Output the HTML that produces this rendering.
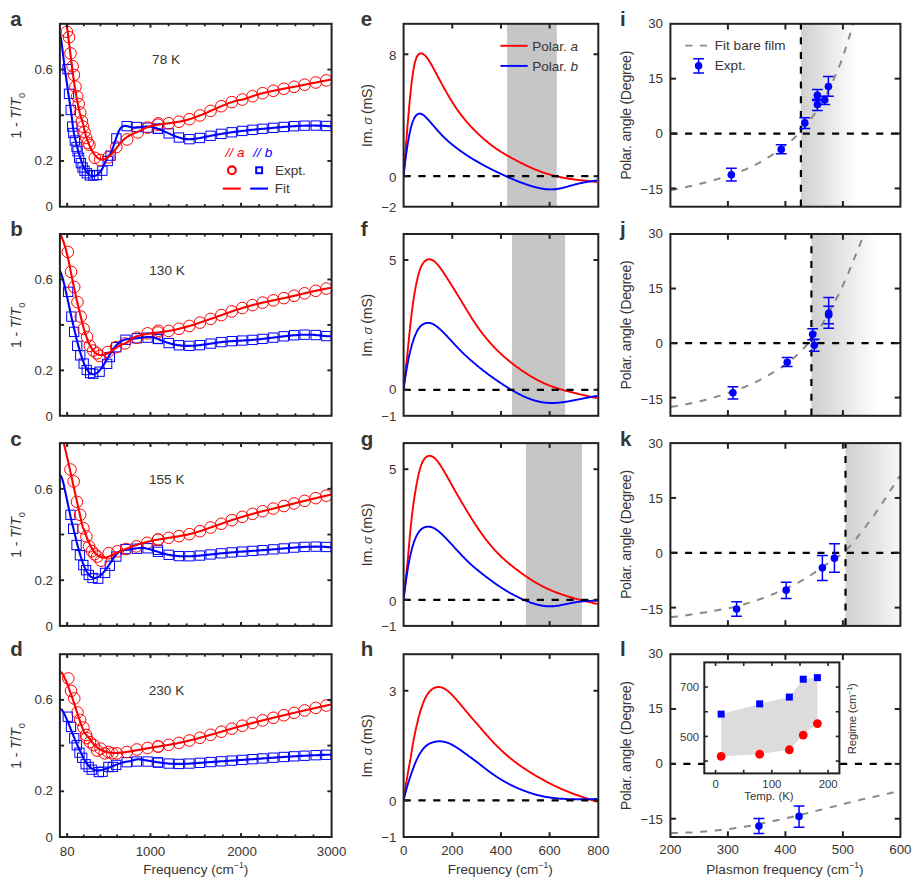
<!DOCTYPE html>
<html lang="en">
<head>
<meta charset="utf-8">
<title>Figure</title>
<style>html,body{margin:0;padding:0;background:#fff}svg{display:block}</style>
</head>
<body>
<svg width="915" height="882" viewBox="0 0 915 882" font-family="'Liberation Sans', Arial, Helvetica, sans-serif">
<rect width="915" height="882" fill="#ffffff"/>
<defs>
<clipPath id="c10"><rect x="59.9" y="23.8" width="271.7" height="182.9"/></clipPath>
<clipPath id="c20"><rect x="403.6" y="23.8" width="194.7" height="182.9"/></clipPath>
<clipPath id="c30"><rect x="670.4" y="23.8" width="230" height="182.9"/></clipPath>
<clipPath id="c11"><rect x="59.9" y="234" width="271.7" height="181.8"/></clipPath>
<clipPath id="c21"><rect x="403.6" y="234" width="194.7" height="181.8"/></clipPath>
<clipPath id="c31"><rect x="670.4" y="234" width="230" height="181.8"/></clipPath>
<clipPath id="c12"><rect x="59.9" y="443.1" width="271.7" height="182.8"/></clipPath>
<clipPath id="c22"><rect x="403.6" y="443.1" width="194.7" height="182.8"/></clipPath>
<clipPath id="c32"><rect x="670.4" y="443.1" width="230" height="182.8"/></clipPath>
<clipPath id="c13"><rect x="59.9" y="654.2" width="271.7" height="182.8"/></clipPath>
<clipPath id="c23"><rect x="403.6" y="654.2" width="194.7" height="182.8"/></clipPath>
<clipPath id="c33"><rect x="670.4" y="654.2" width="230" height="182.8"/></clipPath>
<linearGradient id="gg" x1="0" x2="1" y1="0" y2="0"><stop offset="0" stop-color="#d0d0d0"/><stop offset="0.5" stop-color="#e6e6e6"/><stop offset="1" stop-color="#ffffff"/></linearGradient>
</defs>
<g clip-path="url(#c10)">
<g fill="none" stroke="#0000ff" stroke-width="1">
<rect x="62.84" y="64.44" width="9.3" height="9.3"/>
<rect x="64.34" y="89.19" width="9.3" height="9.3"/>
<rect x="66.07" y="105.34" width="9.3" height="9.3"/>
<rect x="67.57" y="121.92" width="9.3" height="9.3"/>
<rect x="68.65" y="128.37" width="9.3" height="9.3"/>
<rect x="70.16" y="135.91" width="9.3" height="9.3"/>
<rect x="71.88" y="142.37" width="9.3" height="9.3"/>
<rect x="72.95" y="146.67" width="9.3" height="9.3"/>
<rect x="74.46" y="153.13" width="9.3" height="9.3"/>
<rect x="76.18" y="158.51" width="9.3" height="9.3"/>
<rect x="77.91" y="162.82" width="9.3" height="9.3"/>
<rect x="79.84" y="166.05" width="9.3" height="9.3"/>
<rect x="82.21" y="168.63" width="9.3" height="9.3"/>
<rect x="85.23" y="170.79" width="9.3" height="9.3"/>
<rect x="88.67" y="170.79" width="9.3" height="9.3"/>
<rect x="92.33" y="170.36" width="9.3" height="9.3"/>
<rect x="97.71" y="166.05" width="9.3" height="9.3"/>
<rect x="103.09" y="156.36" width="9.3" height="9.3"/>
<rect x="105.89" y="150.98" width="9.3" height="9.3"/>
<rect x="111.71" y="133.76" width="9.3" height="9.3"/>
<rect x="122.04" y="121.49" width="9.3" height="9.3"/>
<rect x="132.16" y="122.35" width="9.3" height="9.3"/>
<rect x="142.92" y="122.99" width="9.3" height="9.3"/>
<rect x="153.26" y="124.07" width="9.3" height="9.3"/>
<rect x="153.35" y="124.1" width="9.3" height="9.3"/>
<rect x="164.05" y="128.74" width="9.3" height="9.3"/>
<rect x="174.25" y="132.86" width="9.3" height="9.3"/>
<rect x="184.75" y="134.52" width="9.3" height="9.3"/>
<rect x="195.25" y="133.34" width="9.3" height="9.3"/>
<rect x="205.95" y="131.14" width="9.3" height="9.3"/>
<rect x="216.65" y="129.21" width="9.3" height="9.3"/>
<rect x="227.15" y="127.63" width="9.3" height="9.3"/>
<rect x="237.65" y="126.28" width="9.3" height="9.3"/>
<rect x="247.85" y="125.16" width="9.3" height="9.3"/>
<rect x="257.95" y="124.17" width="9.3" height="9.3"/>
<rect x="268.65" y="123.19" width="9.3" height="9.3"/>
<rect x="279.15" y="122.29" width="9.3" height="9.3"/>
<rect x="289.45" y="121.54" width="9.3" height="9.3"/>
<rect x="299.95" y="121.03" width="9.3" height="9.3"/>
<rect x="311.05" y="120.91" width="9.3" height="9.3"/>
<rect x="321.65" y="121.33" width="9.3" height="9.3"/>
</g>
<g fill="none" stroke="#ff0000" stroke-width="1">
<circle cx="66.84" cy="31.84" r="5.8"/>
<circle cx="68.99" cy="37.22" r="5.8"/>
<circle cx="70.5" cy="53.37" r="5.8"/>
<circle cx="72.65" cy="66.29" r="5.8"/>
<circle cx="73.95" cy="74.9" r="5.8"/>
<circle cx="75.45" cy="86.74" r="5.8"/>
<circle cx="77.17" cy="96.43" r="5.8"/>
<circle cx="78.68" cy="103.96" r="5.8"/>
<circle cx="80.19" cy="112.57" r="5.8"/>
<circle cx="81.91" cy="121.18" r="5.8"/>
<circle cx="82.99" cy="126.57" r="5.8"/>
<circle cx="84.49" cy="131.95" r="5.8"/>
<circle cx="86.22" cy="137.98" r="5.8"/>
<circle cx="87.72" cy="142.71" r="5.8"/>
<circle cx="89.45" cy="144.87" r="5.8"/>
<circle cx="94.83" cy="157.78" r="5.8"/>
<circle cx="100.21" cy="159.94" r="5.8"/>
<circle cx="116.36" cy="147.02" r="5.8"/>
<circle cx="127.12" cy="139.48" r="5.8"/>
<circle cx="137.88" cy="132.38" r="5.8"/>
<circle cx="147.57" cy="127.64" r="5.8"/>
<circle cx="158.34" cy="123.34" r="5.8"/>
<circle cx="108.3" cy="157.4" r="5.8"/>
<circle cx="158" cy="124.68" r="5.8"/>
<circle cx="168.7" cy="123.26" r="5.8"/>
<circle cx="178.9" cy="121.72" r="5.8"/>
<circle cx="189.4" cy="119.19" r="5.8"/>
<circle cx="199.9" cy="115.44" r="5.8"/>
<circle cx="210.6" cy="110.9" r="5.8"/>
<circle cx="221.3" cy="106.21" r="5.8"/>
<circle cx="231.8" cy="102.12" r="5.8"/>
<circle cx="242.3" cy="99.57" r="5.8"/>
<circle cx="252.5" cy="96.25" r="5.8"/>
<circle cx="262.6" cy="93.21" r="5.8"/>
<circle cx="273.3" cy="90.78" r="5.8"/>
<circle cx="283.8" cy="88.76" r="5.8"/>
<circle cx="294.1" cy="86.79" r="5.8"/>
<circle cx="304.6" cy="84.73" r="5.8"/>
<circle cx="315.7" cy="82.53" r="5.8"/>
<circle cx="326.3" cy="80.45" r="5.8"/>
</g>
<path d="M59.7 36.1 L60.3 35.7 L60.8 37.6 L61.4 41.0 L61.9 45.4 L62.5 49.9 L63.0 54.3 L63.6 58.6 L64.1 63.0 L64.6 67.2 L65.2 71.3 L65.7 75.1 L66.3 78.9 L66.8 82.7 L67.4 86.5 L67.9 90.5 L68.5 94.5 L69.0 98.2 L69.6 101.6 L70.1 104.8 L70.6 108.2 L71.2 112.1 L71.7 116.5 L72.3 121.3 L72.8 125.9 L73.4 129.9 L73.9 133.2 L74.5 136.0 L75.0 138.4 L75.6 140.6 L76.1 142.8 L76.6 144.9 L77.2 147.0 L77.7 149.1 L78.3 151.1 L78.8 153.0 L79.4 154.9 L79.9 156.7 L80.5 158.4 L81.0 160.1 L81.6 161.7 L82.1 163.2 L82.6 164.6 L83.2 165.9 L83.7 167.1 L84.3 168.2 L84.8 169.3 L85.4 170.2 L85.9 171.1 L86.5 171.9 L87.0 172.6 L87.6 173.3 L88.1 173.8 L88.6 174.3 L89.2 174.8 L89.7 175.1 L90.3 175.4 L90.8 175.7 L91.4 175.9 L91.9 176.0 L92.5 176.1 L93.0 176.1 L93.6 176.1 L94.1 176.1 L94.6 176.0 L95.2 175.8 L95.7 175.6 L96.3 175.4 L96.8 175.1 L97.4 174.8 L97.9 174.4 L98.5 173.9 L99.0 173.3 L99.6 172.7 L100.1 172.1 L100.6 171.3 L101.2 170.5 L101.7 169.6 L102.3 168.6 L102.8 167.5 L103.4 166.4 L103.9 165.2 L104.5 163.9 L105.0 162.7 L105.6 161.4 L106.1 160.2 L106.6 159.1 L107.2 158.1 L107.7 157.1 L108.3 156.3 L108.8 155.7 L109.4 155.1 L109.9 154.4 L110.5 153.6 L111.0 152.6 L111.6 151.4 L112.1 150.0 L112.6 148.5 L113.2 146.9 L113.7 145.3 L114.3 143.7 L114.8 142.0 L115.4 140.4 L115.9 138.8 L116.5 137.2 L117.0 135.7 L117.6 134.3 L118.1 132.9 L118.6 131.6 L119.2 130.5 L119.7 129.5 L120.3 128.6 L120.8 127.9 L121.4 127.3 L121.9 126.9 L122.5 126.5 L123.0 126.3 L123.6 126.1 L124.1 126.0 L124.6 125.9 L125.2 125.9 L125.7 126.0 L126.3 126.0 L126.8 126.1 L127.4 126.2 L127.9 126.3 L128.5 126.5 L129.0 126.6 L129.6 126.7 L130.1 126.9 L130.6 127.0 L131.2 127.1 L131.7 127.3 L132.3 127.4 L132.8 127.4 L133.4 127.5 L133.9 127.6 L134.5 127.6 L135.0 127.6 L135.6 127.6 L136.1 127.6 L136.6 127.6 L137.2 127.6 L137.7 127.5 L138.3 127.5 L138.8 127.4 L139.4 127.4 L139.9 127.3 L140.5 127.2 L141.0 127.1 L141.6 127.1 L142.1 127.0 L142.6 126.9 L143.2 126.8 L143.7 126.8 L144.3 126.7 L144.8 126.7 L145.4 126.6 L145.9 126.6 L146.5 126.5 L147.0 126.5 L147.6 126.5 L148.1 126.5 L148.6 126.5 L149.2 126.6 L149.7 126.6 L150.3 126.7 L150.8 126.7 L151.4 126.8 L151.9 126.9 L152.5 127.1 L153.0 127.2 L153.6 127.3 L154.1 127.5 L154.6 127.6 L155.2 127.8 L155.7 128.0 L156.3 128.1 L156.8 128.3 L157.4 128.5 L157.9 128.7 L158.5 128.9 L159.0 129.1 L159.6 129.3 L160.1 129.6 L160.6 129.8 L161.2 130.0 L161.7 130.3 L162.3 130.5 L162.8 130.7 L163.4 131.0 L163.9 131.2 L164.5 131.5 L165.0 131.7 L165.6 131.9 L166.1 132.2 L166.6 132.4 L167.2 132.7 L167.7 132.9 L168.3 133.2 L168.8 133.4 L169.4 133.7 L169.9 133.9 L170.5 134.2 L171.0 134.4 L171.6 134.7 L172.1 134.9 L172.6 135.1 L173.2 135.4 L173.7 135.6 L174.3 135.8 L174.8 136.0 L175.4 136.3 L175.9 136.5 L176.5 136.7 L177.0 136.9 L177.6 137.1 L178.1 137.3 L178.6 137.4 L179.2 137.6 L179.7 137.8 L180.3 137.9 L180.8 138.1 L181.4 138.2 L181.9 138.3 L182.5 138.5 L183.0 138.6 L183.6 138.7 L184.1 138.8 L184.6 138.9 L185.2 138.9 L185.7 139.0 L186.3 139.0 L186.8 139.1 L187.4 139.1 L187.9 139.1 L188.5 139.2 L189.0 139.2 L189.6 139.2 L190.1 139.2 L190.6 139.1 L191.2 139.1 L191.7 139.1 L192.3 139.1 L192.8 139.0 L193.4 139.0 L193.9 138.9 L194.5 138.8 L195.0 138.8 L195.6 138.7 L196.1 138.6 L196.6 138.5 L197.2 138.5 L197.7 138.4 L198.3 138.3 L198.8 138.2 L199.4 138.1 L199.9 138.0 L200.5 137.9 L201.0 137.8 L201.6 137.7 L202.1 137.6 L202.6 137.4 L203.2 137.3 L203.7 137.2 L204.3 137.1 L204.8 137.0 L205.4 136.9 L205.9 136.8 L206.5 136.6 L207.0 136.5 L207.6 136.4 L208.1 136.3 L208.6 136.2 L209.2 136.1 L209.7 136.0 L210.3 135.9 L210.8 135.7 L211.4 135.6 L211.9 135.5 L212.5 135.4 L213.0 135.3 L213.6 135.2 L214.1 135.1 L214.6 135.0 L215.2 134.9 L215.7 134.8 L216.3 134.7 L216.8 134.6 L217.4 134.5 L217.9 134.4 L218.5 134.3 L219.0 134.2 L219.6 134.2 L220.1 134.1 L220.6 134.0 L221.2 133.9 L221.7 133.8 L222.3 133.7 L222.8 133.6 L223.4 133.5 L223.9 133.4 L224.5 133.4 L225.0 133.3 L225.5 133.2 L226.1 133.1 L226.6 133.0 L227.2 132.9 L227.7 132.9 L228.3 132.8 L228.8 132.7 L229.4 132.6 L229.9 132.5 L230.5 132.5 L231.0 132.4 L231.5 132.3 L232.1 132.2 L232.6 132.2 L233.2 132.1 L233.7 132.0 L234.3 131.9 L234.8 131.9 L235.4 131.8 L235.9 131.7 L236.5 131.7 L237.0 131.6 L237.5 131.5 L238.1 131.4 L238.6 131.4 L239.2 131.3 L239.7 131.2 L240.3 131.2 L240.8 131.1 L241.4 131.0 L241.9 131.0 L242.5 130.9 L243.0 130.8 L243.5 130.8 L244.1 130.7 L244.6 130.7 L245.2 130.6 L245.7 130.5 L246.3 130.5 L246.8 130.4 L247.4 130.4 L247.9 130.3 L248.5 130.2 L249.0 130.2 L249.5 130.1 L250.1 130.1 L250.6 130.0 L251.2 129.9 L251.7 129.9 L252.3 129.8 L252.8 129.8 L253.4 129.7 L253.9 129.7 L254.5 129.6 L255.0 129.6 L255.5 129.5 L256.1 129.4 L256.6 129.4 L257.2 129.3 L257.7 129.3 L258.3 129.2 L258.8 129.2 L259.4 129.1 L259.9 129.1 L260.5 129.0 L261.0 129.0 L261.5 128.9 L262.1 128.9 L262.6 128.8 L263.2 128.8 L263.7 128.7 L264.3 128.7 L264.8 128.6 L265.4 128.6 L265.9 128.5 L266.5 128.5 L267.0 128.4 L267.5 128.4 L268.1 128.3 L268.6 128.3 L269.2 128.2 L269.7 128.2 L270.3 128.1 L270.8 128.1 L271.4 128.0 L271.9 128.0 L272.5 127.9 L273.0 127.9 L273.5 127.8 L274.1 127.8 L274.6 127.7 L275.2 127.7 L275.7 127.6 L276.3 127.6 L276.8 127.5 L277.4 127.5 L277.9 127.4 L278.5 127.4 L279.0 127.3 L279.5 127.3 L280.1 127.2 L280.6 127.2 L281.2 127.2 L281.7 127.1 L282.3 127.1 L282.8 127.0 L283.4 127.0 L283.9 126.9 L284.5 126.9 L285.0 126.8 L285.5 126.8 L286.1 126.8 L286.6 126.7 L287.2 126.7 L287.7 126.6 L288.3 126.6 L288.8 126.5 L289.4 126.5 L289.9 126.5 L290.5 126.4 L291.0 126.4 L291.5 126.4 L292.1 126.3 L292.6 126.3 L293.2 126.2 L293.7 126.2 L294.3 126.2 L294.8 126.1 L295.4 126.1 L295.9 126.1 L296.5 126.0 L297.0 126.0 L297.5 126.0 L298.1 126.0 L298.6 125.9 L299.2 125.9 L299.7 125.9 L300.3 125.8 L300.8 125.8 L301.4 125.8 L301.9 125.8 L302.5 125.8 L303.0 125.7 L303.5 125.7 L304.1 125.7 L304.6 125.7 L305.2 125.7 L305.7 125.6 L306.3 125.6 L306.8 125.6 L307.4 125.6 L307.9 125.6 L308.5 125.6 L309.0 125.6 L309.5 125.6 L310.1 125.6 L310.6 125.6 L311.2 125.5 L311.7 125.5 L312.3 125.5 L312.8 125.5 L313.4 125.5 L313.9 125.5 L314.5 125.5 L315.0 125.6 L315.5 125.6 L316.1 125.6 L316.6 125.6 L317.2 125.6 L317.7 125.6 L318.3 125.6 L318.8 125.6 L319.4 125.6 L319.9 125.7 L320.5 125.7 L321.0 125.7 L321.5 125.7 L322.1 125.7 L322.6 125.8 L323.2 125.8 L323.7 125.8 L324.3 125.9 L324.8 125.9 L325.4 125.9 L325.9 126.0 L326.5 126.0 L327.0 126.0 L327.5 126.1 L328.1 126.1 L328.6 126.2 L329.2 126.2 L329.7 126.2 L330.3 126.3 L330.8 126.3 L331.4 126.4 L331.9 126.5" fill="none" stroke="#0000ff" stroke-width="2.1" stroke-linejoin="round"/>
<path d="M65.8 19.9 L66.3 22.9 L66.8 26.3 L67.4 30.0 L67.9 33.9 L68.4 38.1 L69.0 42.3 L69.5 46.7 L70.0 51.1 L70.6 55.5 L71.1 59.8 L71.6 64.0 L72.2 68.2 L72.7 72.2 L73.2 76.2 L73.8 79.9 L74.3 83.6 L74.8 87.1 L75.4 90.4 L75.9 93.5 L76.4 96.5 L77.0 99.4 L77.5 102.1 L78.0 104.8 L78.6 107.4 L79.1 109.9 L79.6 112.3 L80.2 114.4 L80.7 116.2 L81.2 117.8 L81.8 119.4 L82.3 121.1 L82.8 123.1 L83.4 125.4 L83.9 127.7 L84.4 130.1 L85.0 132.3 L85.5 134.3 L86.0 136.1 L86.6 137.8 L87.1 139.3 L87.6 140.8 L88.2 142.2 L88.7 143.6 L89.2 144.9 L89.8 146.1 L90.3 147.3 L90.8 148.4 L91.4 149.4 L91.9 150.4 L92.4 151.4 L93.0 152.3 L93.5 153.1 L94.0 153.9 L94.6 154.6 L95.1 155.3 L95.6 155.9 L96.2 156.5 L96.7 157.0 L97.2 157.5 L97.8 157.9 L98.3 158.3 L98.8 158.6 L99.4 158.9 L99.9 159.1 L100.4 159.3 L101.0 159.4 L101.5 159.5 L102.0 159.6 L102.6 159.6 L103.1 159.5 L103.6 159.4 L104.2 159.3 L104.7 159.2 L105.2 159.0 L105.8 158.7 L106.3 158.4 L106.8 158.1 L107.4 157.8 L107.9 157.4 L108.4 157.0 L109.0 156.6 L109.5 156.1 L110.0 155.6 L110.6 155.1 L111.1 154.5 L111.6 154.0 L112.2 153.4 L112.7 152.8 L113.2 152.2 L113.8 151.5 L114.3 150.9 L114.8 150.2 L115.4 149.5 L115.9 148.8 L116.4 148.1 L117.0 147.4 L117.5 146.7 L118.0 146.1 L118.6 145.4 L119.1 144.7 L119.6 144.0 L120.2 143.4 L120.7 142.8 L121.2 142.2 L121.8 141.6 L122.3 141.0 L122.8 140.5 L123.4 139.9 L123.9 139.4 L124.4 139.0 L125.0 138.5 L125.5 138.1 L126.0 137.7 L126.6 137.3 L127.1 136.9 L127.6 136.6 L128.2 136.3 L128.7 136.0 L129.2 135.7 L129.8 135.4 L130.3 135.1 L130.8 134.8 L131.4 134.6 L131.9 134.3 L132.4 134.1 L133.0 133.8 L133.5 133.6 L134.0 133.4 L134.6 133.1 L135.1 132.9 L135.6 132.7 L136.2 132.4 L136.7 132.2 L137.2 131.9 L137.8 131.7 L138.3 131.4 L138.8 131.2 L139.4 130.9 L139.9 130.7 L140.4 130.4 L141.0 130.1 L141.5 129.9 L142.0 129.6 L142.6 129.4 L143.1 129.1 L143.6 128.8 L144.2 128.6 L144.7 128.4 L145.2 128.1 L145.8 127.9 L146.3 127.7 L146.8 127.4 L147.4 127.2 L147.9 127.0 L148.4 126.8 L149.0 126.7 L149.5 126.5 L150.0 126.3 L150.6 126.2 L151.1 126.0 L151.6 125.9 L152.2 125.7 L152.7 125.6 L153.2 125.5 L153.8 125.4 L154.3 125.3 L154.8 125.2 L155.4 125.1 L155.9 125.0 L156.4 124.9 L157.0 124.8 L157.5 124.8 L158.0 124.7 L158.6 124.6 L159.1 124.5 L159.6 124.4 L160.2 124.4 L160.7 124.3 L161.2 124.2 L161.8 124.2 L162.3 124.1 L162.8 124.0 L163.4 123.9 L163.9 123.9 L164.4 123.8 L165.0 123.7 L165.5 123.7 L166.0 123.6 L166.6 123.5 L167.1 123.5 L167.6 123.4 L168.2 123.3 L168.7 123.3 L169.2 123.2 L169.8 123.1 L170.3 123.1 L170.8 123.0 L171.4 122.9 L171.9 122.8 L172.4 122.8 L173.0 122.7 L173.5 122.6 L174.0 122.5 L174.6 122.4 L175.1 122.4 L175.6 122.3 L176.2 122.2 L176.7 122.1 L177.2 122.0 L177.8 121.9 L178.3 121.8 L178.8 121.7 L179.4 121.6 L179.9 121.5 L180.4 121.4 L181.0 121.3 L181.5 121.2 L182.0 121.1 L182.6 121.0 L183.1 120.9 L183.6 120.7 L184.2 120.6 L184.7 120.5 L185.2 120.4 L185.8 120.2 L186.3 120.1 L186.8 119.9 L187.4 119.8 L187.9 119.6 L188.4 119.5 L189.0 119.3 L189.5 119.2 L190.0 119.0 L190.6 118.8 L191.1 118.7 L191.6 118.5 L192.2 118.3 L192.7 118.1 L193.2 117.9 L193.8 117.8 L194.3 117.6 L194.8 117.4 L195.4 117.2 L195.9 117.0 L196.4 116.8 L197.0 116.6 L197.5 116.4 L198.0 116.2 L198.6 116.0 L199.1 115.8 L199.6 115.5 L200.2 115.3 L200.7 115.1 L201.2 114.9 L201.8 114.7 L202.3 114.5 L202.8 114.2 L203.4 114.0 L203.9 113.8 L204.4 113.6 L205.0 113.3 L205.5 113.1 L206.0 112.9 L206.6 112.7 L207.1 112.4 L207.6 112.2 L208.2 112.0 L208.7 111.7 L209.2 111.5 L209.8 111.3 L210.3 111.0 L210.8 110.8 L211.4 110.6 L211.9 110.3 L212.4 110.1 L213.0 109.9 L213.5 109.6 L214.0 109.4 L214.6 109.1 L215.1 108.9 L215.6 108.7 L216.2 108.4 L216.7 108.2 L217.2 108.0 L217.8 107.7 L218.3 107.5 L218.8 107.3 L219.4 107.0 L219.9 106.8 L220.4 106.6 L221.0 106.3 L221.5 106.1 L222.0 105.9 L222.6 105.7 L223.1 105.4 L223.6 105.2 L224.2 105.0 L224.7 104.8 L225.2 104.6 L225.8 104.3 L226.3 104.1 L226.8 103.9 L227.4 103.7 L227.9 103.5 L228.4 103.3 L229.0 103.1 L229.5 102.9 L230.0 102.7 L230.6 102.5 L231.1 102.4 L231.6 102.2 L232.2 102.0 L232.7 101.8 L233.2 101.7 L233.8 101.5 L234.3 101.3 L234.8 101.2 L235.4 101.0 L235.9 100.9 L236.4 100.8 L237.0 100.6 L237.5 100.5 L238.0 100.4 L238.6 100.3 L239.1 100.2 L239.6 100.0 L240.2 100.0 L240.7 99.9 L241.2 99.8 L241.8 99.7 L242.3 99.6 L242.8 99.5 L243.4 99.3 L243.9 99.2 L244.4 99.0 L245.0 98.9 L245.5 98.7 L246.0 98.5 L246.6 98.4 L247.1 98.2 L247.6 98.0 L248.2 97.8 L248.7 97.6 L249.2 97.4 L249.8 97.2 L250.3 97.0 L250.8 96.8 L251.4 96.7 L251.9 96.5 L252.4 96.3 L253.0 96.1 L253.5 95.9 L254.0 95.7 L254.6 95.6 L255.1 95.4 L255.6 95.2 L256.2 95.0 L256.7 94.9 L257.2 94.7 L257.8 94.6 L258.3 94.4 L258.8 94.2 L259.4 94.1 L259.9 93.9 L260.4 93.8 L261.0 93.6 L261.5 93.5 L262.0 93.4 L262.6 93.2 L263.1 93.1 L263.6 92.9 L264.2 92.8 L264.7 92.7 L265.2 92.6 L265.8 92.4 L266.3 92.3 L266.8 92.2 L267.4 92.1 L267.9 91.9 L268.4 91.8 L269.0 91.7 L269.5 91.6 L270.0 91.5 L270.6 91.3 L271.1 91.2 L271.6 91.1 L272.2 91.0 L272.7 90.9 L273.2 90.8 L273.8 90.7 L274.3 90.6 L274.8 90.5 L275.4 90.4 L275.9 90.3 L276.4 90.2 L277.0 90.1 L277.5 90.0 L278.0 89.8 L278.6 89.7 L279.1 89.6 L279.6 89.5 L280.2 89.4 L280.7 89.3 L281.2 89.2 L281.8 89.1 L282.3 89.0 L282.8 88.9 L283.4 88.8 L283.9 88.7 L284.4 88.6 L285.0 88.5 L285.5 88.4 L286.0 88.3 L286.6 88.2 L287.1 88.1 L287.6 88.0 L288.2 87.9 L288.7 87.8 L289.2 87.7 L289.8 87.6 L290.3 87.5 L290.8 87.4 L291.4 87.3 L291.9 87.2 L292.4 87.1 L293.0 87.0 L293.5 86.9 L294.0 86.8 L294.6 86.7 L295.1 86.6 L295.6 86.5 L296.2 86.4 L296.7 86.3 L297.2 86.2 L297.8 86.1 L298.3 86.0 L298.8 85.9 L299.4 85.8 L299.9 85.7 L300.4 85.6 L301.0 85.4 L301.5 85.3 L302.0 85.2 L302.6 85.1 L303.1 85.0 L303.6 84.9 L304.2 84.8 L304.7 84.7 L305.2 84.6 L305.8 84.5 L306.3 84.4 L306.8 84.3 L307.4 84.2 L307.9 84.1 L308.4 84.0 L309.0 83.9 L309.5 83.8 L310.0 83.7 L310.6 83.5 L311.1 83.4 L311.6 83.3 L312.2 83.2 L312.7 83.1 L313.2 83.0 L313.8 82.9 L314.3 82.8 L314.8 82.7 L315.4 82.6 L315.9 82.5 L316.4 82.4 L317.0 82.3 L317.5 82.2 L318.0 82.1 L318.6 82.0 L319.1 81.9 L319.6 81.8 L320.2 81.6 L320.7 81.5 L321.2 81.4 L321.8 81.3 L322.3 81.2 L322.8 81.1 L323.4 81.0 L323.9 80.9 L324.4 80.8 L325.0 80.7 L325.5 80.6 L326.0 80.5 L326.6 80.4 L327.1 80.3 L327.6 80.2 L328.2 80.1 L328.7 80.0 L329.2 79.9 L329.8 79.8 L330.3 79.7 L330.8 79.6 L331.4 79.5 L331.9 79.4" fill="none" stroke="#ff0000" stroke-width="2.1" stroke-linejoin="round"/>
</g>
<line x1="83.81" y1="206.7" x2="83.81" y2="204.2" stroke="#222222" stroke-width="1.8"/>
<line x1="83.81" y1="23.8" x2="83.81" y2="26.3" stroke="#222222" stroke-width="1.8"/>
<line x1="100.47" y1="206.7" x2="100.47" y2="204.2" stroke="#222222" stroke-width="1.8"/>
<line x1="100.47" y1="23.8" x2="100.47" y2="26.3" stroke="#222222" stroke-width="1.8"/>
<line x1="117.14" y1="206.7" x2="117.14" y2="204.2" stroke="#222222" stroke-width="1.8"/>
<line x1="117.14" y1="23.8" x2="117.14" y2="26.3" stroke="#222222" stroke-width="1.8"/>
<line x1="133.8" y1="206.7" x2="133.8" y2="204.2" stroke="#222222" stroke-width="1.8"/>
<line x1="133.8" y1="23.8" x2="133.8" y2="26.3" stroke="#222222" stroke-width="1.8"/>
<line x1="168.58" y1="206.7" x2="168.58" y2="204.2" stroke="#222222" stroke-width="1.8"/>
<line x1="168.58" y1="23.8" x2="168.58" y2="26.3" stroke="#222222" stroke-width="1.8"/>
<line x1="186.69" y1="206.7" x2="186.69" y2="204.2" stroke="#222222" stroke-width="1.8"/>
<line x1="186.69" y1="23.8" x2="186.69" y2="26.3" stroke="#222222" stroke-width="1.8"/>
<line x1="204.81" y1="206.7" x2="204.81" y2="204.2" stroke="#222222" stroke-width="1.8"/>
<line x1="204.81" y1="23.8" x2="204.81" y2="26.3" stroke="#222222" stroke-width="1.8"/>
<line x1="222.92" y1="206.7" x2="222.92" y2="204.2" stroke="#222222" stroke-width="1.8"/>
<line x1="222.92" y1="23.8" x2="222.92" y2="26.3" stroke="#222222" stroke-width="1.8"/>
<line x1="259.15" y1="206.7" x2="259.15" y2="204.2" stroke="#222222" stroke-width="1.8"/>
<line x1="259.15" y1="23.8" x2="259.15" y2="26.3" stroke="#222222" stroke-width="1.8"/>
<line x1="277.26" y1="206.7" x2="277.26" y2="204.2" stroke="#222222" stroke-width="1.8"/>
<line x1="277.26" y1="23.8" x2="277.26" y2="26.3" stroke="#222222" stroke-width="1.8"/>
<line x1="295.37" y1="206.7" x2="295.37" y2="204.2" stroke="#222222" stroke-width="1.8"/>
<line x1="295.37" y1="23.8" x2="295.37" y2="26.3" stroke="#222222" stroke-width="1.8"/>
<line x1="313.49" y1="206.7" x2="313.49" y2="204.2" stroke="#222222" stroke-width="1.8"/>
<line x1="313.49" y1="23.8" x2="313.49" y2="26.3" stroke="#222222" stroke-width="1.8"/>
<line x1="67.15" y1="206.7" x2="67.15" y2="202.8" stroke="#222222" stroke-width="2"/>
<line x1="67.15" y1="23.8" x2="67.15" y2="27.7" stroke="#222222" stroke-width="2"/>
<line x1="150.47" y1="206.7" x2="150.47" y2="202.8" stroke="#222222" stroke-width="2"/>
<line x1="150.47" y1="23.8" x2="150.47" y2="27.7" stroke="#222222" stroke-width="2"/>
<line x1="241.03" y1="206.7" x2="241.03" y2="202.8" stroke="#222222" stroke-width="2"/>
<line x1="241.03" y1="23.8" x2="241.03" y2="27.7" stroke="#222222" stroke-width="2"/>
<line x1="59.9" y1="160.97" x2="64.1" y2="160.97" stroke="#222222" stroke-width="1.9"/>
<line x1="331.6" y1="160.97" x2="327.4" y2="160.97" stroke="#222222" stroke-width="1.9"/>
<line x1="59.9" y1="115.25" x2="64.1" y2="115.25" stroke="#222222" stroke-width="1.9"/>
<line x1="331.6" y1="115.25" x2="327.4" y2="115.25" stroke="#222222" stroke-width="1.9"/>
<line x1="59.9" y1="69.53" x2="64.1" y2="69.53" stroke="#222222" stroke-width="1.9"/>
<line x1="331.6" y1="69.53" x2="327.4" y2="69.53" stroke="#222222" stroke-width="1.9"/>
<rect x="59.9" y="23.8" width="271.7" height="182.9" fill="none" stroke="#222222" stroke-width="2"/>
<text x="53" y="210.9" font-size="13.3" text-anchor="end" fill="#3a3532">0</text>
<text x="53" y="165.3" font-size="13.3" text-anchor="end" fill="#3a3532">0.2</text>
<text x="53" y="73.9" font-size="13.3" text-anchor="end" fill="#3a3532">0.6</text>
<text transform="translate(21.4 115.75) rotate(-90)" font-size="14.2" letter-spacing="-0.2" text-anchor="middle" fill="#3a3532">1 - <tspan font-style="italic">T</tspan>/<tspan font-style="italic">T</tspan><tspan dy="3.2" font-size="9.2">0</tspan></text>
<text x="10.3" y="26.1" font-size="20.5" text-anchor="start" fill="#3a3532" font-weight="bold" fill="#111">a</text>
<text x="152.1" y="64.1" font-size="13.6" text-anchor="start" fill="#3a3532">78 K</text>
<g clip-path="url(#c11)">
<g fill="none" stroke="#0000ff" stroke-width="1">
<rect x="132.16" y="333.64" width="9.3" height="9.3"/>
<rect x="142.92" y="332.99" width="9.3" height="9.3"/>
<rect x="153.26" y="334.07" width="9.3" height="9.3"/>
<rect x="63.45" y="287.16" width="9.3" height="9.3"/>
<rect x="66.68" y="311.94" width="9.3" height="9.3"/>
<rect x="69.49" y="327.25" width="9.3" height="9.3"/>
<rect x="72.55" y="341.2" width="9.3" height="9.3"/>
<rect x="75.62" y="350.72" width="9.3" height="9.3"/>
<rect x="79.02" y="358.89" width="9.3" height="9.3"/>
<rect x="82.08" y="365.35" width="9.3" height="9.3"/>
<rect x="85.48" y="368.41" width="9.3" height="9.3"/>
<rect x="88.54" y="369.09" width="9.3" height="9.3"/>
<rect x="95" y="367.05" width="9.3" height="9.3"/>
<rect x="102.49" y="359.23" width="9.3" height="9.3"/>
<rect x="105.21" y="352.42" width="9.3" height="9.3"/>
<rect x="111.67" y="342.56" width="9.3" height="9.3"/>
<rect x="120.85" y="335.08" width="9.3" height="9.3"/>
<rect x="153.35" y="334.37" width="9.3" height="9.3"/>
<rect x="164.05" y="338.41" width="9.3" height="9.3"/>
<rect x="174.25" y="340.61" width="9.3" height="9.3"/>
<rect x="184.75" y="341.22" width="9.3" height="9.3"/>
<rect x="195.25" y="340.47" width="9.3" height="9.3"/>
<rect x="205.95" y="338.97" width="9.3" height="9.3"/>
<rect x="216.65" y="337.45" width="9.3" height="9.3"/>
<rect x="227.15" y="336.5" width="9.3" height="9.3"/>
<rect x="237.65" y="335.9" width="9.3" height="9.3"/>
<rect x="247.85" y="335.25" width="9.3" height="9.3"/>
<rect x="257.95" y="334.25" width="9.3" height="9.3"/>
<rect x="268.65" y="332.95" width="9.3" height="9.3"/>
<rect x="279.15" y="331.66" width="9.3" height="9.3"/>
<rect x="289.45" y="330.6" width="9.3" height="9.3"/>
<rect x="299.95" y="330.05" width="9.3" height="9.3"/>
<rect x="311.05" y="330.39" width="9.3" height="9.3"/>
<rect x="321.65" y="331.47" width="9.3" height="9.3"/>
</g>
<g fill="none" stroke="#ff0000" stroke-width="1">
<circle cx="136.81" cy="337.64" r="5.8"/>
<circle cx="147.57" cy="333.34" r="5.8"/>
<circle cx="158.34" cy="330.75" r="5.8"/>
<circle cx="67.78" cy="251.94" r="5.8"/>
<circle cx="71.01" cy="271.87" r="5.8"/>
<circle cx="74.24" cy="286.96" r="5.8"/>
<circle cx="77.47" cy="302.04" r="5.8"/>
<circle cx="80.71" cy="316.59" r="5.8"/>
<circle cx="83.67" cy="328.84" r="5.8"/>
<circle cx="87.07" cy="337.01" r="5.8"/>
<circle cx="89.79" cy="345.85" r="5.8"/>
<circle cx="93.19" cy="350.61" r="5.8"/>
<circle cx="96.93" cy="353.33" r="5.8"/>
<circle cx="99.65" cy="356.05" r="5.8"/>
<circle cx="107.82" cy="351.97" r="5.8"/>
<circle cx="115.98" cy="347.21" r="5.8"/>
<circle cx="124.82" cy="343.47" r="5.8"/>
<circle cx="158" cy="332.45" r="5.8"/>
<circle cx="168.7" cy="330.91" r="5.8"/>
<circle cx="178.9" cy="328.79" r="5.8"/>
<circle cx="189.4" cy="325.94" r="5.8"/>
<circle cx="199.9" cy="322.62" r="5.8"/>
<circle cx="210.6" cy="318.92" r="5.8"/>
<circle cx="221.3" cy="315.12" r="5.8"/>
<circle cx="231.8" cy="311.46" r="5.8"/>
<circle cx="242.3" cy="308.05" r="5.8"/>
<circle cx="252.5" cy="305.11" r="5.8"/>
<circle cx="262.6" cy="302.65" r="5.8"/>
<circle cx="273.3" cy="300.34" r="5.8"/>
<circle cx="283.8" cy="298.11" r="5.8"/>
<circle cx="294.1" cy="295.77" r="5.8"/>
<circle cx="304.6" cy="293.31" r="5.8"/>
<circle cx="315.7" cy="290.79" r="5.8"/>
<circle cx="326.3" cy="288.63" r="5.8"/>
</g>
<path d="M59.7 270.5 L60.3 271.4 L60.8 272.7 L61.4 274.1 L61.9 275.8 L62.5 277.6 L63.0 279.6 L63.6 281.7 L64.1 283.8 L64.6 286.1 L65.2 288.4 L65.7 290.8 L66.3 293.2 L66.8 295.7 L67.4 298.2 L67.9 300.7 L68.5 303.2 L69.0 305.7 L69.6 308.2 L70.1 310.8 L70.6 313.3 L71.2 315.8 L71.7 318.3 L72.3 320.7 L72.8 323.1 L73.4 325.5 L73.9 327.9 L74.5 330.2 L75.0 332.5 L75.6 334.7 L76.1 337.0 L76.6 339.1 L77.2 341.3 L77.7 343.4 L78.3 345.4 L78.8 347.4 L79.4 349.4 L79.9 351.3 L80.5 353.1 L81.0 354.9 L81.6 356.6 L82.1 358.3 L82.6 359.8 L83.2 361.3 L83.7 362.7 L84.3 364.1 L84.8 365.3 L85.4 366.5 L85.9 367.6 L86.5 368.6 L87.0 369.5 L87.6 370.3 L88.1 371.0 L88.6 371.7 L89.2 372.3 L89.7 372.7 L90.3 373.2 L90.8 373.5 L91.4 373.8 L91.9 374.0 L92.5 374.1 L93.0 374.2 L93.6 374.2 L94.1 374.1 L94.6 374.0 L95.2 373.8 L95.7 373.6 L96.3 373.3 L96.8 372.9 L97.4 372.5 L97.9 372.1 L98.5 371.6 L99.0 371.0 L99.6 370.4 L100.1 369.8 L100.6 369.1 L101.2 368.4 L101.7 367.7 L102.3 366.9 L102.8 366.1 L103.4 365.3 L103.9 364.4 L104.5 363.5 L105.0 362.6 L105.6 361.7 L106.1 360.8 L106.6 359.8 L107.2 358.9 L107.7 358.0 L108.3 357.0 L108.8 356.1 L109.4 355.2 L109.9 354.3 L110.5 353.4 L111.0 352.5 L111.6 351.6 L112.1 350.8 L112.6 350.0 L113.2 349.3 L113.7 348.5 L114.3 347.8 L114.8 347.1 L115.4 346.5 L115.9 345.8 L116.5 345.2 L117.0 344.7 L117.6 344.1 L118.1 343.6 L118.6 343.1 L119.2 342.7 L119.7 342.3 L120.3 341.9 L120.8 341.5 L121.4 341.2 L121.9 340.8 L122.5 340.6 L123.0 340.3 L123.6 340.1 L124.1 339.9 L124.6 339.7 L125.2 339.6 L125.7 339.4 L126.3 339.3 L126.8 339.2 L127.4 339.1 L127.9 339.1 L128.5 339.0 L129.0 339.0 L129.6 338.9 L130.1 338.9 L130.6 338.8 L131.2 338.8 L131.7 338.7 L132.3 338.7 L132.8 338.7 L133.4 338.6 L133.9 338.6 L134.5 338.5 L135.0 338.5 L135.6 338.4 L136.1 338.4 L136.6 338.3 L137.2 338.2 L137.7 338.2 L138.3 338.1 L138.8 338.0 L139.4 338.0 L139.9 337.9 L140.5 337.8 L141.0 337.8 L141.6 337.7 L142.1 337.6 L142.6 337.5 L143.2 337.5 L143.7 337.4 L144.3 337.3 L144.8 337.2 L145.4 337.2 L145.9 337.1 L146.5 337.1 L147.0 337.0 L147.6 337.0 L148.1 337.0 L148.6 337.0 L149.2 337.0 L149.7 337.0 L150.3 337.0 L150.8 337.1 L151.4 337.1 L151.9 337.2 L152.5 337.3 L153.0 337.4 L153.6 337.5 L154.1 337.6 L154.6 337.8 L155.2 338.0 L155.7 338.1 L156.3 338.3 L156.8 338.5 L157.4 338.8 L157.9 339.0 L158.5 339.2 L159.0 339.4 L159.6 339.7 L160.1 339.9 L160.6 340.2 L161.2 340.4 L161.7 340.6 L162.3 340.8 L162.8 341.0 L163.4 341.3 L163.9 341.5 L164.5 341.7 L165.0 341.9 L165.6 342.1 L166.1 342.2 L166.6 342.4 L167.2 342.6 L167.7 342.8 L168.3 342.9 L168.8 343.1 L169.4 343.3 L169.9 343.4 L170.5 343.6 L171.0 343.7 L171.6 343.8 L172.1 344.0 L172.6 344.1 L173.2 344.2 L173.7 344.4 L174.3 344.5 L174.8 344.6 L175.4 344.7 L175.9 344.8 L176.5 344.9 L177.0 345.0 L177.6 345.1 L178.1 345.1 L178.6 345.2 L179.2 345.3 L179.7 345.4 L180.3 345.4 L180.8 345.5 L181.4 345.6 L181.9 345.6 L182.5 345.7 L183.0 345.7 L183.6 345.7 L184.1 345.8 L184.6 345.8 L185.2 345.8 L185.7 345.8 L186.3 345.9 L186.8 345.9 L187.4 345.9 L187.9 345.9 L188.5 345.9 L189.0 345.9 L189.6 345.9 L190.1 345.9 L190.6 345.8 L191.2 345.8 L191.7 345.8 L192.3 345.8 L192.8 345.7 L193.4 345.7 L193.9 345.7 L194.5 345.6 L195.0 345.6 L195.6 345.6 L196.1 345.5 L196.6 345.5 L197.2 345.4 L197.7 345.4 L198.3 345.3 L198.8 345.2 L199.4 345.2 L199.9 345.1 L200.5 345.1 L201.0 345.0 L201.6 344.9 L202.1 344.8 L202.6 344.8 L203.2 344.7 L203.7 344.6 L204.3 344.6 L204.8 344.5 L205.4 344.4 L205.9 344.3 L206.5 344.2 L207.0 344.2 L207.6 344.1 L208.1 344.0 L208.6 343.9 L209.2 343.8 L209.7 343.8 L210.3 343.7 L210.8 343.6 L211.4 343.5 L211.9 343.4 L212.5 343.3 L213.0 343.3 L213.6 343.2 L214.1 343.1 L214.6 343.0 L215.2 342.9 L215.7 342.9 L216.3 342.8 L216.8 342.7 L217.4 342.6 L217.9 342.5 L218.5 342.5 L219.0 342.4 L219.6 342.3 L220.1 342.3 L220.6 342.2 L221.2 342.1 L221.7 342.1 L222.3 342.0 L222.8 341.9 L223.4 341.9 L223.9 341.8 L224.5 341.8 L225.0 341.7 L225.5 341.6 L226.1 341.6 L226.6 341.5 L227.2 341.5 L227.7 341.5 L228.3 341.4 L228.8 341.4 L229.4 341.3 L229.9 341.3 L230.5 341.2 L231.0 341.2 L231.5 341.2 L232.1 341.1 L232.6 341.1 L233.2 341.1 L233.7 341.0 L234.3 341.0 L234.8 341.0 L235.4 340.9 L235.9 340.9 L236.5 340.9 L237.0 340.8 L237.5 340.8 L238.1 340.8 L238.6 340.7 L239.2 340.7 L239.7 340.7 L240.3 340.7 L240.8 340.6 L241.4 340.6 L241.9 340.6 L242.5 340.5 L243.0 340.5 L243.5 340.5 L244.1 340.5 L244.6 340.4 L245.2 340.4 L245.7 340.4 L246.3 340.3 L246.8 340.3 L247.4 340.3 L247.9 340.2 L248.5 340.2 L249.0 340.2 L249.5 340.1 L250.1 340.1 L250.6 340.0 L251.2 340.0 L251.7 340.0 L252.3 339.9 L252.8 339.9 L253.4 339.8 L253.9 339.8 L254.5 339.7 L255.0 339.7 L255.5 339.6 L256.1 339.6 L256.6 339.5 L257.2 339.5 L257.7 339.4 L258.3 339.4 L258.8 339.3 L259.4 339.3 L259.9 339.2 L260.5 339.1 L261.0 339.1 L261.5 339.0 L262.1 339.0 L262.6 338.9 L263.2 338.8 L263.7 338.8 L264.3 338.7 L264.8 338.6 L265.4 338.6 L265.9 338.5 L266.5 338.5 L267.0 338.4 L267.5 338.3 L268.1 338.3 L268.6 338.2 L269.2 338.1 L269.7 338.1 L270.3 338.0 L270.8 337.9 L271.4 337.8 L271.9 337.8 L272.5 337.7 L273.0 337.6 L273.5 337.6 L274.1 337.5 L274.6 337.4 L275.2 337.4 L275.7 337.3 L276.3 337.2 L276.8 337.2 L277.4 337.1 L277.9 337.0 L278.5 337.0 L279.0 336.9 L279.5 336.8 L280.1 336.8 L280.6 336.7 L281.2 336.6 L281.7 336.6 L282.3 336.5 L282.8 336.4 L283.4 336.4 L283.9 336.3 L284.5 336.2 L285.0 336.2 L285.5 336.1 L286.1 336.0 L286.6 336.0 L287.2 335.9 L287.7 335.9 L288.3 335.8 L288.8 335.7 L289.4 335.7 L289.9 335.6 L290.5 335.6 L291.0 335.5 L291.5 335.5 L292.1 335.4 L292.6 335.4 L293.2 335.3 L293.7 335.3 L294.3 335.2 L294.8 335.2 L295.4 335.2 L295.9 335.1 L296.5 335.1 L297.0 335.0 L297.5 335.0 L298.1 335.0 L298.6 334.9 L299.2 334.9 L299.7 334.9 L300.3 334.8 L300.8 334.8 L301.4 334.8 L301.9 334.8 L302.5 334.8 L303.0 334.7 L303.5 334.7 L304.1 334.7 L304.6 334.7 L305.2 334.7 L305.7 334.7 L306.3 334.7 L306.8 334.7 L307.4 334.7 L307.9 334.7 L308.5 334.7 L309.0 334.7 L309.5 334.7 L310.1 334.7 L310.6 334.7 L311.2 334.8 L311.7 334.8 L312.3 334.8 L312.8 334.8 L313.4 334.9 L313.9 334.9 L314.5 334.9 L315.0 335.0 L315.5 335.0 L316.1 335.1 L316.6 335.1 L317.2 335.2 L317.7 335.2 L318.3 335.3 L318.8 335.3 L319.4 335.4 L319.9 335.5 L320.5 335.5 L321.0 335.6 L321.5 335.6 L322.1 335.7 L322.6 335.8 L323.2 335.8 L323.7 335.9 L324.3 335.9 L324.8 336.0 L325.4 336.0 L325.9 336.1 L326.5 336.1 L327.0 336.2 L327.5 336.2 L328.1 336.2 L328.6 336.3 L329.2 336.3 L329.7 336.3 L330.3 336.3 L330.8 336.3 L331.4 336.3 L331.9 336.3" fill="none" stroke="#0000ff" stroke-width="2.1" stroke-linejoin="round"/>
<path d="M59.7 232.7 L60.3 233.9 L60.8 235.2 L61.4 236.4 L61.9 237.8 L62.5 239.1 L63.0 240.5 L63.6 242.0 L64.1 243.6 L64.6 245.3 L65.2 247.0 L65.7 248.9 L66.3 251.0 L66.8 253.1 L67.4 255.4 L67.9 257.8 L68.5 260.3 L69.0 262.8 L69.6 265.4 L70.1 268.1 L70.6 270.8 L71.2 273.6 L71.7 276.3 L72.3 279.1 L72.8 281.8 L73.4 284.4 L73.9 287.0 L74.5 289.6 L75.0 292.1 L75.6 294.6 L76.1 297.0 L76.6 299.4 L77.2 301.7 L77.7 304.1 L78.3 306.4 L78.8 308.7 L79.4 311.0 L79.9 313.2 L80.5 315.5 L81.0 317.7 L81.6 319.9 L82.1 322.1 L82.6 324.1 L83.2 326.2 L83.7 328.2 L84.3 330.1 L84.8 331.9 L85.4 333.7 L85.9 335.4 L86.5 337.0 L87.0 338.5 L87.6 339.9 L88.1 341.3 L88.6 342.6 L89.2 343.8 L89.7 344.9 L90.3 346.0 L90.8 346.9 L91.4 347.9 L91.9 348.7 L92.5 349.5 L93.0 350.3 L93.6 350.9 L94.1 351.5 L94.6 352.1 L95.2 352.6 L95.7 353.0 L96.3 353.4 L96.8 353.8 L97.4 354.1 L97.9 354.3 L98.5 354.6 L99.0 354.7 L99.6 354.9 L100.1 355.0 L100.6 355.0 L101.2 355.0 L101.7 355.0 L102.3 355.0 L102.8 354.9 L103.4 354.8 L103.9 354.7 L104.5 354.5 L105.0 354.4 L105.6 354.2 L106.1 354.0 L106.6 353.7 L107.2 353.5 L107.7 353.2 L108.3 353.0 L108.8 352.7 L109.4 352.4 L109.9 352.0 L110.5 351.7 L111.0 351.4 L111.6 351.0 L112.1 350.7 L112.6 350.3 L113.2 349.9 L113.7 349.6 L114.3 349.2 L114.8 348.8 L115.4 348.4 L115.9 348.1 L116.5 347.7 L117.0 347.3 L117.6 347.0 L118.1 346.6 L118.6 346.3 L119.2 345.9 L119.7 345.6 L120.3 345.3 L120.8 345.0 L121.4 344.8 L121.9 344.5 L122.5 344.3 L123.0 344.1 L123.6 343.9 L124.1 343.7 L124.6 343.5 L125.2 343.3 L125.7 343.1 L126.3 342.8 L126.8 342.5 L127.4 342.2 L127.9 341.8 L128.5 341.3 L129.0 340.9 L129.6 340.4 L130.1 339.9 L130.6 339.5 L131.2 339.1 L131.7 338.7 L132.3 338.3 L132.8 338.0 L133.4 337.7 L133.9 337.4 L134.5 337.2 L135.0 336.9 L135.6 336.7 L136.1 336.5 L136.6 336.3 L137.2 336.2 L137.7 336.0 L138.3 335.8 L138.8 335.7 L139.4 335.6 L139.9 335.4 L140.5 335.3 L141.0 335.2 L141.6 335.1 L142.1 334.9 L142.6 334.8 L143.2 334.7 L143.7 334.6 L144.3 334.5 L144.8 334.4 L145.4 334.3 L145.9 334.2 L146.5 334.1 L147.0 334.0 L147.6 333.9 L148.1 333.8 L148.6 333.8 L149.2 333.7 L149.7 333.6 L150.3 333.5 L150.8 333.4 L151.4 333.3 L151.9 333.3 L152.5 333.2 L153.0 333.1 L153.6 333.0 L154.1 333.0 L154.6 332.9 L155.2 332.8 L155.7 332.7 L156.3 332.7 L156.8 332.6 L157.4 332.5 L157.9 332.5 L158.5 332.4 L159.0 332.3 L159.6 332.3 L160.1 332.2 L160.6 332.1 L161.2 332.0 L161.7 332.0 L162.3 331.9 L162.8 331.8 L163.4 331.7 L163.9 331.7 L164.5 331.6 L165.0 331.5 L165.6 331.4 L166.1 331.3 L166.6 331.2 L167.2 331.2 L167.7 331.1 L168.3 331.0 L168.8 330.9 L169.4 330.8 L169.9 330.7 L170.5 330.6 L171.0 330.5 L171.6 330.4 L172.1 330.3 L172.6 330.2 L173.2 330.1 L173.7 330.0 L174.3 329.8 L174.8 329.7 L175.4 329.6 L175.9 329.5 L176.5 329.4 L177.0 329.2 L177.6 329.1 L178.1 329.0 L178.6 328.8 L179.2 328.7 L179.7 328.6 L180.3 328.4 L180.8 328.3 L181.4 328.2 L181.9 328.0 L182.5 327.9 L183.0 327.7 L183.6 327.6 L184.1 327.5 L184.6 327.3 L185.2 327.2 L185.7 327.0 L186.3 326.8 L186.8 326.7 L187.4 326.5 L187.9 326.4 L188.5 326.2 L189.0 326.1 L189.6 325.9 L190.1 325.7 L190.6 325.6 L191.2 325.4 L191.7 325.2 L192.3 325.1 L192.8 324.9 L193.4 324.7 L193.9 324.6 L194.5 324.4 L195.0 324.2 L195.6 324.0 L196.1 323.9 L196.6 323.7 L197.2 323.5 L197.7 323.3 L198.3 323.2 L198.8 323.0 L199.4 322.8 L199.9 322.6 L200.5 322.4 L201.0 322.2 L201.6 322.1 L202.1 321.9 L202.6 321.7 L203.2 321.5 L203.7 321.3 L204.3 321.1 L204.8 320.9 L205.4 320.8 L205.9 320.6 L206.5 320.4 L207.0 320.2 L207.6 320.0 L208.1 319.8 L208.6 319.6 L209.2 319.4 L209.7 319.2 L210.3 319.0 L210.8 318.8 L211.4 318.7 L211.9 318.5 L212.5 318.3 L213.0 318.1 L213.6 317.9 L214.1 317.7 L214.6 317.5 L215.2 317.3 L215.7 317.1 L216.3 316.9 L216.8 316.7 L217.4 316.5 L217.9 316.3 L218.5 316.1 L219.0 315.9 L219.6 315.7 L220.1 315.5 L220.6 315.4 L221.2 315.2 L221.7 315.0 L222.3 314.8 L222.8 314.6 L223.4 314.4 L223.9 314.2 L224.5 314.0 L225.0 313.8 L225.5 313.6 L226.1 313.4 L226.6 313.2 L227.2 313.0 L227.7 312.9 L228.3 312.7 L228.8 312.5 L229.4 312.3 L229.9 312.1 L230.5 311.9 L231.0 311.7 L231.5 311.5 L232.1 311.4 L232.6 311.2 L233.2 311.0 L233.7 310.8 L234.3 310.6 L234.8 310.4 L235.4 310.3 L235.9 310.1 L236.5 309.9 L237.0 309.7 L237.5 309.6 L238.1 309.4 L238.6 309.2 L239.2 309.0 L239.7 308.9 L240.3 308.7 L240.8 308.5 L241.4 308.3 L241.9 308.2 L242.5 308.0 L243.0 307.8 L243.5 307.7 L244.1 307.5 L244.6 307.3 L245.2 307.2 L245.7 307.0 L246.3 306.9 L246.8 306.7 L247.4 306.5 L247.9 306.4 L248.5 306.2 L249.0 306.1 L249.5 305.9 L250.1 305.8 L250.6 305.6 L251.2 305.5 L251.7 305.3 L252.3 305.2 L252.8 305.0 L253.4 304.9 L253.9 304.7 L254.5 304.6 L255.0 304.5 L255.5 304.3 L256.1 304.2 L256.6 304.1 L257.2 303.9 L257.7 303.8 L258.3 303.7 L258.8 303.5 L259.4 303.4 L259.9 303.3 L260.5 303.1 L261.0 303.0 L261.5 302.9 L262.1 302.8 L262.6 302.6 L263.2 302.5 L263.7 302.4 L264.3 302.3 L264.8 302.2 L265.4 302.0 L265.9 301.9 L266.5 301.8 L267.0 301.7 L267.5 301.6 L268.1 301.4 L268.6 301.3 L269.2 301.2 L269.7 301.1 L270.3 301.0 L270.8 300.9 L271.4 300.7 L271.9 300.6 L272.5 300.5 L273.0 300.4 L273.5 300.3 L274.1 300.2 L274.6 300.1 L275.2 299.9 L275.7 299.8 L276.3 299.7 L276.8 299.6 L277.4 299.5 L277.9 299.4 L278.5 299.3 L279.0 299.1 L279.5 299.0 L280.1 298.9 L280.6 298.8 L281.2 298.7 L281.7 298.6 L282.3 298.4 L282.8 298.3 L283.4 298.2 L283.9 298.1 L284.5 298.0 L285.0 297.8 L285.5 297.7 L286.1 297.6 L286.6 297.5 L287.2 297.4 L287.7 297.2 L288.3 297.1 L288.8 297.0 L289.4 296.9 L289.9 296.7 L290.5 296.6 L291.0 296.5 L291.5 296.4 L292.1 296.2 L292.6 296.1 L293.2 296.0 L293.7 295.9 L294.3 295.7 L294.8 295.6 L295.4 295.5 L295.9 295.4 L296.5 295.2 L297.0 295.1 L297.5 295.0 L298.1 294.8 L298.6 294.7 L299.2 294.6 L299.7 294.5 L300.3 294.3 L300.8 294.2 L301.4 294.1 L301.9 293.9 L302.5 293.8 L303.0 293.7 L303.5 293.6 L304.1 293.4 L304.6 293.3 L305.2 293.2 L305.7 293.0 L306.3 292.9 L306.8 292.8 L307.4 292.7 L307.9 292.5 L308.5 292.4 L309.0 292.3 L309.5 292.2 L310.1 292.0 L310.6 291.9 L311.2 291.8 L311.7 291.7 L312.3 291.5 L312.8 291.4 L313.4 291.3 L313.9 291.2 L314.5 291.1 L315.0 290.9 L315.5 290.8 L316.1 290.7 L316.6 290.6 L317.2 290.5 L317.7 290.4 L318.3 290.2 L318.8 290.1 L319.4 290.0 L319.9 289.9 L320.5 289.8 L321.0 289.7 L321.5 289.6 L322.1 289.4 L322.6 289.3 L323.2 289.2 L323.7 289.1 L324.3 289.0 L324.8 288.9 L325.4 288.8 L325.9 288.7 L326.5 288.6 L327.0 288.5 L327.5 288.4 L328.1 288.3 L328.6 288.2 L329.2 288.1 L329.7 288.0 L330.3 287.9 L330.8 287.8 L331.4 287.7 L331.9 287.6" fill="none" stroke="#ff0000" stroke-width="2.1" stroke-linejoin="round"/>
</g>
<line x1="83.81" y1="415.8" x2="83.81" y2="413.3" stroke="#222222" stroke-width="1.8"/>
<line x1="83.81" y1="234" x2="83.81" y2="236.5" stroke="#222222" stroke-width="1.8"/>
<line x1="100.47" y1="415.8" x2="100.47" y2="413.3" stroke="#222222" stroke-width="1.8"/>
<line x1="100.47" y1="234" x2="100.47" y2="236.5" stroke="#222222" stroke-width="1.8"/>
<line x1="117.14" y1="415.8" x2="117.14" y2="413.3" stroke="#222222" stroke-width="1.8"/>
<line x1="117.14" y1="234" x2="117.14" y2="236.5" stroke="#222222" stroke-width="1.8"/>
<line x1="133.8" y1="415.8" x2="133.8" y2="413.3" stroke="#222222" stroke-width="1.8"/>
<line x1="133.8" y1="234" x2="133.8" y2="236.5" stroke="#222222" stroke-width="1.8"/>
<line x1="168.58" y1="415.8" x2="168.58" y2="413.3" stroke="#222222" stroke-width="1.8"/>
<line x1="168.58" y1="234" x2="168.58" y2="236.5" stroke="#222222" stroke-width="1.8"/>
<line x1="186.69" y1="415.8" x2="186.69" y2="413.3" stroke="#222222" stroke-width="1.8"/>
<line x1="186.69" y1="234" x2="186.69" y2="236.5" stroke="#222222" stroke-width="1.8"/>
<line x1="204.81" y1="415.8" x2="204.81" y2="413.3" stroke="#222222" stroke-width="1.8"/>
<line x1="204.81" y1="234" x2="204.81" y2="236.5" stroke="#222222" stroke-width="1.8"/>
<line x1="222.92" y1="415.8" x2="222.92" y2="413.3" stroke="#222222" stroke-width="1.8"/>
<line x1="222.92" y1="234" x2="222.92" y2="236.5" stroke="#222222" stroke-width="1.8"/>
<line x1="259.15" y1="415.8" x2="259.15" y2="413.3" stroke="#222222" stroke-width="1.8"/>
<line x1="259.15" y1="234" x2="259.15" y2="236.5" stroke="#222222" stroke-width="1.8"/>
<line x1="277.26" y1="415.8" x2="277.26" y2="413.3" stroke="#222222" stroke-width="1.8"/>
<line x1="277.26" y1="234" x2="277.26" y2="236.5" stroke="#222222" stroke-width="1.8"/>
<line x1="295.37" y1="415.8" x2="295.37" y2="413.3" stroke="#222222" stroke-width="1.8"/>
<line x1="295.37" y1="234" x2="295.37" y2="236.5" stroke="#222222" stroke-width="1.8"/>
<line x1="313.49" y1="415.8" x2="313.49" y2="413.3" stroke="#222222" stroke-width="1.8"/>
<line x1="313.49" y1="234" x2="313.49" y2="236.5" stroke="#222222" stroke-width="1.8"/>
<line x1="67.15" y1="415.8" x2="67.15" y2="411.9" stroke="#222222" stroke-width="2"/>
<line x1="67.15" y1="234" x2="67.15" y2="237.9" stroke="#222222" stroke-width="2"/>
<line x1="150.47" y1="415.8" x2="150.47" y2="411.9" stroke="#222222" stroke-width="2"/>
<line x1="150.47" y1="234" x2="150.47" y2="237.9" stroke="#222222" stroke-width="2"/>
<line x1="241.03" y1="415.8" x2="241.03" y2="411.9" stroke="#222222" stroke-width="2"/>
<line x1="241.03" y1="234" x2="241.03" y2="237.9" stroke="#222222" stroke-width="2"/>
<line x1="59.9" y1="370.35" x2="64.1" y2="370.35" stroke="#222222" stroke-width="1.9"/>
<line x1="331.6" y1="370.35" x2="327.4" y2="370.35" stroke="#222222" stroke-width="1.9"/>
<line x1="59.9" y1="324.9" x2="64.1" y2="324.9" stroke="#222222" stroke-width="1.9"/>
<line x1="331.6" y1="324.9" x2="327.4" y2="324.9" stroke="#222222" stroke-width="1.9"/>
<line x1="59.9" y1="279.45" x2="64.1" y2="279.45" stroke="#222222" stroke-width="1.9"/>
<line x1="331.6" y1="279.45" x2="327.4" y2="279.45" stroke="#222222" stroke-width="1.9"/>
<rect x="59.9" y="234" width="271.7" height="181.8" fill="none" stroke="#222222" stroke-width="2"/>
<text x="53" y="420.9" font-size="13.3" text-anchor="end" fill="#3a3532">0</text>
<text x="53" y="375.3" font-size="13.3" text-anchor="end" fill="#3a3532">0.2</text>
<text x="53" y="283.9" font-size="13.3" text-anchor="end" fill="#3a3532">0.6</text>
<text transform="translate(21.4 325.4) rotate(-90)" font-size="14.2" letter-spacing="-0.2" text-anchor="middle" fill="#3a3532">1 - <tspan font-style="italic">T</tspan>/<tspan font-style="italic">T</tspan><tspan dy="3.2" font-size="9.2">0</tspan></text>
<text x="10.3" y="236.1" font-size="20.5" text-anchor="start" fill="#3a3532" font-weight="bold" fill="#111">b</text>
<text x="149.3" y="275.1" font-size="13.6" text-anchor="start" fill="#3a3532">130 K</text>
<g clip-path="url(#c12)">
<g fill="none" stroke="#0000ff" stroke-width="1">
<rect x="132.16" y="544.07" width="9.3" height="9.3"/>
<rect x="142.92" y="543.64" width="9.3" height="9.3"/>
<rect x="153.26" y="545.15" width="9.3" height="9.3"/>
<rect x="65.82" y="510.16" width="9.3" height="9.3"/>
<rect x="68.51" y="524.17" width="9.3" height="9.3"/>
<rect x="71.87" y="540.36" width="9.3" height="9.3"/>
<rect x="75.28" y="550.56" width="9.3" height="9.3"/>
<rect x="78.68" y="560.42" width="9.3" height="9.3"/>
<rect x="81.4" y="565.53" width="9.3" height="9.3"/>
<rect x="84.12" y="570.29" width="9.3" height="9.3"/>
<rect x="87.86" y="573.35" width="9.3" height="9.3"/>
<rect x="93.64" y="574.03" width="9.3" height="9.3"/>
<rect x="100.45" y="568.25" width="9.3" height="9.3"/>
<rect x="105.21" y="561.11" width="9.3" height="9.3"/>
<rect x="111.67" y="551.92" width="9.3" height="9.3"/>
<rect x="120.85" y="544.44" width="9.3" height="9.3"/>
<rect x="153.35" y="547.19" width="9.3" height="9.3"/>
<rect x="164.05" y="550.16" width="9.3" height="9.3"/>
<rect x="174.25" y="551.46" width="9.3" height="9.3"/>
<rect x="184.75" y="551.6" width="9.3" height="9.3"/>
<rect x="195.25" y="550.91" width="9.3" height="9.3"/>
<rect x="205.95" y="549.79" width="9.3" height="9.3"/>
<rect x="216.65" y="548.67" width="9.3" height="9.3"/>
<rect x="227.15" y="547.75" width="9.3" height="9.3"/>
<rect x="237.65" y="546.96" width="9.3" height="9.3"/>
<rect x="247.85" y="546.25" width="9.3" height="9.3"/>
<rect x="257.95" y="545.54" width="9.3" height="9.3"/>
<rect x="268.65" y="544.71" width="9.3" height="9.3"/>
<rect x="279.15" y="543.8" width="9.3" height="9.3"/>
<rect x="289.45" y="542.93" width="9.3" height="9.3"/>
<rect x="299.95" y="542.26" width="9.3" height="9.3"/>
<rect x="311.05" y="541.98" width="9.3" height="9.3"/>
<rect x="321.65" y="542.32" width="9.3" height="9.3"/>
</g>
<g fill="none" stroke="#ff0000" stroke-width="1">
<circle cx="158.34" cy="539.46" r="5.8"/>
<circle cx="70.47" cy="469.56" r="5.8"/>
<circle cx="73.7" cy="481.41" r="5.8"/>
<circle cx="76.94" cy="501.88" r="5.8"/>
<circle cx="80.17" cy="514.81" r="5.8"/>
<circle cx="83.4" cy="528.28" r="5.8"/>
<circle cx="86.39" cy="536.5" r="5.8"/>
<circle cx="89.11" cy="546.37" r="5.8"/>
<circle cx="91.83" cy="551.13" r="5.8"/>
<circle cx="94.55" cy="554.19" r="5.8"/>
<circle cx="97.27" cy="556.57" r="5.8"/>
<circle cx="101.01" cy="560.65" r="5.8"/>
<circle cx="108.7" cy="553.2" r="5.8"/>
<circle cx="117.5" cy="551.3" r="5.8"/>
<circle cx="126.2" cy="549" r="5.8"/>
<circle cx="136.3" cy="546.4" r="5.8"/>
<circle cx="147.2" cy="542.8" r="5.8"/>
<circle cx="158" cy="539.61" r="5.8"/>
<circle cx="168.7" cy="537.83" r="5.8"/>
<circle cx="178.9" cy="536.2" r="5.8"/>
<circle cx="189.4" cy="534.15" r="5.8"/>
<circle cx="199.9" cy="531.22" r="5.8"/>
<circle cx="210.6" cy="527.51" r="5.8"/>
<circle cx="221.3" cy="523.74" r="5.8"/>
<circle cx="231.8" cy="520.16" r="5.8"/>
<circle cx="242.3" cy="516.83" r="5.8"/>
<circle cx="252.5" cy="513.91" r="5.8"/>
<circle cx="262.6" cy="511.25" r="5.8"/>
<circle cx="273.3" cy="508.57" r="5.8"/>
<circle cx="283.8" cy="506" r="5.8"/>
<circle cx="294.1" cy="503.46" r="5.8"/>
<circle cx="304.6" cy="500.86" r="5.8"/>
<circle cx="315.7" cy="498.15" r="5.8"/>
<circle cx="326.3" cy="495.66" r="5.8"/>
</g>
<path d="M59.7 475.4 L60.3 475.4 L60.8 475.9 L61.4 476.8 L61.9 478.2 L62.5 479.8 L63.0 481.8 L63.6 484.0 L64.1 486.3 L64.6 488.7 L65.2 491.2 L65.7 493.8 L66.3 496.4 L66.8 499.0 L67.4 501.7 L67.9 504.3 L68.5 506.9 L69.0 509.5 L69.6 512.1 L70.1 514.6 L70.6 517.0 L71.2 519.4 L71.7 521.7 L72.3 524.0 L72.8 526.1 L73.4 528.3 L73.9 530.5 L74.5 532.7 L75.0 535.0 L75.6 537.3 L76.1 539.5 L76.6 541.7 L77.2 543.9 L77.7 546.0 L78.3 548.0 L78.8 550.1 L79.4 552.0 L79.9 553.9 L80.5 555.7 L81.0 557.5 L81.6 559.2 L82.1 560.9 L82.6 562.4 L83.2 563.9 L83.7 565.3 L84.3 566.7 L84.8 567.9 L85.4 569.1 L85.9 570.2 L86.5 571.2 L87.0 572.1 L87.6 572.9 L88.1 573.7 L88.6 574.4 L89.2 575.1 L89.7 575.6 L90.3 576.2 L90.8 576.6 L91.4 577.0 L91.9 577.3 L92.5 577.5 L93.0 577.7 L93.6 577.9 L94.1 578.0 L94.6 578.0 L95.2 578.0 L95.7 577.9 L96.3 577.8 L96.8 577.6 L97.4 577.4 L97.9 577.2 L98.5 576.9 L99.0 576.5 L99.6 576.1 L100.1 575.7 L100.6 575.3 L101.2 574.8 L101.7 574.3 L102.3 573.7 L102.8 573.1 L103.4 572.5 L103.9 571.9 L104.5 571.2 L105.0 570.5 L105.6 569.8 L106.1 569.1 L106.6 568.4 L107.2 567.6 L107.7 566.8 L108.3 566.0 L108.8 565.2 L109.4 564.4 L109.9 563.6 L110.5 562.7 L111.0 561.9 L111.6 561.1 L112.1 560.3 L112.6 559.5 L113.2 558.7 L113.7 557.9 L114.3 557.1 L114.8 556.4 L115.4 555.7 L115.9 555.0 L116.5 554.4 L117.0 553.8 L117.6 553.2 L118.1 552.7 L118.6 552.3 L119.2 551.9 L119.7 551.5 L120.3 551.2 L120.8 551.0 L121.4 550.8 L121.9 550.6 L122.5 550.4 L123.0 550.3 L123.6 550.2 L124.1 550.2 L124.6 550.1 L125.2 550.0 L125.7 550.0 L126.3 549.9 L126.8 549.9 L127.4 549.8 L127.9 549.7 L128.5 549.7 L129.0 549.6 L129.6 549.5 L130.1 549.4 L130.6 549.3 L131.2 549.2 L131.7 549.1 L132.3 549.0 L132.8 548.9 L133.4 548.8 L133.9 548.7 L134.5 548.6 L135.0 548.6 L135.6 548.5 L136.1 548.4 L136.6 548.3 L137.2 548.2 L137.7 548.2 L138.3 548.1 L138.8 548.1 L139.4 548.0 L139.9 548.0 L140.5 548.0 L141.0 548.0 L141.6 548.0 L142.1 548.0 L142.6 548.0 L143.2 548.0 L143.7 548.1 L144.3 548.1 L144.8 548.2 L145.4 548.3 L145.9 548.4 L146.5 548.5 L147.0 548.6 L147.6 548.7 L148.1 548.8 L148.6 548.9 L149.2 549.1 L149.7 549.2 L150.3 549.4 L150.8 549.5 L151.4 549.7 L151.9 549.8 L152.5 550.0 L153.0 550.2 L153.6 550.4 L154.1 550.5 L154.6 550.7 L155.2 550.9 L155.7 551.1 L156.3 551.3 L156.8 551.4 L157.4 551.6 L157.9 551.8 L158.5 552.0 L159.0 552.2 L159.6 552.4 L160.1 552.5 L160.6 552.7 L161.2 552.9 L161.7 553.1 L162.3 553.2 L162.8 553.4 L163.4 553.5 L163.9 553.7 L164.5 553.8 L165.0 554.0 L165.6 554.1 L166.1 554.2 L166.6 554.4 L167.2 554.5 L167.7 554.6 L168.3 554.7 L168.8 554.8 L169.4 554.9 L169.9 555.0 L170.5 555.1 L171.0 555.2 L171.6 555.3 L172.1 555.4 L172.6 555.5 L173.2 555.5 L173.7 555.6 L174.3 555.7 L174.8 555.8 L175.4 555.8 L175.9 555.9 L176.5 555.9 L177.0 556.0 L177.6 556.0 L178.1 556.1 L178.6 556.1 L179.2 556.1 L179.7 556.2 L180.3 556.2 L180.8 556.2 L181.4 556.2 L181.9 556.3 L182.5 556.3 L183.0 556.3 L183.6 556.3 L184.1 556.3 L184.6 556.3 L185.2 556.3 L185.7 556.3 L186.3 556.3 L186.8 556.3 L187.4 556.3 L187.9 556.3 L188.5 556.3 L189.0 556.3 L189.6 556.2 L190.1 556.2 L190.6 556.2 L191.2 556.2 L191.7 556.2 L192.3 556.1 L192.8 556.1 L193.4 556.1 L193.9 556.0 L194.5 556.0 L195.0 556.0 L195.6 555.9 L196.1 555.9 L196.6 555.8 L197.2 555.8 L197.7 555.7 L198.3 555.7 L198.8 555.7 L199.4 555.6 L199.9 555.6 L200.5 555.5 L201.0 555.5 L201.6 555.4 L202.1 555.4 L202.6 555.3 L203.2 555.2 L203.7 555.2 L204.3 555.1 L204.8 555.1 L205.4 555.0 L205.9 555.0 L206.5 554.9 L207.0 554.8 L207.6 554.8 L208.1 554.7 L208.6 554.7 L209.2 554.6 L209.7 554.5 L210.3 554.5 L210.8 554.4 L211.4 554.4 L211.9 554.3 L212.5 554.2 L213.0 554.2 L213.6 554.1 L214.1 554.1 L214.6 554.0 L215.2 553.9 L215.7 553.9 L216.3 553.8 L216.8 553.8 L217.4 553.7 L217.9 553.7 L218.5 553.6 L219.0 553.5 L219.6 553.5 L220.1 553.4 L220.6 553.4 L221.2 553.3 L221.7 553.3 L222.3 553.2 L222.8 553.2 L223.4 553.1 L223.9 553.1 L224.5 553.0 L225.0 553.0 L225.5 552.9 L226.1 552.9 L226.6 552.8 L227.2 552.8 L227.7 552.7 L228.3 552.7 L228.8 552.6 L229.4 552.6 L229.9 552.6 L230.5 552.5 L231.0 552.5 L231.5 552.4 L232.1 552.4 L232.6 552.3 L233.2 552.3 L233.7 552.2 L234.3 552.2 L234.8 552.2 L235.4 552.1 L235.9 552.1 L236.5 552.0 L237.0 552.0 L237.5 552.0 L238.1 551.9 L238.6 551.9 L239.2 551.8 L239.7 551.8 L240.3 551.8 L240.8 551.7 L241.4 551.7 L241.9 551.6 L242.5 551.6 L243.0 551.6 L243.5 551.5 L244.1 551.5 L244.6 551.4 L245.2 551.4 L245.7 551.4 L246.3 551.3 L246.8 551.3 L247.4 551.3 L247.9 551.2 L248.5 551.2 L249.0 551.1 L249.5 551.1 L250.1 551.1 L250.6 551.0 L251.2 551.0 L251.7 551.0 L252.3 550.9 L252.8 550.9 L253.4 550.8 L253.9 550.8 L254.5 550.8 L255.0 550.7 L255.5 550.7 L256.1 550.7 L256.6 550.6 L257.2 550.6 L257.7 550.5 L258.3 550.5 L258.8 550.5 L259.4 550.4 L259.9 550.4 L260.5 550.3 L261.0 550.3 L261.5 550.3 L262.1 550.2 L262.6 550.2 L263.2 550.1 L263.7 550.1 L264.3 550.1 L264.8 550.0 L265.4 550.0 L265.9 549.9 L266.5 549.9 L267.0 549.9 L267.5 549.8 L268.1 549.8 L268.6 549.7 L269.2 549.7 L269.7 549.7 L270.3 549.6 L270.8 549.6 L271.4 549.5 L271.9 549.5 L272.5 549.4 L273.0 549.4 L273.5 549.3 L274.1 549.3 L274.6 549.3 L275.2 549.2 L275.7 549.2 L276.3 549.1 L276.8 549.1 L277.4 549.0 L277.9 549.0 L278.5 548.9 L279.0 548.9 L279.5 548.8 L280.1 548.8 L280.6 548.7 L281.2 548.7 L281.7 548.6 L282.3 548.6 L282.8 548.5 L283.4 548.5 L283.9 548.4 L284.5 548.4 L285.0 548.3 L285.5 548.3 L286.1 548.2 L286.6 548.2 L287.2 548.2 L287.7 548.1 L288.3 548.1 L288.8 548.0 L289.4 548.0 L289.9 547.9 L290.5 547.9 L291.0 547.8 L291.5 547.8 L292.1 547.7 L292.6 547.7 L293.2 547.7 L293.7 547.6 L294.3 547.6 L294.8 547.5 L295.4 547.5 L295.9 547.4 L296.5 547.4 L297.0 547.4 L297.5 547.3 L298.1 547.3 L298.6 547.3 L299.2 547.2 L299.7 547.2 L300.3 547.2 L300.8 547.1 L301.4 547.1 L301.9 547.1 L302.5 547.0 L303.0 547.0 L303.5 547.0 L304.1 546.9 L304.6 546.9 L305.2 546.9 L305.7 546.9 L306.3 546.8 L306.8 546.8 L307.4 546.8 L307.9 546.8 L308.5 546.8 L309.0 546.7 L309.5 546.7 L310.1 546.7 L310.6 546.7 L311.2 546.7 L311.7 546.7 L312.3 546.7 L312.8 546.7 L313.4 546.6 L313.9 546.6 L314.5 546.6 L315.0 546.6 L315.5 546.6 L316.1 546.6 L316.6 546.6 L317.2 546.6 L317.7 546.6 L318.3 546.7 L318.8 546.7 L319.4 546.7 L319.9 546.7 L320.5 546.7 L321.0 546.7 L321.5 546.7 L322.1 546.8 L322.6 546.8 L323.2 546.8 L323.7 546.8 L324.3 546.9 L324.8 546.9 L325.4 546.9 L325.9 546.9 L326.5 547.0 L327.0 547.0 L327.5 547.1 L328.1 547.1 L328.6 547.1 L329.2 547.2 L329.7 547.2 L330.3 547.3 L330.8 547.3 L331.4 547.4 L331.9 547.4" fill="none" stroke="#0000ff" stroke-width="2.1" stroke-linejoin="round"/>
<path d="M64.0 444.1 L64.5 446.3 L65.1 448.5 L65.6 450.8 L66.2 453.1 L66.7 455.4 L67.2 457.7 L67.8 460.0 L68.3 462.4 L68.8 464.8 L69.4 467.2 L69.9 469.6 L70.4 472.0 L71.0 474.5 L71.5 476.9 L72.1 479.3 L72.6 481.8 L73.1 484.2 L73.7 486.7 L74.2 489.1 L74.7 491.6 L75.3 494.0 L75.8 496.4 L76.4 498.8 L76.9 501.2 L77.4 503.6 L78.0 506.0 L78.5 508.3 L79.0 510.7 L79.6 513.1 L80.1 515.5 L80.6 518.0 L81.2 520.5 L81.7 523.1 L82.3 525.4 L82.8 527.3 L83.3 528.5 L83.9 529.1 L84.4 530.3 L84.9 531.9 L85.5 533.6 L86.0 535.3 L86.6 536.8 L87.1 538.2 L87.6 539.5 L88.2 540.8 L88.7 542.0 L89.2 543.1 L89.8 544.2 L90.3 545.3 L90.8 546.4 L91.4 547.5 L91.9 548.4 L92.5 549.4 L93.0 550.2 L93.5 551.0 L94.1 551.8 L94.6 552.4 L95.1 553.1 L95.7 553.6 L96.2 554.1 L96.8 554.6 L97.3 555.0 L97.8 555.4 L98.4 555.8 L98.9 556.1 L99.4 556.4 L100.0 556.7 L100.5 556.9 L101.0 557.1 L101.6 557.3 L102.1 557.5 L102.7 557.6 L103.2 557.7 L103.7 557.7 L104.3 557.7 L104.8 557.7 L105.3 557.7 L105.9 557.6 L106.4 557.4 L107.0 557.3 L107.5 557.1 L108.0 556.9 L108.6 556.6 L109.1 556.4 L109.6 556.2 L110.2 555.9 L110.7 555.7 L111.3 555.5 L111.8 555.2 L112.3 555.0 L112.9 554.8 L113.4 554.5 L113.9 554.3 L114.5 554.0 L115.0 553.8 L115.5 553.5 L116.1 553.3 L116.6 553.0 L117.2 552.8 L117.7 552.6 L118.2 552.3 L118.8 552.1 L119.3 551.8 L119.8 551.6 L120.4 551.3 L120.9 551.1 L121.5 550.8 L122.0 550.6 L122.5 550.4 L123.1 550.1 L123.6 549.9 L124.1 549.7 L124.7 549.4 L125.2 549.2 L125.7 549.0 L126.3 548.7 L126.8 548.5 L127.4 548.3 L127.9 548.1 L128.4 547.9 L129.0 547.7 L129.5 547.5 L130.0 547.2 L130.6 547.0 L131.1 546.8 L131.7 546.6 L132.2 546.4 L132.7 546.3 L133.3 546.1 L133.8 545.9 L134.3 545.7 L134.9 545.5 L135.4 545.3 L135.9 545.1 L136.5 545.0 L137.0 544.8 L137.6 544.6 L138.1 544.5 L138.6 544.3 L139.2 544.1 L139.7 544.0 L140.2 543.8 L140.8 543.6 L141.3 543.5 L141.9 543.3 L142.4 543.2 L142.9 543.0 L143.5 542.9 L144.0 542.7 L144.5 542.6 L145.1 542.4 L145.6 542.3 L146.1 542.2 L146.7 542.0 L147.2 541.9 L147.8 541.8 L148.3 541.6 L148.8 541.5 L149.4 541.4 L149.9 541.3 L150.4 541.1 L151.0 541.0 L151.5 540.9 L152.1 540.8 L152.6 540.7 L153.1 540.6 L153.7 540.4 L154.2 540.3 L154.7 540.2 L155.3 540.1 L155.8 540.0 L156.3 539.9 L156.9 539.8 L157.4 539.7 L158.0 539.6 L158.5 539.5 L159.0 539.4 L159.6 539.3 L160.1 539.2 L160.6 539.1 L161.2 539.1 L161.7 539.0 L162.3 538.9 L162.8 538.8 L163.3 538.7 L163.9 538.6 L164.4 538.5 L164.9 538.4 L165.5 538.3 L166.0 538.3 L166.5 538.2 L167.1 538.1 L167.6 538.0 L168.2 537.9 L168.7 537.8 L169.2 537.8 L169.8 537.7 L170.3 537.6 L170.8 537.5 L171.4 537.4 L171.9 537.3 L172.5 537.2 L173.0 537.2 L173.5 537.1 L174.1 537.0 L174.6 536.9 L175.1 536.8 L175.7 536.7 L176.2 536.6 L176.8 536.6 L177.3 536.5 L177.8 536.4 L178.4 536.3 L178.9 536.2 L179.4 536.1 L180.0 536.0 L180.5 535.9 L181.0 535.8 L181.6 535.7 L182.1 535.6 L182.7 535.5 L183.2 535.4 L183.7 535.3 L184.3 535.2 L184.8 535.1 L185.3 535.0 L185.9 534.9 L186.4 534.8 L187.0 534.7 L187.5 534.6 L188.0 534.5 L188.6 534.3 L189.1 534.2 L189.6 534.1 L190.2 534.0 L190.7 533.8 L191.2 533.7 L191.8 533.6 L192.3 533.4 L192.9 533.3 L193.4 533.2 L193.9 533.0 L194.5 532.9 L195.0 532.7 L195.5 532.6 L196.1 532.4 L196.6 532.3 L197.2 532.1 L197.7 531.9 L198.2 531.8 L198.8 531.6 L199.3 531.4 L199.8 531.2 L200.4 531.1 L200.9 530.9 L201.4 530.7 L202.0 530.5 L202.5 530.3 L203.1 530.2 L203.6 530.0 L204.1 529.8 L204.7 529.6 L205.2 529.4 L205.7 529.2 L206.3 529.0 L206.8 528.8 L207.4 528.7 L207.9 528.5 L208.4 528.3 L209.0 528.1 L209.5 527.9 L210.0 527.7 L210.6 527.5 L211.1 527.3 L211.6 527.1 L212.2 526.9 L212.7 526.8 L213.3 526.6 L213.8 526.4 L214.3 526.2 L214.9 526.0 L215.4 525.8 L215.9 525.6 L216.5 525.4 L217.0 525.2 L217.6 525.0 L218.1 524.9 L218.6 524.7 L219.2 524.5 L219.7 524.3 L220.2 524.1 L220.8 523.9 L221.3 523.7 L221.8 523.5 L222.4 523.4 L222.9 523.2 L223.5 523.0 L224.0 522.8 L224.5 522.6 L225.1 522.4 L225.6 522.2 L226.1 522.1 L226.7 521.9 L227.2 521.7 L227.8 521.5 L228.3 521.3 L228.8 521.1 L229.4 521.0 L229.9 520.8 L230.4 520.6 L231.0 520.4 L231.5 520.3 L232.0 520.1 L232.6 519.9 L233.1 519.7 L233.7 519.5 L234.2 519.4 L234.7 519.2 L235.3 519.0 L235.8 518.8 L236.3 518.7 L236.9 518.5 L237.4 518.3 L238.0 518.2 L238.5 518.0 L239.0 517.8 L239.6 517.7 L240.1 517.5 L240.6 517.3 L241.2 517.2 L241.7 517.0 L242.3 516.8 L242.8 516.7 L243.3 516.5 L243.9 516.4 L244.4 516.2 L244.9 516.0 L245.5 515.9 L246.0 515.7 L246.5 515.6 L247.1 515.4 L247.6 515.3 L248.2 515.1 L248.7 515.0 L249.2 514.8 L249.8 514.7 L250.3 514.5 L250.8 514.4 L251.4 514.2 L251.9 514.1 L252.5 513.9 L253.0 513.8 L253.5 513.6 L254.1 513.5 L254.6 513.3 L255.1 513.2 L255.7 513.1 L256.2 512.9 L256.7 512.8 L257.3 512.6 L257.8 512.5 L258.4 512.3 L258.9 512.2 L259.4 512.1 L260.0 511.9 L260.5 511.8 L261.0 511.6 L261.6 511.5 L262.1 511.4 L262.7 511.2 L263.2 511.1 L263.7 511.0 L264.3 510.8 L264.8 510.7 L265.3 510.6 L265.9 510.4 L266.4 510.3 L266.9 510.1 L267.5 510.0 L268.0 509.9 L268.6 509.7 L269.1 509.6 L269.6 509.5 L270.2 509.3 L270.7 509.2 L271.2 509.1 L271.8 508.9 L272.3 508.8 L272.9 508.7 L273.4 508.6 L273.9 508.4 L274.5 508.3 L275.0 508.2 L275.5 508.0 L276.1 507.9 L276.6 507.8 L277.1 507.6 L277.7 507.5 L278.2 507.4 L278.8 507.2 L279.3 507.1 L279.8 507.0 L280.4 506.8 L280.9 506.7 L281.4 506.6 L282.0 506.5 L282.5 506.3 L283.1 506.2 L283.6 506.1 L284.1 505.9 L284.7 505.8 L285.2 505.7 L285.7 505.5 L286.3 505.4 L286.8 505.3 L287.3 505.1 L287.9 505.0 L288.4 504.9 L289.0 504.7 L289.5 504.6 L290.0 504.5 L290.6 504.3 L291.1 504.2 L291.6 504.1 L292.2 503.9 L292.7 503.8 L293.3 503.7 L293.8 503.5 L294.3 503.4 L294.9 503.3 L295.4 503.1 L295.9 503.0 L296.5 502.9 L297.0 502.7 L297.5 502.6 L298.1 502.5 L298.6 502.3 L299.2 502.2 L299.7 502.1 L300.2 501.9 L300.8 501.8 L301.3 501.7 L301.8 501.5 L302.4 501.4 L302.9 501.3 L303.5 501.1 L304.0 501.0 L304.5 500.9 L305.1 500.7 L305.6 500.6 L306.1 500.5 L306.7 500.3 L307.2 500.2 L307.8 500.1 L308.3 499.9 L308.8 499.8 L309.4 499.7 L309.9 499.6 L310.4 499.4 L311.0 499.3 L311.5 499.2 L312.0 499.0 L312.6 498.9 L313.1 498.8 L313.7 498.6 L314.2 498.5 L314.7 498.4 L315.3 498.3 L315.8 498.1 L316.3 498.0 L316.9 497.9 L317.4 497.7 L318.0 497.6 L318.5 497.5 L319.0 497.4 L319.6 497.2 L320.1 497.1 L320.6 497.0 L321.2 496.8 L321.7 496.7 L322.2 496.6 L322.8 496.5 L323.3 496.3 L323.9 496.2 L324.4 496.1 L324.9 496.0 L325.5 495.8 L326.0 495.7 L326.5 495.6 L327.1 495.5 L327.6 495.4 L328.2 495.2 L328.7 495.1 L329.2 495.0 L329.8 494.9 L330.3 494.8 L330.8 494.6 L331.4 494.5 L331.9 494.4" fill="none" stroke="#ff0000" stroke-width="2.1" stroke-linejoin="round"/>
</g>
<line x1="83.81" y1="625.9" x2="83.81" y2="623.4" stroke="#222222" stroke-width="1.8"/>
<line x1="83.81" y1="443.1" x2="83.81" y2="445.6" stroke="#222222" stroke-width="1.8"/>
<line x1="100.47" y1="625.9" x2="100.47" y2="623.4" stroke="#222222" stroke-width="1.8"/>
<line x1="100.47" y1="443.1" x2="100.47" y2="445.6" stroke="#222222" stroke-width="1.8"/>
<line x1="117.14" y1="625.9" x2="117.14" y2="623.4" stroke="#222222" stroke-width="1.8"/>
<line x1="117.14" y1="443.1" x2="117.14" y2="445.6" stroke="#222222" stroke-width="1.8"/>
<line x1="133.8" y1="625.9" x2="133.8" y2="623.4" stroke="#222222" stroke-width="1.8"/>
<line x1="133.8" y1="443.1" x2="133.8" y2="445.6" stroke="#222222" stroke-width="1.8"/>
<line x1="168.58" y1="625.9" x2="168.58" y2="623.4" stroke="#222222" stroke-width="1.8"/>
<line x1="168.58" y1="443.1" x2="168.58" y2="445.6" stroke="#222222" stroke-width="1.8"/>
<line x1="186.69" y1="625.9" x2="186.69" y2="623.4" stroke="#222222" stroke-width="1.8"/>
<line x1="186.69" y1="443.1" x2="186.69" y2="445.6" stroke="#222222" stroke-width="1.8"/>
<line x1="204.81" y1="625.9" x2="204.81" y2="623.4" stroke="#222222" stroke-width="1.8"/>
<line x1="204.81" y1="443.1" x2="204.81" y2="445.6" stroke="#222222" stroke-width="1.8"/>
<line x1="222.92" y1="625.9" x2="222.92" y2="623.4" stroke="#222222" stroke-width="1.8"/>
<line x1="222.92" y1="443.1" x2="222.92" y2="445.6" stroke="#222222" stroke-width="1.8"/>
<line x1="259.15" y1="625.9" x2="259.15" y2="623.4" stroke="#222222" stroke-width="1.8"/>
<line x1="259.15" y1="443.1" x2="259.15" y2="445.6" stroke="#222222" stroke-width="1.8"/>
<line x1="277.26" y1="625.9" x2="277.26" y2="623.4" stroke="#222222" stroke-width="1.8"/>
<line x1="277.26" y1="443.1" x2="277.26" y2="445.6" stroke="#222222" stroke-width="1.8"/>
<line x1="295.37" y1="625.9" x2="295.37" y2="623.4" stroke="#222222" stroke-width="1.8"/>
<line x1="295.37" y1="443.1" x2="295.37" y2="445.6" stroke="#222222" stroke-width="1.8"/>
<line x1="313.49" y1="625.9" x2="313.49" y2="623.4" stroke="#222222" stroke-width="1.8"/>
<line x1="313.49" y1="443.1" x2="313.49" y2="445.6" stroke="#222222" stroke-width="1.8"/>
<line x1="67.15" y1="625.9" x2="67.15" y2="622" stroke="#222222" stroke-width="2"/>
<line x1="67.15" y1="443.1" x2="67.15" y2="447" stroke="#222222" stroke-width="2"/>
<line x1="150.47" y1="625.9" x2="150.47" y2="622" stroke="#222222" stroke-width="2"/>
<line x1="150.47" y1="443.1" x2="150.47" y2="447" stroke="#222222" stroke-width="2"/>
<line x1="241.03" y1="625.9" x2="241.03" y2="622" stroke="#222222" stroke-width="2"/>
<line x1="241.03" y1="443.1" x2="241.03" y2="447" stroke="#222222" stroke-width="2"/>
<line x1="59.9" y1="580.2" x2="64.1" y2="580.2" stroke="#222222" stroke-width="1.9"/>
<line x1="331.6" y1="580.2" x2="327.4" y2="580.2" stroke="#222222" stroke-width="1.9"/>
<line x1="59.9" y1="534.5" x2="64.1" y2="534.5" stroke="#222222" stroke-width="1.9"/>
<line x1="331.6" y1="534.5" x2="327.4" y2="534.5" stroke="#222222" stroke-width="1.9"/>
<line x1="59.9" y1="488.8" x2="64.1" y2="488.8" stroke="#222222" stroke-width="1.9"/>
<line x1="331.6" y1="488.8" x2="327.4" y2="488.8" stroke="#222222" stroke-width="1.9"/>
<rect x="59.9" y="443.1" width="271.7" height="182.8" fill="none" stroke="#222222" stroke-width="2"/>
<text x="53" y="630.9" font-size="13.3" text-anchor="end" fill="#3a3532">0</text>
<text x="53" y="585.3" font-size="13.3" text-anchor="end" fill="#3a3532">0.2</text>
<text x="53" y="493.9" font-size="13.3" text-anchor="end" fill="#3a3532">0.6</text>
<text transform="translate(21.4 535) rotate(-90)" font-size="14.2" letter-spacing="-0.2" text-anchor="middle" fill="#3a3532">1 - <tspan font-style="italic">T</tspan>/<tspan font-style="italic">T</tspan><tspan dy="3.2" font-size="9.2">0</tspan></text>
<text x="10.3" y="446.1" font-size="20.5" text-anchor="start" fill="#3a3532" font-weight="bold" fill="#111">c</text>
<text x="149" y="484.2" font-size="13.6" text-anchor="start" fill="#3a3532">155 K</text>
<g clip-path="url(#c13)">
<g fill="none" stroke="#0000ff" stroke-width="1">
<rect x="132.16" y="756.87" width="9.3" height="9.3"/>
<rect x="142.92" y="756.87" width="9.3" height="9.3"/>
<rect x="153.26" y="757.94" width="9.3" height="9.3"/>
<rect x="63.13" y="712.07" width="9.3" height="9.3"/>
<rect x="66.36" y="722.31" width="9.3" height="9.3"/>
<rect x="69.59" y="733.63" width="9.3" height="9.3"/>
<rect x="72.11" y="740.55" width="9.3" height="9.3"/>
<rect x="74.83" y="748.04" width="9.3" height="9.3"/>
<rect x="77.55" y="753.14" width="9.3" height="9.3"/>
<rect x="80.96" y="759.6" width="9.3" height="9.3"/>
<rect x="84.02" y="762.32" width="9.3" height="9.3"/>
<rect x="87.08" y="765.04" width="9.3" height="9.3"/>
<rect x="94.22" y="767.42" width="9.3" height="9.3"/>
<rect x="97.96" y="767.08" width="9.3" height="9.3"/>
<rect x="103.74" y="762.32" width="9.3" height="9.3"/>
<rect x="108.17" y="762.32" width="9.3" height="9.3"/>
<rect x="111.57" y="760.28" width="9.3" height="9.3"/>
<rect x="122.11" y="757.56" width="9.3" height="9.3"/>
<rect x="153.35" y="757.65" width="9.3" height="9.3"/>
<rect x="164.05" y="758.92" width="9.3" height="9.3"/>
<rect x="174.25" y="759.28" width="9.3" height="9.3"/>
<rect x="184.75" y="758.93" width="9.3" height="9.3"/>
<rect x="195.25" y="758.19" width="9.3" height="9.3"/>
<rect x="205.95" y="757.4" width="9.3" height="9.3"/>
<rect x="216.65" y="756.68" width="9.3" height="9.3"/>
<rect x="227.15" y="755.97" width="9.3" height="9.3"/>
<rect x="237.65" y="755.24" width="9.3" height="9.3"/>
<rect x="247.85" y="754.51" width="9.3" height="9.3"/>
<rect x="257.95" y="753.79" width="9.3" height="9.3"/>
<rect x="268.65" y="753.04" width="9.3" height="9.3"/>
<rect x="279.15" y="752.33" width="9.3" height="9.3"/>
<rect x="289.45" y="751.68" width="9.3" height="9.3"/>
<rect x="299.95" y="751.09" width="9.3" height="9.3"/>
<rect x="311.05" y="750.55" width="9.3" height="9.3"/>
<rect x="321.65" y="750.13" width="9.3" height="9.3"/>
</g>
<g fill="none" stroke="#ff0000" stroke-width="1">
<circle cx="136.81" cy="749.46" r="5.8"/>
<circle cx="147.57" cy="747.95" r="5.8"/>
<circle cx="158.34" cy="746.45" r="5.8"/>
<circle cx="68.31" cy="678.47" r="5.8"/>
<circle cx="71.01" cy="690.86" r="5.8"/>
<circle cx="74.24" cy="698.41" r="5.8"/>
<circle cx="77.47" cy="712.41" r="5.8"/>
<circle cx="80.17" cy="719.96" r="5.8"/>
<circle cx="83.4" cy="727.5" r="5.8"/>
<circle cx="86.09" cy="735.04" r="5.8"/>
<circle cx="86.63" cy="738.06" r="5.8"/>
<circle cx="90.03" cy="742.14" r="5.8"/>
<circle cx="93.77" cy="745.2" r="5.8"/>
<circle cx="97.17" cy="750.65" r="5.8"/>
<circle cx="100.57" cy="748.61" r="5.8"/>
<circle cx="104.65" cy="753.37" r="5.8"/>
<circle cx="108.39" cy="752.01" r="5.8"/>
<circle cx="112.14" cy="753.37" r="5.8"/>
<circle cx="116.9" cy="753.37" r="5.8"/>
<circle cx="126.76" cy="752.01" r="5.8"/>
<circle cx="158" cy="746.57" r="5.8"/>
<circle cx="168.7" cy="744.8" r="5.8"/>
<circle cx="178.9" cy="742.88" r="5.8"/>
<circle cx="189.4" cy="740.5" r="5.8"/>
<circle cx="199.9" cy="737.8" r="5.8"/>
<circle cx="210.6" cy="734.82" r="5.8"/>
<circle cx="221.3" cy="731.71" r="5.8"/>
<circle cx="231.8" cy="728.66" r="5.8"/>
<circle cx="242.3" cy="725.69" r="5.8"/>
<circle cx="252.5" cy="722.97" r="5.8"/>
<circle cx="262.6" cy="720.39" r="5.8"/>
<circle cx="273.3" cy="717.77" r="5.8"/>
<circle cx="283.8" cy="715.27" r="5.8"/>
<circle cx="294.1" cy="712.85" r="5.8"/>
<circle cx="304.6" cy="710.42" r="5.8"/>
<circle cx="315.7" cy="707.89" r="5.8"/>
<circle cx="326.3" cy="705.53" r="5.8"/>
</g>
<path d="M59.7 709.1 L60.3 709.1 L60.8 709.2 L61.4 709.6 L61.9 710.1 L62.5 710.7 L63.0 711.5 L63.6 712.4 L64.1 713.4 L64.6 714.5 L65.2 715.7 L65.7 716.9 L66.3 718.1 L66.8 719.4 L67.4 720.7 L67.9 722.0 L68.5 723.3 L69.0 724.7 L69.6 726.1 L70.1 727.4 L70.6 728.8 L71.2 730.2 L71.7 731.5 L72.3 732.9 L72.8 734.3 L73.4 735.6 L73.9 737.0 L74.5 738.3 L75.0 739.6 L75.6 740.9 L76.1 742.1 L76.6 743.4 L77.2 744.6 L77.7 745.8 L78.3 747.0 L78.8 748.2 L79.4 749.5 L79.9 750.6 L80.5 751.8 L81.0 753.0 L81.6 754.2 L82.1 755.3 L82.6 756.4 L83.2 757.5 L83.7 758.5 L84.3 759.5 L84.8 760.5 L85.4 761.4 L85.9 762.2 L86.5 763.1 L87.0 763.8 L87.6 764.5 L88.1 765.2 L88.6 765.8 L89.2 766.4 L89.7 766.9 L90.3 767.4 L90.8 767.8 L91.4 768.3 L91.9 768.6 L92.5 769.0 L93.0 769.2 L93.6 769.5 L94.1 769.7 L94.6 769.9 L95.2 770.1 L95.7 770.2 L96.3 770.3 L96.8 770.4 L97.4 770.5 L97.9 770.5 L98.5 770.5 L99.0 770.5 L99.6 770.4 L100.1 770.4 L100.6 770.3 L101.2 770.2 L101.7 770.1 L102.3 769.9 L102.8 769.8 L103.4 769.6 L103.9 769.5 L104.5 769.3 L105.0 769.1 L105.6 768.9 L106.1 768.7 L106.6 768.5 L107.2 768.3 L107.7 768.1 L108.3 767.9 L108.8 767.7 L109.4 767.5 L109.9 767.3 L110.5 767.0 L111.0 766.8 L111.6 766.6 L112.1 766.4 L112.6 766.1 L113.2 765.9 L113.7 765.7 L114.3 765.5 L114.8 765.3 L115.4 765.0 L115.9 764.8 L116.5 764.6 L117.0 764.4 L117.6 764.2 L118.1 764.0 L118.6 763.8 L119.2 763.6 L119.7 763.4 L120.3 763.2 L120.8 763.0 L121.4 762.9 L121.9 762.7 L122.5 762.6 L123.0 762.4 L123.6 762.3 L124.1 762.1 L124.6 762.0 L125.2 761.9 L125.7 761.8 L126.3 761.7 L126.8 761.6 L127.4 761.6 L127.9 761.5 L128.5 761.4 L129.0 761.3 L129.6 761.3 L130.1 761.2 L130.6 761.1 L131.2 760.9 L131.7 760.8 L132.3 760.6 L132.8 760.4 L133.4 760.2 L133.9 760.0 L134.5 759.8 L135.0 759.7 L135.6 759.6 L136.1 759.5 L136.6 759.4 L137.2 759.4 L137.7 759.3 L138.3 759.3 L138.8 759.3 L139.4 759.4 L139.9 759.4 L140.5 759.4 L141.0 759.5 L141.6 759.6 L142.1 759.7 L142.6 759.7 L143.2 759.8 L143.7 759.9 L144.3 760.0 L144.8 760.1 L145.4 760.2 L145.9 760.3 L146.5 760.4 L147.0 760.5 L147.6 760.6 L148.1 760.7 L148.6 760.8 L149.2 760.9 L149.7 761.0 L150.3 761.0 L150.8 761.1 L151.4 761.2 L151.9 761.3 L152.5 761.4 L153.0 761.5 L153.6 761.6 L154.1 761.7 L154.6 761.8 L155.2 761.9 L155.7 761.9 L156.3 762.0 L156.8 762.1 L157.4 762.2 L157.9 762.3 L158.5 762.4 L159.0 762.4 L159.6 762.5 L160.1 762.6 L160.6 762.7 L161.2 762.8 L161.7 762.8 L162.3 762.9 L162.8 763.0 L163.4 763.0 L163.9 763.1 L164.5 763.2 L165.0 763.2 L165.6 763.3 L166.1 763.3 L166.6 763.4 L167.2 763.4 L167.7 763.5 L168.3 763.5 L168.8 763.6 L169.4 763.6 L169.9 763.7 L170.5 763.7 L171.0 763.7 L171.6 763.8 L172.1 763.8 L172.6 763.8 L173.2 763.8 L173.7 763.9 L174.3 763.9 L174.8 763.9 L175.4 763.9 L175.9 763.9 L176.5 763.9 L177.0 763.9 L177.6 763.9 L178.1 763.9 L178.6 763.9 L179.2 763.9 L179.7 763.9 L180.3 763.9 L180.8 763.9 L181.4 763.9 L181.9 763.9 L182.5 763.9 L183.0 763.9 L183.6 763.8 L184.1 763.8 L184.6 763.8 L185.2 763.8 L185.7 763.8 L186.3 763.7 L186.8 763.7 L187.4 763.7 L187.9 763.7 L188.5 763.6 L189.0 763.6 L189.6 763.6 L190.1 763.5 L190.6 763.5 L191.2 763.5 L191.7 763.4 L192.3 763.4 L192.8 763.4 L193.4 763.3 L193.9 763.3 L194.5 763.2 L195.0 763.2 L195.6 763.2 L196.1 763.1 L196.6 763.1 L197.2 763.0 L197.7 763.0 L198.3 763.0 L198.8 762.9 L199.4 762.9 L199.9 762.8 L200.5 762.8 L201.0 762.8 L201.6 762.7 L202.1 762.7 L202.6 762.6 L203.2 762.6 L203.7 762.5 L204.3 762.5 L204.8 762.5 L205.4 762.4 L205.9 762.4 L206.5 762.3 L207.0 762.3 L207.6 762.3 L208.1 762.2 L208.6 762.2 L209.2 762.1 L209.7 762.1 L210.3 762.1 L210.8 762.0 L211.4 762.0 L211.9 762.0 L212.5 761.9 L213.0 761.9 L213.6 761.8 L214.1 761.8 L214.6 761.8 L215.2 761.7 L215.7 761.7 L216.3 761.7 L216.8 761.6 L217.4 761.6 L217.9 761.6 L218.5 761.5 L219.0 761.5 L219.6 761.4 L220.1 761.4 L220.6 761.4 L221.2 761.3 L221.7 761.3 L222.3 761.3 L222.8 761.2 L223.4 761.2 L223.9 761.2 L224.5 761.1 L225.0 761.1 L225.5 761.0 L226.1 761.0 L226.6 761.0 L227.2 760.9 L227.7 760.9 L228.3 760.9 L228.8 760.8 L229.4 760.8 L229.9 760.8 L230.5 760.7 L231.0 760.7 L231.5 760.6 L232.1 760.6 L232.6 760.6 L233.2 760.5 L233.7 760.5 L234.3 760.5 L234.8 760.4 L235.4 760.4 L235.9 760.3 L236.5 760.3 L237.0 760.3 L237.5 760.2 L238.1 760.2 L238.6 760.1 L239.2 760.1 L239.7 760.1 L240.3 760.0 L240.8 760.0 L241.4 760.0 L241.9 759.9 L242.5 759.9 L243.0 759.8 L243.5 759.8 L244.1 759.8 L244.6 759.7 L245.2 759.7 L245.7 759.6 L246.3 759.6 L246.8 759.6 L247.4 759.5 L247.9 759.5 L248.5 759.5 L249.0 759.4 L249.5 759.4 L250.1 759.3 L250.6 759.3 L251.2 759.3 L251.7 759.2 L252.3 759.2 L252.8 759.1 L253.4 759.1 L253.9 759.1 L254.5 759.0 L255.0 759.0 L255.5 758.9 L256.1 758.9 L256.6 758.9 L257.2 758.8 L257.7 758.8 L258.3 758.7 L258.8 758.7 L259.4 758.7 L259.9 758.6 L260.5 758.6 L261.0 758.6 L261.5 758.5 L262.1 758.5 L262.6 758.4 L263.2 758.4 L263.7 758.4 L264.3 758.3 L264.8 758.3 L265.4 758.2 L265.9 758.2 L266.5 758.2 L267.0 758.1 L267.5 758.1 L268.1 758.0 L268.6 758.0 L269.2 758.0 L269.7 757.9 L270.3 757.9 L270.8 757.9 L271.4 757.8 L271.9 757.8 L272.5 757.7 L273.0 757.7 L273.5 757.7 L274.1 757.6 L274.6 757.6 L275.2 757.6 L275.7 757.5 L276.3 757.5 L276.8 757.4 L277.4 757.4 L277.9 757.4 L278.5 757.3 L279.0 757.3 L279.5 757.3 L280.1 757.2 L280.6 757.2 L281.2 757.2 L281.7 757.1 L282.3 757.1 L282.8 757.0 L283.4 757.0 L283.9 757.0 L284.5 756.9 L285.0 756.9 L285.5 756.9 L286.1 756.8 L286.6 756.8 L287.2 756.8 L287.7 756.7 L288.3 756.7 L288.8 756.7 L289.4 756.6 L289.9 756.6 L290.5 756.6 L291.0 756.5 L291.5 756.5 L292.1 756.5 L292.6 756.4 L293.2 756.4 L293.7 756.4 L294.3 756.3 L294.8 756.3 L295.4 756.3 L295.9 756.2 L296.5 756.2 L297.0 756.2 L297.5 756.1 L298.1 756.1 L298.6 756.1 L299.2 756.0 L299.7 756.0 L300.3 756.0 L300.8 755.9 L301.4 755.9 L301.9 755.9 L302.5 755.9 L303.0 755.8 L303.5 755.8 L304.1 755.8 L304.6 755.7 L305.2 755.7 L305.7 755.7 L306.3 755.7 L306.8 755.6 L307.4 755.6 L307.9 755.6 L308.5 755.5 L309.0 755.5 L309.5 755.5 L310.1 755.5 L310.6 755.4 L311.2 755.4 L311.7 755.4 L312.3 755.4 L312.8 755.3 L313.4 755.3 L313.9 755.3 L314.5 755.3 L315.0 755.2 L315.5 755.2 L316.1 755.2 L316.6 755.2 L317.2 755.1 L317.7 755.1 L318.3 755.1 L318.8 755.1 L319.4 755.0 L319.9 755.0 L320.5 755.0 L321.0 755.0 L321.5 755.0 L322.1 754.9 L322.6 754.9 L323.2 754.9 L323.7 754.9 L324.3 754.9 L324.8 754.8 L325.4 754.8 L325.9 754.8 L326.5 754.8 L327.0 754.8 L327.5 754.7 L328.1 754.7 L328.6 754.7 L329.2 754.7 L329.7 754.7 L330.3 754.7 L330.8 754.6 L331.4 754.6 L331.9 754.6" fill="none" stroke="#0000ff" stroke-width="2.1" stroke-linejoin="round"/>
<path d="M59.7 671.4 L60.3 671.6 L60.8 672.0 L61.4 672.5 L61.9 673.1 L62.5 673.9 L63.0 674.7 L63.6 675.7 L64.1 676.8 L64.6 677.9 L65.2 679.1 L65.7 680.3 L66.3 681.6 L66.8 683.0 L67.4 684.3 L67.9 685.7 L68.5 687.1 L69.0 688.6 L69.6 690.1 L70.1 691.6 L70.6 693.1 L71.2 694.6 L71.7 696.2 L72.3 697.8 L72.8 699.4 L73.4 701.0 L73.9 702.7 L74.5 704.3 L75.0 706.0 L75.6 707.7 L76.1 709.4 L76.6 711.1 L77.2 712.8 L77.7 714.5 L78.3 716.1 L78.8 717.8 L79.4 719.4 L79.9 721.0 L80.5 722.5 L81.0 724.1 L81.6 725.5 L82.1 727.0 L82.6 728.3 L83.2 729.7 L83.7 730.9 L84.3 732.0 L84.8 733.0 L85.4 733.8 L85.9 734.5 L86.5 735.1 L87.0 735.7 L87.6 736.3 L88.1 737.0 L88.6 737.7 L89.2 738.4 L89.7 739.1 L90.3 739.9 L90.8 740.6 L91.4 741.3 L91.9 742.0 L92.5 742.7 L93.0 743.4 L93.6 744.0 L94.1 744.6 L94.6 745.2 L95.2 745.7 L95.7 746.3 L96.3 746.8 L96.8 747.2 L97.4 747.6 L97.9 748.0 L98.5 748.4 L99.0 748.8 L99.6 749.1 L100.1 749.4 L100.6 749.7 L101.2 750.0 L101.7 750.2 L102.3 750.5 L102.8 750.7 L103.4 750.9 L103.9 751.1 L104.5 751.3 L105.0 751.5 L105.6 751.7 L106.1 751.8 L106.6 752.0 L107.2 752.1 L107.7 752.2 L108.3 752.4 L108.8 752.5 L109.4 752.6 L109.9 752.6 L110.5 752.7 L111.0 752.8 L111.6 752.8 L112.1 752.9 L112.6 752.9 L113.2 753.0 L113.7 753.0 L114.3 753.0 L114.8 753.0 L115.4 753.0 L115.9 753.0 L116.5 753.0 L117.0 753.0 L117.6 753.0 L118.1 752.9 L118.6 752.9 L119.2 752.9 L119.7 752.8 L120.3 752.8 L120.8 752.7 L121.4 752.7 L121.9 752.6 L122.5 752.5 L123.0 752.5 L123.6 752.4 L124.1 752.3 L124.6 752.2 L125.2 752.2 L125.7 752.1 L126.3 752.0 L126.8 751.9 L127.4 751.8 L127.9 751.8 L128.5 751.7 L129.0 751.6 L129.6 751.5 L130.1 751.4 L130.6 751.3 L131.2 751.2 L131.7 751.1 L132.3 751.0 L132.8 751.0 L133.4 750.9 L133.9 750.8 L134.5 750.7 L135.0 750.6 L135.6 750.5 L136.1 750.4 L136.6 750.3 L137.2 750.2 L137.7 750.1 L138.3 750.0 L138.8 749.9 L139.4 749.8 L139.9 749.7 L140.5 749.6 L141.0 749.5 L141.6 749.4 L142.1 749.3 L142.6 749.2 L143.2 749.1 L143.7 749.0 L144.3 748.9 L144.8 748.8 L145.4 748.7 L145.9 748.6 L146.5 748.5 L147.0 748.4 L147.6 748.3 L148.1 748.2 L148.6 748.1 L149.2 748.0 L149.7 747.9 L150.3 747.8 L150.8 747.8 L151.4 747.7 L151.9 747.6 L152.5 747.5 L153.0 747.4 L153.6 747.3 L154.1 747.2 L154.6 747.1 L155.2 747.0 L155.7 746.9 L156.3 746.8 L156.8 746.8 L157.4 746.7 L157.9 746.6 L158.5 746.5 L159.0 746.4 L159.6 746.3 L160.1 746.2 L160.6 746.1 L161.2 746.1 L161.7 746.0 L162.3 745.9 L162.8 745.8 L163.4 745.7 L163.9 745.6 L164.5 745.5 L165.0 745.4 L165.6 745.3 L166.1 745.2 L166.6 745.2 L167.2 745.1 L167.7 745.0 L168.3 744.9 L168.8 744.8 L169.4 744.7 L169.9 744.6 L170.5 744.5 L171.0 744.4 L171.6 744.3 L172.1 744.2 L172.6 744.1 L173.2 744.0 L173.7 743.9 L174.3 743.8 L174.8 743.7 L175.4 743.6 L175.9 743.5 L176.5 743.4 L177.0 743.3 L177.6 743.2 L178.1 743.0 L178.6 742.9 L179.2 742.8 L179.7 742.7 L180.3 742.6 L180.8 742.5 L181.4 742.4 L181.9 742.2 L182.5 742.1 L183.0 742.0 L183.6 741.9 L184.1 741.8 L184.6 741.6 L185.2 741.5 L185.7 741.4 L186.3 741.2 L186.8 741.1 L187.4 741.0 L187.9 740.9 L188.5 740.7 L189.0 740.6 L189.6 740.5 L190.1 740.3 L190.6 740.2 L191.2 740.1 L191.7 739.9 L192.3 739.8 L192.8 739.7 L193.4 739.5 L193.9 739.4 L194.5 739.2 L195.0 739.1 L195.6 739.0 L196.1 738.8 L196.6 738.7 L197.2 738.5 L197.7 738.4 L198.3 738.2 L198.8 738.1 L199.4 737.9 L199.9 737.8 L200.5 737.6 L201.0 737.5 L201.6 737.4 L202.1 737.2 L202.6 737.1 L203.2 736.9 L203.7 736.8 L204.3 736.6 L204.8 736.4 L205.4 736.3 L205.9 736.1 L206.5 736.0 L207.0 735.8 L207.6 735.7 L208.1 735.5 L208.6 735.4 L209.2 735.2 L209.7 735.1 L210.3 734.9 L210.8 734.8 L211.4 734.6 L211.9 734.4 L212.5 734.3 L213.0 734.1 L213.6 734.0 L214.1 733.8 L214.6 733.7 L215.2 733.5 L215.7 733.3 L216.3 733.2 L216.8 733.0 L217.4 732.9 L217.9 732.7 L218.5 732.5 L219.0 732.4 L219.6 732.2 L220.1 732.1 L220.6 731.9 L221.2 731.7 L221.7 731.6 L222.3 731.4 L222.8 731.3 L223.4 731.1 L223.9 730.9 L224.5 730.8 L225.0 730.6 L225.5 730.5 L226.1 730.3 L226.6 730.2 L227.2 730.0 L227.7 729.8 L228.3 729.7 L228.8 729.5 L229.4 729.4 L229.9 729.2 L230.5 729.0 L231.0 728.9 L231.5 728.7 L232.1 728.6 L232.6 728.4 L233.2 728.3 L233.7 728.1 L234.3 727.9 L234.8 727.8 L235.4 727.6 L235.9 727.5 L236.5 727.3 L237.0 727.2 L237.5 727.0 L238.1 726.9 L238.6 726.7 L239.2 726.6 L239.7 726.4 L240.3 726.3 L240.8 726.1 L241.4 726.0 L241.9 725.8 L242.5 725.7 L243.0 725.5 L243.5 725.4 L244.1 725.2 L244.6 725.1 L245.2 724.9 L245.7 724.8 L246.3 724.6 L246.8 724.5 L247.4 724.3 L247.9 724.2 L248.5 724.0 L249.0 723.9 L249.5 723.7 L250.1 723.6 L250.6 723.5 L251.2 723.3 L251.7 723.2 L252.3 723.0 L252.8 722.9 L253.4 722.7 L253.9 722.6 L254.5 722.5 L255.0 722.3 L255.5 722.2 L256.1 722.0 L256.6 721.9 L257.2 721.8 L257.7 721.6 L258.3 721.5 L258.8 721.3 L259.4 721.2 L259.9 721.1 L260.5 720.9 L261.0 720.8 L261.5 720.7 L262.1 720.5 L262.6 720.4 L263.2 720.2 L263.7 720.1 L264.3 720.0 L264.8 719.8 L265.4 719.7 L265.9 719.6 L266.5 719.4 L267.0 719.3 L267.5 719.2 L268.1 719.0 L268.6 718.9 L269.2 718.8 L269.7 718.6 L270.3 718.5 L270.8 718.4 L271.4 718.2 L271.9 718.1 L272.5 718.0 L273.0 717.8 L273.5 717.7 L274.1 717.6 L274.6 717.4 L275.2 717.3 L275.7 717.2 L276.3 717.1 L276.8 716.9 L277.4 716.8 L277.9 716.7 L278.5 716.5 L279.0 716.4 L279.5 716.3 L280.1 716.1 L280.6 716.0 L281.2 715.9 L281.7 715.8 L282.3 715.6 L282.8 715.5 L283.4 715.4 L283.9 715.2 L284.5 715.1 L285.0 715.0 L285.5 714.9 L286.1 714.7 L286.6 714.6 L287.2 714.5 L287.7 714.3 L288.3 714.2 L288.8 714.1 L289.4 714.0 L289.9 713.8 L290.5 713.7 L291.0 713.6 L291.5 713.4 L292.1 713.3 L292.6 713.2 L293.2 713.1 L293.7 712.9 L294.3 712.8 L294.8 712.7 L295.4 712.6 L295.9 712.4 L296.5 712.3 L297.0 712.2 L297.5 712.0 L298.1 711.9 L298.6 711.8 L299.2 711.7 L299.7 711.5 L300.3 711.4 L300.8 711.3 L301.4 711.2 L301.9 711.0 L302.5 710.9 L303.0 710.8 L303.5 710.7 L304.1 710.5 L304.6 710.4 L305.2 710.3 L305.7 710.2 L306.3 710.0 L306.8 709.9 L307.4 709.8 L307.9 709.7 L308.5 709.5 L309.0 709.4 L309.5 709.3 L310.1 709.2 L310.6 709.0 L311.2 708.9 L311.7 708.8 L312.3 708.7 L312.8 708.5 L313.4 708.4 L313.9 708.3 L314.5 708.2 L315.0 708.1 L315.5 707.9 L316.1 707.8 L316.6 707.7 L317.2 707.6 L317.7 707.4 L318.3 707.3 L318.8 707.2 L319.4 707.1 L319.9 706.9 L320.5 706.8 L321.0 706.7 L321.5 706.6 L322.1 706.5 L322.6 706.3 L323.2 706.2 L323.7 706.1 L324.3 706.0 L324.8 705.9 L325.4 705.7 L325.9 705.6 L326.5 705.5 L327.0 705.4 L327.5 705.3 L328.1 705.1 L328.6 705.0 L329.2 704.9 L329.7 704.8 L330.3 704.7 L330.8 704.5 L331.4 704.4 L331.9 704.3" fill="none" stroke="#ff0000" stroke-width="2.1" stroke-linejoin="round"/>
</g>
<line x1="83.81" y1="837" x2="83.81" y2="834.5" stroke="#222222" stroke-width="1.8"/>
<line x1="83.81" y1="654.2" x2="83.81" y2="656.7" stroke="#222222" stroke-width="1.8"/>
<line x1="100.47" y1="837" x2="100.47" y2="834.5" stroke="#222222" stroke-width="1.8"/>
<line x1="100.47" y1="654.2" x2="100.47" y2="656.7" stroke="#222222" stroke-width="1.8"/>
<line x1="117.14" y1="837" x2="117.14" y2="834.5" stroke="#222222" stroke-width="1.8"/>
<line x1="117.14" y1="654.2" x2="117.14" y2="656.7" stroke="#222222" stroke-width="1.8"/>
<line x1="133.8" y1="837" x2="133.8" y2="834.5" stroke="#222222" stroke-width="1.8"/>
<line x1="133.8" y1="654.2" x2="133.8" y2="656.7" stroke="#222222" stroke-width="1.8"/>
<line x1="168.58" y1="837" x2="168.58" y2="834.5" stroke="#222222" stroke-width="1.8"/>
<line x1="168.58" y1="654.2" x2="168.58" y2="656.7" stroke="#222222" stroke-width="1.8"/>
<line x1="186.69" y1="837" x2="186.69" y2="834.5" stroke="#222222" stroke-width="1.8"/>
<line x1="186.69" y1="654.2" x2="186.69" y2="656.7" stroke="#222222" stroke-width="1.8"/>
<line x1="204.81" y1="837" x2="204.81" y2="834.5" stroke="#222222" stroke-width="1.8"/>
<line x1="204.81" y1="654.2" x2="204.81" y2="656.7" stroke="#222222" stroke-width="1.8"/>
<line x1="222.92" y1="837" x2="222.92" y2="834.5" stroke="#222222" stroke-width="1.8"/>
<line x1="222.92" y1="654.2" x2="222.92" y2="656.7" stroke="#222222" stroke-width="1.8"/>
<line x1="259.15" y1="837" x2="259.15" y2="834.5" stroke="#222222" stroke-width="1.8"/>
<line x1="259.15" y1="654.2" x2="259.15" y2="656.7" stroke="#222222" stroke-width="1.8"/>
<line x1="277.26" y1="837" x2="277.26" y2="834.5" stroke="#222222" stroke-width="1.8"/>
<line x1="277.26" y1="654.2" x2="277.26" y2="656.7" stroke="#222222" stroke-width="1.8"/>
<line x1="295.37" y1="837" x2="295.37" y2="834.5" stroke="#222222" stroke-width="1.8"/>
<line x1="295.37" y1="654.2" x2="295.37" y2="656.7" stroke="#222222" stroke-width="1.8"/>
<line x1="313.49" y1="837" x2="313.49" y2="834.5" stroke="#222222" stroke-width="1.8"/>
<line x1="313.49" y1="654.2" x2="313.49" y2="656.7" stroke="#222222" stroke-width="1.8"/>
<line x1="67.15" y1="837" x2="67.15" y2="833.1" stroke="#222222" stroke-width="2"/>
<line x1="67.15" y1="654.2" x2="67.15" y2="658.1" stroke="#222222" stroke-width="2"/>
<line x1="150.47" y1="837" x2="150.47" y2="833.1" stroke="#222222" stroke-width="2"/>
<line x1="150.47" y1="654.2" x2="150.47" y2="658.1" stroke="#222222" stroke-width="2"/>
<line x1="241.03" y1="837" x2="241.03" y2="833.1" stroke="#222222" stroke-width="2"/>
<line x1="241.03" y1="654.2" x2="241.03" y2="658.1" stroke="#222222" stroke-width="2"/>
<line x1="59.9" y1="791.3" x2="64.1" y2="791.3" stroke="#222222" stroke-width="1.9"/>
<line x1="331.6" y1="791.3" x2="327.4" y2="791.3" stroke="#222222" stroke-width="1.9"/>
<line x1="59.9" y1="745.6" x2="64.1" y2="745.6" stroke="#222222" stroke-width="1.9"/>
<line x1="331.6" y1="745.6" x2="327.4" y2="745.6" stroke="#222222" stroke-width="1.9"/>
<line x1="59.9" y1="699.9" x2="64.1" y2="699.9" stroke="#222222" stroke-width="1.9"/>
<line x1="331.6" y1="699.9" x2="327.4" y2="699.9" stroke="#222222" stroke-width="1.9"/>
<rect x="59.9" y="654.2" width="271.7" height="182.8" fill="none" stroke="#222222" stroke-width="2"/>
<text x="53" y="841.8" font-size="13.3" text-anchor="end" fill="#3a3532">0</text>
<text x="53" y="795.3" font-size="13.3" text-anchor="end" fill="#3a3532">0.2</text>
<text x="53" y="703.9" font-size="13.3" text-anchor="end" fill="#3a3532">0.6</text>
<text transform="translate(21.4 746.1) rotate(-90)" font-size="14.2" letter-spacing="-0.2" text-anchor="middle" fill="#3a3532">1 - <tspan font-style="italic">T</tspan>/<tspan font-style="italic">T</tspan><tspan dy="3.2" font-size="9.2">0</tspan></text>
<text x="10.3" y="656.1" font-size="20.5" text-anchor="start" fill="#3a3532" font-weight="bold" fill="#111">d</text>
<text x="148.7" y="695" font-size="13.6" text-anchor="start" fill="#3a3532">230 K</text>
<text x="67.15" y="855.8" font-size="13.3" text-anchor="middle" fill="#3a3532">80</text>
<text x="150.47" y="855.8" font-size="13.3" text-anchor="middle" fill="#3a3532">1000</text>
<text x="242.03" y="855.8" font-size="13.3" text-anchor="middle" fill="#3a3532">2000</text>
<text x="331.6" y="855.8" font-size="13.3" text-anchor="middle" fill="#3a3532">3000</text>
<text x="195.75" y="873.7" font-size="13.6" text-anchor="middle" fill="#3a3532">Frequency (cm<tspan dy="-5.9" font-size="8.7">−1</tspan><tspan dy="5.9">)</tspan></text>
<text x="225.6" y="157.3" font-size="13.55" text-anchor="start" fill="#ff0000" font-style="italic">// <tspan dx="0.2">a</tspan></text>
<text x="253.2" y="157.3" font-size="13.55" text-anchor="start" fill="#0000ff" font-style="italic">// <tspan dx="0.2">b</tspan></text>
<circle cx="231.9" cy="170.3" r="3.9" fill="none" stroke="#ff0000" stroke-width="2.1"/>
<rect x="256.2" y="167.3" width="5.9" height="5.9" fill="none" stroke="#0000ff" stroke-width="2"/>
<text x="275" y="175" font-size="13.55" text-anchor="start" fill="#3a3532">Expt.</text>
<line x1="222.8" y1="188.6" x2="240.8" y2="188.6" stroke="#ff0000" stroke-width="2.1"/>
<line x1="250.2" y1="188.6" x2="268" y2="188.6" stroke="#0000ff" stroke-width="2.1"/>
<text x="274.8" y="193.3" font-size="13.55" text-anchor="start" fill="#3a3532">Fit</text>
<rect x="507.1" y="23.8" width="49.7" height="182.9" fill="#c6c6c6"/>
<g clip-path="url(#c20)">
<path d="M403.6 176.3 L403.6 176.2 L403.6 176.1 L403.6 176.0 L403.6 175.8 L403.6 175.6 L403.7 175.3 L403.7 175.0 L403.7 174.6 L403.7 174.3 L403.8 173.8 L403.8 173.4 L403.8 172.9 L403.9 172.4 L403.9 171.9 L404.0 171.3 L404.0 170.7 L404.0 170.1 L404.1 169.4 L404.1 168.7 L404.2 168.0 L404.2 167.3 L404.3 166.5 L404.4 165.7 L404.4 164.9 L404.5 164.1 L404.5 163.2 L404.6 162.3 L404.7 161.4 L404.8 160.5 L404.8 159.6 L404.9 158.6 L405.0 157.6 L405.1 156.6 L405.1 155.6 L405.2 154.5 L405.3 153.4 L405.4 152.4 L405.5 151.2 L405.6 150.1 L405.7 149.0 L405.8 147.8 L405.8 146.6 L405.9 145.4 L406.0 144.2 L406.1 142.9 L406.2 141.7 L406.4 140.4 L406.5 139.1 L406.6 137.8 L406.7 136.5 L406.8 135.1 L406.9 133.7 L407.0 132.4 L407.1 131.0 L407.3 129.5 L407.4 128.1 L407.5 126.6 L407.6 125.2 L407.7 123.7 L407.9 122.1 L408.0 120.6 L408.1 119.1 L408.3 117.5 L408.4 115.9 L408.5 114.3 L408.7 112.7 L408.8 111.1 L409.0 109.4 L409.1 107.8 L409.2 106.2 L409.4 104.5 L409.5 102.9 L409.7 101.3 L409.8 99.7 L410.0 98.1 L410.1 96.5 L410.3 94.9 L410.5 93.3 L410.6 91.8 L410.8 90.3 L410.9 88.8 L411.1 87.3 L411.3 85.8 L411.4 84.4 L411.6 83.0 L411.8 81.6 L411.9 80.3 L412.1 79.0 L412.3 77.7 L412.5 76.4 L412.6 75.2 L412.8 74.0 L413.0 72.8 L413.2 71.7 L413.4 70.6 L413.6 69.5 L413.7 68.4 L413.9 67.4 L414.1 66.3 L414.3 65.4 L414.5 64.4 L414.7 63.5 L414.9 62.7 L415.1 61.9 L415.3 61.1 L415.5 60.4 L415.7 59.7 L415.9 59.1 L416.1 58.5 L416.3 58.0 L416.5 57.5 L416.7 57.0 L417.0 56.6 L417.2 56.2 L417.4 55.8 L417.6 55.5 L417.8 55.2 L418.0 54.9 L418.3 54.7 L418.5 54.4 L418.7 54.2 L418.9 54.1 L419.2 53.9 L419.4 53.8 L419.6 53.7 L419.8 53.6 L420.1 53.5 L420.3 53.5 L420.6 53.4 L420.8 53.4 L421.0 53.4 L421.3 53.4 L421.5 53.5 L421.8 53.5 L422.0 53.6 L422.2 53.7 L422.5 53.7 L422.7 53.8 L423.0 54.0 L423.2 54.1 L423.5 54.3 L423.7 54.4 L424.0 54.6 L424.3 54.8 L424.5 55.0 L424.8 55.2 L425.0 55.5 L425.3 55.7 L425.6 56.0 L425.8 56.3 L426.1 56.6 L426.4 56.9 L426.6 57.2 L426.9 57.6 L427.2 57.9 L427.5 58.3 L427.7 58.7 L428.0 59.1 L428.3 59.5 L428.6 59.9 L428.9 60.4 L429.1 60.8 L429.4 61.3 L429.7 61.7 L430.0 62.2 L430.3 62.7 L430.6 63.2 L430.9 63.7 L431.2 64.2 L431.5 64.7 L431.8 65.3 L432.0 65.8 L432.3 66.3 L432.6 66.9 L432.9 67.4 L433.3 68.0 L433.6 68.5 L433.9 69.1 L434.2 69.7 L434.5 70.2 L434.8 70.8 L435.1 71.4 L435.4 72.0 L435.7 72.6 L436.0 73.1 L436.4 73.7 L436.7 74.3 L437.0 74.9 L437.3 75.5 L437.6 76.1 L438.0 76.8 L438.3 77.4 L438.6 78.0 L438.9 78.6 L439.3 79.2 L439.6 79.8 L439.9 80.5 L440.3 81.1 L440.6 81.7 L440.9 82.3 L441.3 82.9 L441.6 83.6 L441.9 84.2 L442.3 84.8 L442.6 85.4 L443.0 86.1 L443.3 86.7 L443.7 87.3 L444.0 87.9 L444.3 88.6 L444.7 89.2 L445.0 89.8 L445.4 90.4 L445.8 91.1 L446.1 91.7 L446.5 92.3 L446.8 92.9 L447.2 93.6 L447.5 94.2 L447.9 94.8 L448.3 95.4 L448.6 96.1 L449.0 96.7 L449.4 97.3 L449.7 97.9 L450.1 98.5 L450.5 99.2 L450.9 99.8 L451.2 100.4 L451.6 101.0 L452.0 101.6 L452.4 102.2 L452.7 102.8 L453.1 103.4 L453.5 104.0 L453.9 104.6 L454.3 105.2 L454.6 105.8 L455.0 106.4 L455.4 107.0 L455.8 107.5 L456.2 108.1 L456.6 108.7 L457.0 109.3 L457.4 109.8 L457.8 110.4 L458.2 110.9 L458.6 111.5 L459.0 112.1 L459.4 112.6 L459.8 113.1 L460.2 113.7 L460.6 114.2 L461.0 114.8 L461.4 115.3 L461.8 115.8 L462.2 116.4 L462.6 116.9 L463.0 117.4 L463.5 117.9 L463.9 118.5 L464.3 119.0 L464.7 119.5 L465.1 120.0 L465.5 120.5 L466.0 121.0 L466.4 121.5 L466.8 122.0 L467.2 122.5 L467.7 123.0 L468.1 123.5 L468.5 124.0 L468.9 124.4 L469.4 124.9 L469.8 125.4 L470.2 125.9 L470.7 126.3 L471.1 126.8 L471.6 127.3 L472.0 127.7 L472.4 128.2 L472.9 128.6 L473.3 129.1 L473.8 129.5 L474.2 130.0 L474.7 130.4 L475.1 130.9 L475.5 131.3 L476.0 131.7 L476.5 132.2 L476.9 132.6 L477.4 133.0 L477.8 133.5 L478.3 133.9 L478.7 134.3 L479.2 134.8 L479.6 135.2 L480.1 135.6 L480.6 136.0 L481.0 136.5 L481.5 136.9 L482.0 137.3 L482.4 137.7 L482.9 138.1 L483.4 138.6 L483.8 139.0 L484.3 139.4 L484.8 139.8 L485.3 140.2 L485.7 140.6 L486.2 141.0 L486.7 141.4 L487.2 141.8 L487.7 142.2 L488.1 142.6 L488.6 143.0 L489.1 143.4 L489.6 143.8 L490.1 144.1 L490.6 144.5 L491.1 144.9 L491.6 145.3 L492.0 145.6 L492.5 146.0 L493.0 146.4 L493.5 146.7 L494.0 147.1 L494.5 147.5 L495.0 147.8 L495.5 148.2 L496.0 148.5 L496.5 148.9 L497.0 149.2 L497.5 149.5 L498.0 149.9 L498.6 150.2 L499.1 150.5 L499.6 150.9 L500.1 151.2 L500.6 151.5 L501.1 151.9 L501.6 152.2 L502.1 152.5 L502.7 152.8 L503.2 153.1 L503.7 153.4 L504.2 153.7 L504.7 154.1 L505.3 154.4 L505.8 154.7 L506.3 155.0 L506.9 155.3 L507.4 155.6 L507.9 155.9 L508.4 156.2 L509.0 156.5 L509.5 156.8 L510.0 157.1 L510.6 157.4 L511.1 157.7 L511.7 158.0 L512.2 158.3 L512.7 158.6 L513.3 158.9 L513.8 159.1 L514.4 159.4 L514.9 159.7 L515.5 160.0 L516.0 160.3 L516.5 160.6 L517.1 160.9 L517.7 161.2 L518.2 161.4 L518.8 161.7 L519.3 162.0 L519.9 162.3 L520.4 162.6 L521.0 162.9 L521.5 163.1 L522.1 163.4 L522.7 163.7 L523.2 164.0 L523.8 164.3 L524.4 164.5 L524.9 164.8 L525.5 165.1 L526.1 165.4 L526.6 165.6 L527.2 165.9 L527.8 166.2 L528.3 166.4 L528.9 166.7 L529.5 167.0 L530.1 167.2 L530.7 167.5 L531.2 167.8 L531.8 168.0 L532.4 168.3 L533.0 168.5 L533.6 168.8 L534.2 169.0 L534.7 169.3 L535.3 169.5 L535.9 169.8 L536.5 170.0 L537.1 170.2 L537.7 170.5 L538.3 170.7 L538.9 170.9 L539.5 171.2 L540.1 171.4 L540.7 171.6 L541.3 171.8 L541.9 172.0 L542.5 172.3 L543.1 172.5 L543.7 172.7 L544.3 172.9 L544.9 173.1 L545.5 173.3 L546.1 173.5 L546.7 173.7 L547.3 173.9 L547.9 174.0 L548.6 174.2 L549.2 174.4 L549.8 174.6 L550.4 174.8 L551.0 174.9 L551.6 175.1 L552.3 175.3 L552.9 175.4 L553.5 175.6 L554.1 175.7 L554.7 175.9 L555.4 176.1 L556.0 176.2 L556.6 176.3 L557.3 176.5 L557.9 176.6 L558.5 176.8 L559.2 176.9 L559.8 177.0 L560.4 177.2 L561.1 177.3 L561.7 177.4 L562.3 177.5 L563.0 177.7 L563.6 177.8 L564.3 177.9 L564.9 178.0 L565.5 178.1 L566.2 178.2 L566.8 178.3 L567.5 178.4 L568.1 178.6 L568.8 178.7 L569.4 178.8 L570.1 178.9 L570.7 179.0 L571.4 179.0 L572.1 179.1 L572.7 179.2 L573.4 179.3 L574.0 179.4 L574.7 179.5 L575.3 179.6 L576.0 179.7 L576.7 179.8 L577.3 179.8 L578.0 179.9 L578.7 180.0 L579.3 180.1 L580.0 180.2 L580.7 180.2 L581.4 180.3 L582.0 180.4 L582.7 180.5 L583.4 180.5 L584.0 180.6 L584.7 180.7 L585.4 180.8 L586.1 180.8 L586.8 180.9 L587.4 181.0 L588.1 181.0 L588.8 181.1 L589.5 181.2 L590.2 181.2 L590.9 181.3 L591.6 181.4 L592.3 181.5 L592.9 181.5 L593.6 181.6 L594.3 181.7 L595.0 181.7 L595.7 181.8 L596.4 181.9 L597.1 181.9" fill="none" stroke="#ff0000" stroke-width="1.9" stroke-linejoin="round"/>
<path d="M403.6 176.2 L403.6 176.1 L403.6 176.1 L403.6 176.0 L403.6 175.8 L403.6 175.7 L403.7 175.5 L403.7 175.3 L403.7 175.0 L403.7 174.8 L403.8 174.5 L403.8 174.2 L403.8 173.9 L403.9 173.5 L403.9 173.2 L404.0 172.8 L404.0 172.4 L404.0 171.9 L404.1 171.5 L404.1 171.0 L404.2 170.5 L404.2 170.0 L404.3 169.5 L404.4 169.0 L404.4 168.5 L404.5 167.9 L404.5 167.3 L404.6 166.7 L404.7 166.1 L404.8 165.5 L404.8 164.9 L404.9 164.3 L405.0 163.6 L405.1 163.0 L405.1 162.3 L405.2 161.6 L405.3 160.9 L405.4 160.3 L405.5 159.6 L405.6 158.8 L405.7 158.1 L405.8 157.4 L405.8 156.7 L405.9 156.0 L406.0 155.2 L406.1 154.5 L406.2 153.7 L406.4 153.0 L406.5 152.2 L406.6 151.5 L406.7 150.7 L406.8 149.9 L406.9 149.2 L407.0 148.4 L407.1 147.6 L407.3 146.8 L407.4 146.1 L407.5 145.3 L407.6 144.5 L407.7 143.7 L407.9 143.0 L408.0 142.2 L408.1 141.4 L408.3 140.7 L408.4 139.9 L408.5 139.1 L408.7 138.4 L408.8 137.6 L409.0 136.9 L409.1 136.1 L409.2 135.4 L409.4 134.6 L409.5 133.9 L409.7 133.2 L409.8 132.4 L410.0 131.7 L410.1 131.0 L410.3 130.3 L410.5 129.7 L410.6 129.0 L410.8 128.3 L410.9 127.7 L411.1 127.0 L411.3 126.4 L411.4 125.8 L411.6 125.2 L411.8 124.6 L411.9 124.1 L412.1 123.5 L412.3 123.0 L412.5 122.5 L412.6 121.9 L412.8 121.5 L413.0 121.0 L413.2 120.5 L413.4 120.1 L413.6 119.6 L413.7 119.2 L413.9 118.8 L414.1 118.4 L414.3 118.1 L414.5 117.7 L414.7 117.4 L414.9 117.1 L415.1 116.8 L415.3 116.5 L415.5 116.2 L415.7 115.9 L415.9 115.7 L416.1 115.5 L416.3 115.2 L416.5 115.0 L416.7 114.9 L417.0 114.7 L417.2 114.5 L417.4 114.4 L417.6 114.2 L417.8 114.1 L418.0 114.0 L418.3 113.9 L418.5 113.8 L418.7 113.8 L418.9 113.7 L419.2 113.7 L419.4 113.6 L419.6 113.6 L419.8 113.6 L420.1 113.6 L420.3 113.7 L420.6 113.7 L420.8 113.8 L421.0 113.8 L421.3 113.9 L421.5 114.0 L421.8 114.1 L422.0 114.2 L422.2 114.3 L422.5 114.5 L422.7 114.6 L423.0 114.8 L423.2 115.0 L423.5 115.1 L423.7 115.3 L424.0 115.5 L424.3 115.7 L424.5 116.0 L424.8 116.2 L425.0 116.4 L425.3 116.7 L425.6 116.9 L425.8 117.2 L426.1 117.5 L426.4 117.7 L426.6 118.0 L426.9 118.3 L427.2 118.6 L427.5 118.9 L427.7 119.2 L428.0 119.5 L428.3 119.8 L428.6 120.1 L428.9 120.4 L429.1 120.7 L429.4 121.0 L429.7 121.4 L430.0 121.7 L430.3 122.0 L430.6 122.4 L430.9 122.7 L431.2 123.0 L431.5 123.4 L431.8 123.7 L432.0 124.1 L432.3 124.4 L432.6 124.8 L432.9 125.1 L433.3 125.5 L433.6 125.8 L433.9 126.2 L434.2 126.6 L434.5 126.9 L434.8 127.3 L435.1 127.6 L435.4 128.0 L435.7 128.4 L436.0 128.7 L436.4 129.1 L436.7 129.4 L437.0 129.8 L437.3 130.2 L437.6 130.5 L438.0 130.9 L438.3 131.2 L438.6 131.6 L438.9 132.0 L439.3 132.3 L439.6 132.7 L439.9 133.0 L440.3 133.4 L440.6 133.8 L440.9 134.1 L441.3 134.5 L441.6 134.8 L441.9 135.2 L442.3 135.5 L442.6 135.9 L443.0 136.2 L443.3 136.6 L443.7 136.9 L444.0 137.3 L444.3 137.6 L444.7 137.9 L445.0 138.3 L445.4 138.6 L445.8 139.0 L446.1 139.3 L446.5 139.6 L446.8 140.0 L447.2 140.3 L447.5 140.6 L447.9 140.9 L448.3 141.3 L448.6 141.6 L449.0 141.9 L449.4 142.2 L449.7 142.5 L450.1 142.8 L450.5 143.2 L450.9 143.5 L451.2 143.8 L451.6 144.1 L452.0 144.4 L452.4 144.7 L452.7 145.0 L453.1 145.3 L453.5 145.6 L453.9 145.9 L454.3 146.2 L454.6 146.5 L455.0 146.8 L455.4 147.1 L455.8 147.4 L456.2 147.7 L456.6 148.0 L457.0 148.3 L457.4 148.6 L457.8 148.9 L458.2 149.2 L458.6 149.5 L459.0 149.8 L459.4 150.1 L459.8 150.4 L460.2 150.7 L460.6 150.9 L461.0 151.2 L461.4 151.5 L461.8 151.8 L462.2 152.1 L462.6 152.4 L463.0 152.7 L463.5 153.0 L463.9 153.3 L464.3 153.6 L464.7 153.9 L465.1 154.1 L465.5 154.4 L466.0 154.7 L466.4 155.0 L466.8 155.3 L467.2 155.5 L467.7 155.8 L468.1 156.1 L468.5 156.4 L468.9 156.6 L469.4 156.9 L469.8 157.2 L470.2 157.5 L470.7 157.7 L471.1 158.0 L471.6 158.3 L472.0 158.5 L472.4 158.8 L472.9 159.1 L473.3 159.3 L473.8 159.6 L474.2 159.9 L474.7 160.1 L475.1 160.4 L475.5 160.6 L476.0 160.9 L476.5 161.2 L476.9 161.4 L477.4 161.7 L477.8 161.9 L478.3 162.2 L478.7 162.5 L479.2 162.7 L479.6 163.0 L480.1 163.2 L480.6 163.5 L481.0 163.8 L481.5 164.0 L482.0 164.3 L482.4 164.5 L482.9 164.8 L483.4 165.0 L483.8 165.3 L484.3 165.6 L484.8 165.8 L485.3 166.1 L485.7 166.3 L486.2 166.6 L486.7 166.8 L487.2 167.1 L487.7 167.3 L488.1 167.6 L488.6 167.8 L489.1 168.1 L489.6 168.3 L490.1 168.6 L490.6 168.8 L491.1 169.1 L491.6 169.3 L492.0 169.6 L492.5 169.8 L493.0 170.1 L493.5 170.3 L494.0 170.6 L494.5 170.8 L495.0 171.1 L495.5 171.3 L496.0 171.5 L496.5 171.8 L497.0 172.0 L497.5 172.3 L498.0 172.5 L498.6 172.8 L499.1 173.0 L499.6 173.2 L500.1 173.5 L500.6 173.7 L501.1 174.0 L501.6 174.2 L502.1 174.4 L502.7 174.7 L503.2 174.9 L503.7 175.2 L504.2 175.4 L504.7 175.6 L505.3 175.9 L505.8 176.1 L506.3 176.4 L506.9 176.6 L507.4 176.8 L507.9 177.1 L508.4 177.3 L509.0 177.5 L509.5 177.8 L510.0 178.0 L510.6 178.2 L511.1 178.5 L511.7 178.7 L512.2 178.9 L512.7 179.2 L513.3 179.4 L513.8 179.6 L514.4 179.9 L514.9 180.1 L515.5 180.3 L516.0 180.5 L516.5 180.8 L517.1 181.0 L517.7 181.2 L518.2 181.4 L518.8 181.6 L519.3 181.9 L519.9 182.1 L520.4 182.3 L521.0 182.5 L521.5 182.7 L522.1 182.9 L522.7 183.1 L523.2 183.3 L523.8 183.5 L524.4 183.7 L524.9 183.9 L525.5 184.1 L526.1 184.3 L526.6 184.5 L527.2 184.7 L527.8 184.9 L528.3 185.1 L528.9 185.3 L529.5 185.4 L530.1 185.6 L530.7 185.8 L531.2 186.0 L531.8 186.1 L532.4 186.3 L533.0 186.5 L533.6 186.6 L534.2 186.8 L534.7 187.0 L535.3 187.1 L535.9 187.3 L536.5 187.4 L537.1 187.6 L537.7 187.7 L538.3 187.9 L538.9 188.0 L539.5 188.1 L540.1 188.3 L540.7 188.4 L541.3 188.5 L541.9 188.6 L542.5 188.7 L543.1 188.8 L543.7 188.9 L544.3 189.0 L544.9 189.1 L545.5 189.1 L546.1 189.2 L546.7 189.2 L547.3 189.3 L547.9 189.3 L548.6 189.4 L549.2 189.4 L549.8 189.4 L550.4 189.4 L551.0 189.4 L551.6 189.4 L552.3 189.4 L552.9 189.4 L553.5 189.3 L554.1 189.3 L554.7 189.2 L555.4 189.2 L556.0 189.1 L556.6 189.0 L557.3 188.9 L557.9 188.8 L558.5 188.7 L559.2 188.6 L559.8 188.5 L560.4 188.4 L561.1 188.2 L561.7 188.1 L562.3 187.9 L563.0 187.8 L563.6 187.6 L564.3 187.5 L564.9 187.3 L565.5 187.1 L566.2 186.9 L566.8 186.8 L567.5 186.6 L568.1 186.4 L568.8 186.2 L569.4 186.0 L570.1 185.8 L570.7 185.7 L571.4 185.5 L572.1 185.3 L572.7 185.1 L573.4 184.9 L574.0 184.7 L574.7 184.6 L575.3 184.4 L576.0 184.2 L576.7 184.1 L577.3 183.9 L578.0 183.7 L578.7 183.6 L579.3 183.4 L580.0 183.3 L580.7 183.1 L581.4 183.0 L582.0 182.8 L582.7 182.7 L583.4 182.6 L584.0 182.4 L584.7 182.3 L585.4 182.2 L586.1 182.1 L586.8 181.9 L587.4 181.8 L588.1 181.7 L588.8 181.6 L589.5 181.5 L590.2 181.4 L590.9 181.3 L591.6 181.2 L592.3 181.1 L592.9 181.0 L593.6 180.9 L594.3 180.8 L595.0 180.7 L595.7 180.6 L596.4 180.5 L597.1 180.4" fill="none" stroke="#0000ff" stroke-width="1.9" stroke-linejoin="round"/>
<line x1="403.6" y1="176.22" x2="598.3" y2="176.22" stroke="#000" stroke-width="2.2" stroke-dasharray="7.2 7.6"/>
</g>
<line x1="452.27" y1="206.7" x2="452.27" y2="201.9" stroke="#222222" stroke-width="2"/>
<line x1="452.27" y1="23.8" x2="452.27" y2="28.6" stroke="#222222" stroke-width="2"/>
<line x1="500.95" y1="206.7" x2="500.95" y2="201.9" stroke="#222222" stroke-width="2"/>
<line x1="500.95" y1="23.8" x2="500.95" y2="28.6" stroke="#222222" stroke-width="2"/>
<line x1="549.62" y1="206.7" x2="549.62" y2="201.9" stroke="#222222" stroke-width="2"/>
<line x1="549.62" y1="23.8" x2="549.62" y2="28.6" stroke="#222222" stroke-width="2"/>
<line x1="403.6" y1="54.28" x2="408.4" y2="54.28" stroke="#222222" stroke-width="2"/>
<line x1="598.3" y1="54.28" x2="593.5" y2="54.28" stroke="#222222" stroke-width="2"/>
<line x1="403.6" y1="176.22" x2="408.4" y2="176.22" stroke="#222222" stroke-width="2"/>
<line x1="598.3" y1="176.22" x2="593.5" y2="176.22" stroke="#222222" stroke-width="2"/>
<rect x="403.6" y="23.8" width="194.7" height="182.9" fill="none" stroke="#222222" stroke-width="2"/>
<text x="396.3" y="59.5" font-size="13.3" text-anchor="end" fill="#3a3532">8</text>
<text x="396.3" y="181.9" font-size="13.3" text-anchor="end" fill="#3a3532">0</text>
<text x="396.3" y="211.7" font-size="13.3" text-anchor="end" fill="#3a3532">−2</text>
<text transform="translate(371.5 115.65) rotate(-90)" font-size="14.2" letter-spacing="-0.25" text-anchor="middle" fill="#3a3532">Im.<tspan dx="3.2" font-style="italic" font-size="12.8">σ</tspan><tspan dx="3.4">(mS)</tspan></text>
<text x="360.8" y="26.1" font-size="20.5" text-anchor="start" fill="#3a3532" font-weight="bold" fill="#111">e</text>
<rect x="512" y="234" width="53.1" height="181.8" fill="#c6c6c6"/>
<g clip-path="url(#c21)">
<path d="M403.6 389.8 L403.6 389.8 L403.6 389.7 L403.6 389.6 L403.6 389.5 L403.6 389.3 L403.7 389.1 L403.7 388.8 L403.7 388.6 L403.7 388.3 L403.8 388.0 L403.8 387.6 L403.8 387.2 L403.9 386.8 L403.9 386.4 L404.0 386.0 L404.0 385.5 L404.0 385.0 L404.1 384.5 L404.1 384.0 L404.2 383.5 L404.2 382.9 L404.3 382.3 L404.4 381.7 L404.4 381.1 L404.5 380.4 L404.5 379.8 L404.6 379.1 L404.7 378.4 L404.8 377.7 L404.8 377.0 L404.9 376.3 L405.0 375.5 L405.1 374.8 L405.1 374.0 L405.2 373.2 L405.3 372.4 L405.4 371.6 L405.5 370.8 L405.6 370.0 L405.7 369.1 L405.8 368.3 L405.8 367.4 L405.9 366.5 L406.0 365.7 L406.1 364.8 L406.2 363.8 L406.4 362.9 L406.5 362.0 L406.6 361.0 L406.7 360.0 L406.8 359.1 L406.9 358.0 L407.0 357.0 L407.1 356.0 L407.3 354.9 L407.4 353.8 L407.5 352.7 L407.6 351.5 L407.7 350.3 L407.9 349.1 L408.0 347.9 L408.1 346.6 L408.3 345.3 L408.4 344.0 L408.5 342.7 L408.7 341.3 L408.8 339.9 L409.0 338.5 L409.1 337.1 L409.2 335.7 L409.4 334.2 L409.5 332.8 L409.7 331.3 L409.8 329.9 L410.0 328.4 L410.1 327.0 L410.3 325.5 L410.5 324.0 L410.6 322.6 L410.8 321.1 L410.9 319.7 L411.1 318.2 L411.3 316.8 L411.4 315.4 L411.6 314.0 L411.8 312.6 L411.9 311.2 L412.1 309.9 L412.3 308.5 L412.5 307.2 L412.6 305.9 L412.8 304.6 L413.0 303.3 L413.2 302.0 L413.4 300.7 L413.6 299.5 L413.7 298.3 L413.9 297.1 L414.1 295.9 L414.3 294.7 L414.5 293.5 L414.7 292.4 L414.9 291.2 L415.1 290.1 L415.3 289.0 L415.5 287.9 L415.7 286.9 L415.9 285.8 L416.1 284.7 L416.3 283.7 L416.5 282.7 L416.7 281.7 L417.0 280.7 L417.2 279.7 L417.4 278.8 L417.6 277.8 L417.8 276.9 L418.0 276.0 L418.3 275.1 L418.5 274.3 L418.7 273.4 L418.9 272.7 L419.2 271.9 L419.4 271.2 L419.6 270.4 L419.8 269.8 L420.1 269.1 L420.3 268.5 L420.6 267.9 L420.8 267.3 L421.0 266.8 L421.3 266.3 L421.5 265.8 L421.8 265.3 L422.0 264.8 L422.2 264.4 L422.5 264.0 L422.7 263.6 L423.0 263.2 L423.2 262.9 L423.5 262.6 L423.7 262.3 L424.0 262.0 L424.3 261.7 L424.5 261.4 L424.8 261.2 L425.0 260.9 L425.3 260.7 L425.6 260.5 L425.8 260.4 L426.1 260.2 L426.4 260.0 L426.6 259.9 L426.9 259.8 L427.2 259.7 L427.5 259.6 L427.7 259.5 L428.0 259.4 L428.3 259.4 L428.6 259.3 L428.9 259.3 L429.1 259.3 L429.4 259.3 L429.7 259.3 L430.0 259.3 L430.3 259.4 L430.6 259.5 L430.9 259.5 L431.2 259.6 L431.5 259.7 L431.8 259.8 L432.0 260.0 L432.3 260.1 L432.6 260.3 L432.9 260.4 L433.3 260.6 L433.6 260.8 L433.9 261.0 L434.2 261.3 L434.5 261.5 L434.8 261.8 L435.1 262.0 L435.4 262.3 L435.7 262.6 L436.0 262.9 L436.4 263.2 L436.7 263.6 L437.0 263.9 L437.3 264.2 L437.6 264.6 L438.0 265.0 L438.3 265.4 L438.6 265.8 L438.9 266.2 L439.3 266.6 L439.6 267.0 L439.9 267.5 L440.3 267.9 L440.6 268.4 L440.9 268.8 L441.3 269.3 L441.6 269.8 L441.9 270.2 L442.3 270.7 L442.6 271.2 L443.0 271.7 L443.3 272.2 L443.7 272.8 L444.0 273.3 L444.3 273.8 L444.7 274.3 L445.0 274.9 L445.4 275.4 L445.8 276.0 L446.1 276.5 L446.5 277.1 L446.8 277.6 L447.2 278.2 L447.5 278.8 L447.9 279.3 L448.3 279.9 L448.6 280.5 L449.0 281.1 L449.4 281.7 L449.7 282.2 L450.1 282.8 L450.5 283.4 L450.9 284.0 L451.2 284.6 L451.6 285.2 L452.0 285.8 L452.4 286.4 L452.7 287.0 L453.1 287.7 L453.5 288.3 L453.9 288.9 L454.3 289.5 L454.6 290.1 L455.0 290.7 L455.4 291.4 L455.8 292.0 L456.2 292.6 L456.6 293.3 L457.0 293.9 L457.4 294.5 L457.8 295.2 L458.2 295.8 L458.6 296.5 L459.0 297.1 L459.4 297.8 L459.8 298.4 L460.2 299.1 L460.6 299.8 L461.0 300.4 L461.4 301.1 L461.8 301.8 L462.2 302.5 L462.6 303.2 L463.0 303.8 L463.5 304.5 L463.9 305.2 L464.3 305.9 L464.7 306.6 L465.1 307.3 L465.5 308.0 L466.0 308.7 L466.4 309.4 L466.8 310.1 L467.2 310.8 L467.7 311.5 L468.1 312.2 L468.5 312.9 L468.9 313.6 L469.4 314.3 L469.8 315.0 L470.2 315.7 L470.7 316.4 L471.1 317.1 L471.6 317.8 L472.0 318.5 L472.4 319.2 L472.9 319.9 L473.3 320.6 L473.8 321.2 L474.2 321.9 L474.7 322.6 L475.1 323.3 L475.5 323.9 L476.0 324.6 L476.5 325.2 L476.9 325.9 L477.4 326.5 L477.8 327.2 L478.3 327.8 L478.7 328.5 L479.2 329.1 L479.6 329.7 L480.1 330.4 L480.6 331.0 L481.0 331.6 L481.5 332.2 L482.0 332.8 L482.4 333.5 L482.9 334.1 L483.4 334.7 L483.8 335.3 L484.3 335.8 L484.8 336.4 L485.3 337.0 L485.7 337.6 L486.2 338.2 L486.7 338.8 L487.2 339.3 L487.7 339.9 L488.1 340.5 L488.6 341.0 L489.1 341.6 L489.6 342.2 L490.1 342.7 L490.6 343.3 L491.1 343.8 L491.6 344.4 L492.0 344.9 L492.5 345.4 L493.0 346.0 L493.5 346.5 L494.0 347.0 L494.5 347.5 L495.0 348.1 L495.5 348.6 L496.0 349.1 L496.5 349.6 L497.0 350.1 L497.5 350.6 L498.0 351.1 L498.6 351.6 L499.1 352.1 L499.6 352.6 L500.1 353.1 L500.6 353.5 L501.1 354.0 L501.6 354.5 L502.1 355.0 L502.7 355.4 L503.2 355.9 L503.7 356.4 L504.2 356.8 L504.7 357.3 L505.3 357.7 L505.8 358.2 L506.3 358.6 L506.9 359.1 L507.4 359.5 L507.9 360.0 L508.4 360.4 L509.0 360.8 L509.5 361.3 L510.0 361.7 L510.6 362.1 L511.1 362.6 L511.7 363.0 L512.2 363.4 L512.7 363.8 L513.3 364.3 L513.8 364.7 L514.4 365.1 L514.9 365.5 L515.5 365.9 L516.0 366.3 L516.5 366.7 L517.1 367.1 L517.7 367.5 L518.2 367.9 L518.8 368.3 L519.3 368.7 L519.9 369.1 L520.4 369.5 L521.0 369.9 L521.5 370.3 L522.1 370.7 L522.7 371.1 L523.2 371.4 L523.8 371.8 L524.4 372.2 L524.9 372.6 L525.5 372.9 L526.1 373.3 L526.6 373.7 L527.2 374.0 L527.8 374.4 L528.3 374.8 L528.9 375.1 L529.5 375.5 L530.1 375.8 L530.7 376.2 L531.2 376.5 L531.8 376.9 L532.4 377.2 L533.0 377.5 L533.6 377.9 L534.2 378.2 L534.7 378.5 L535.3 378.9 L535.9 379.2 L536.5 379.5 L537.1 379.8 L537.7 380.1 L538.3 380.5 L538.9 380.8 L539.5 381.1 L540.1 381.4 L540.7 381.7 L541.3 381.9 L541.9 382.2 L542.5 382.5 L543.1 382.8 L543.7 383.1 L544.3 383.3 L544.9 383.6 L545.5 383.9 L546.1 384.1 L546.7 384.4 L547.3 384.6 L547.9 384.9 L548.6 385.1 L549.2 385.4 L549.8 385.6 L550.4 385.9 L551.0 386.1 L551.6 386.3 L552.3 386.5 L552.9 386.8 L553.5 387.0 L554.1 387.2 L554.7 387.4 L555.4 387.6 L556.0 387.8 L556.6 388.0 L557.3 388.2 L557.9 388.4 L558.5 388.6 L559.2 388.8 L559.8 389.0 L560.4 389.2 L561.1 389.4 L561.7 389.6 L562.3 389.8 L563.0 389.9 L563.6 390.1 L564.3 390.3 L564.9 390.5 L565.5 390.7 L566.2 390.8 L566.8 391.0 L567.5 391.2 L568.1 391.3 L568.8 391.5 L569.4 391.7 L570.1 391.9 L570.7 392.0 L571.4 392.2 L572.1 392.4 L572.7 392.5 L573.4 392.7 L574.0 392.9 L574.7 393.0 L575.3 393.2 L576.0 393.3 L576.7 393.5 L577.3 393.7 L578.0 393.8 L578.7 394.0 L579.3 394.1 L580.0 394.3 L580.7 394.5 L581.4 394.6 L582.0 394.8 L582.7 394.9 L583.4 395.1 L584.0 395.2 L584.7 395.4 L585.4 395.5 L586.1 395.7 L586.8 395.9 L587.4 396.0 L588.1 396.2 L588.8 396.3 L589.5 396.5 L590.2 396.6 L590.9 396.8 L591.6 396.9 L592.3 397.1 L592.9 397.2 L593.6 397.4 L594.3 397.5 L595.0 397.6 L595.7 397.8 L596.4 397.9 L597.1 398.1" fill="none" stroke="#ff0000" stroke-width="1.9" stroke-linejoin="round"/>
<path d="M403.6 389.8 L403.6 389.8 L403.6 389.8 L403.6 389.7 L403.6 389.6 L403.6 389.5 L403.7 389.3 L403.7 389.1 L403.7 389.0 L403.7 388.7 L403.8 388.5 L403.8 388.3 L403.8 388.0 L403.9 387.7 L403.9 387.4 L404.0 387.1 L404.0 386.8 L404.0 386.5 L404.1 386.1 L404.1 385.7 L404.2 385.4 L404.2 385.0 L404.3 384.5 L404.4 384.1 L404.4 383.7 L404.5 383.2 L404.5 382.8 L404.6 382.3 L404.7 381.8 L404.8 381.3 L404.8 380.8 L404.9 380.3 L405.0 379.8 L405.1 379.2 L405.1 378.7 L405.2 378.1 L405.3 377.6 L405.4 377.0 L405.5 376.4 L405.6 375.8 L405.7 375.2 L405.8 374.6 L405.8 374.0 L405.9 373.4 L406.0 372.8 L406.1 372.1 L406.2 371.5 L406.4 370.9 L406.5 370.2 L406.6 369.6 L406.7 368.9 L406.8 368.2 L406.9 367.6 L407.0 366.9 L407.1 366.3 L407.3 365.6 L407.4 364.9 L407.5 364.2 L407.6 363.6 L407.7 362.9 L407.9 362.2 L408.0 361.5 L408.1 360.9 L408.3 360.2 L408.4 359.5 L408.5 358.8 L408.7 358.2 L408.8 357.5 L409.0 356.8 L409.1 356.2 L409.2 355.5 L409.4 354.8 L409.5 354.2 L409.7 353.5 L409.8 352.9 L410.0 352.2 L410.1 351.6 L410.3 350.9 L410.5 350.3 L410.6 349.7 L410.8 349.0 L410.9 348.4 L411.1 347.8 L411.3 347.2 L411.4 346.5 L411.6 345.9 L411.8 345.3 L411.9 344.7 L412.1 344.1 L412.3 343.5 L412.5 343.0 L412.6 342.4 L412.8 341.8 L413.0 341.3 L413.2 340.7 L413.4 340.1 L413.6 339.6 L413.7 339.1 L413.9 338.5 L414.1 338.0 L414.3 337.5 L414.5 337.0 L414.7 336.4 L414.9 335.9 L415.1 335.5 L415.3 335.0 L415.5 334.5 L415.7 334.0 L415.9 333.6 L416.1 333.1 L416.3 332.7 L416.5 332.3 L416.7 331.8 L417.0 331.4 L417.2 331.0 L417.4 330.6 L417.6 330.3 L417.8 329.9 L418.0 329.5 L418.3 329.2 L418.5 328.8 L418.7 328.5 L418.9 328.2 L419.2 327.9 L419.4 327.6 L419.6 327.3 L419.8 327.0 L420.1 326.7 L420.3 326.5 L420.6 326.2 L420.8 326.0 L421.0 325.8 L421.3 325.5 L421.5 325.3 L421.8 325.1 L422.0 324.9 L422.2 324.8 L422.5 324.6 L422.7 324.4 L423.0 324.3 L423.2 324.1 L423.5 324.0 L423.7 323.9 L424.0 323.7 L424.3 323.6 L424.5 323.5 L424.8 323.4 L425.0 323.3 L425.3 323.3 L425.6 323.2 L425.8 323.1 L426.1 323.1 L426.4 323.0 L426.6 323.0 L426.9 322.9 L427.2 322.9 L427.5 322.9 L427.7 322.9 L428.0 322.9 L428.3 322.9 L428.6 322.9 L428.9 322.9 L429.1 322.9 L429.4 322.9 L429.7 323.0 L430.0 323.0 L430.3 323.1 L430.6 323.2 L430.9 323.2 L431.2 323.3 L431.5 323.4 L431.8 323.5 L432.0 323.6 L432.3 323.8 L432.6 323.9 L432.9 324.0 L433.3 324.2 L433.6 324.3 L433.9 324.5 L434.2 324.7 L434.5 324.9 L434.8 325.1 L435.1 325.3 L435.4 325.5 L435.7 325.7 L436.0 325.9 L436.4 326.2 L436.7 326.4 L437.0 326.6 L437.3 326.9 L437.6 327.2 L438.0 327.4 L438.3 327.7 L438.6 328.0 L438.9 328.3 L439.3 328.5 L439.6 328.8 L439.9 329.1 L440.3 329.4 L440.6 329.8 L440.9 330.1 L441.3 330.4 L441.6 330.7 L441.9 331.0 L442.3 331.4 L442.6 331.7 L443.0 332.0 L443.3 332.4 L443.7 332.7 L444.0 333.1 L444.3 333.4 L444.7 333.8 L445.0 334.1 L445.4 334.5 L445.8 334.9 L446.1 335.3 L446.5 335.6 L446.8 336.0 L447.2 336.4 L447.5 336.8 L447.9 337.2 L448.3 337.5 L448.6 337.9 L449.0 338.3 L449.4 338.7 L449.7 339.1 L450.1 339.5 L450.5 339.9 L450.9 340.3 L451.2 340.7 L451.6 341.1 L452.0 341.5 L452.4 342.0 L452.7 342.4 L453.1 342.8 L453.5 343.2 L453.9 343.6 L454.3 344.0 L454.6 344.4 L455.0 344.9 L455.4 345.3 L455.8 345.7 L456.2 346.1 L456.6 346.5 L457.0 346.9 L457.4 347.3 L457.8 347.8 L458.2 348.2 L458.6 348.6 L459.0 349.0 L459.4 349.4 L459.8 349.8 L460.2 350.2 L460.6 350.6 L461.0 351.0 L461.4 351.4 L461.8 351.9 L462.2 352.3 L462.6 352.7 L463.0 353.1 L463.5 353.5 L463.9 353.9 L464.3 354.3 L464.7 354.7 L465.1 355.0 L465.5 355.4 L466.0 355.8 L466.4 356.2 L466.8 356.6 L467.2 357.0 L467.7 357.4 L468.1 357.8 L468.5 358.2 L468.9 358.6 L469.4 359.0 L469.8 359.3 L470.2 359.7 L470.7 360.1 L471.1 360.5 L471.6 360.9 L472.0 361.3 L472.4 361.6 L472.9 362.0 L473.3 362.4 L473.8 362.8 L474.2 363.2 L474.7 363.5 L475.1 363.9 L475.5 364.3 L476.0 364.7 L476.5 365.0 L476.9 365.4 L477.4 365.8 L477.8 366.2 L478.3 366.5 L478.7 366.9 L479.2 367.3 L479.6 367.7 L480.1 368.0 L480.6 368.4 L481.0 368.8 L481.5 369.1 L482.0 369.5 L482.4 369.9 L482.9 370.3 L483.4 370.6 L483.8 371.0 L484.3 371.3 L484.8 371.7 L485.3 372.1 L485.7 372.4 L486.2 372.8 L486.7 373.2 L487.2 373.5 L487.7 373.9 L488.1 374.2 L488.6 374.6 L489.1 374.9 L489.6 375.3 L490.1 375.7 L490.6 376.0 L491.1 376.4 L491.6 376.7 L492.0 377.1 L492.5 377.4 L493.0 377.8 L493.5 378.1 L494.0 378.5 L494.5 378.8 L495.0 379.2 L495.5 379.5 L496.0 379.9 L496.5 380.2 L497.0 380.5 L497.5 380.9 L498.0 381.2 L498.6 381.6 L499.1 381.9 L499.6 382.3 L500.1 382.6 L500.6 383.0 L501.1 383.3 L501.6 383.6 L502.1 384.0 L502.7 384.3 L503.2 384.7 L503.7 385.0 L504.2 385.4 L504.7 385.7 L505.3 386.0 L505.8 386.4 L506.3 386.7 L506.9 387.0 L507.4 387.4 L507.9 387.7 L508.4 388.0 L509.0 388.4 L509.5 388.7 L510.0 389.0 L510.6 389.3 L511.1 389.7 L511.7 390.0 L512.2 390.3 L512.7 390.6 L513.3 390.9 L513.8 391.2 L514.4 391.5 L514.9 391.8 L515.5 392.1 L516.0 392.4 L516.5 392.7 L517.1 393.0 L517.7 393.3 L518.2 393.6 L518.8 393.9 L519.3 394.2 L519.9 394.5 L520.4 394.7 L521.0 395.0 L521.5 395.3 L522.1 395.6 L522.7 395.8 L523.2 396.1 L523.8 396.4 L524.4 396.6 L524.9 396.9 L525.5 397.1 L526.1 397.4 L526.6 397.6 L527.2 397.8 L527.8 398.1 L528.3 398.3 L528.9 398.5 L529.5 398.7 L530.1 398.9 L530.7 399.2 L531.2 399.4 L531.8 399.6 L532.4 399.8 L533.0 400.0 L533.6 400.1 L534.2 400.3 L534.7 400.5 L535.3 400.7 L535.9 400.8 L536.5 401.0 L537.1 401.1 L537.7 401.3 L538.3 401.4 L538.9 401.6 L539.5 401.7 L540.1 401.8 L540.7 402.0 L541.3 402.1 L541.9 402.2 L542.5 402.3 L543.1 402.4 L543.7 402.5 L544.3 402.5 L544.9 402.6 L545.5 402.7 L546.1 402.7 L546.7 402.8 L547.3 402.8 L547.9 402.9 L548.6 402.9 L549.2 403.0 L549.8 403.0 L550.4 403.0 L551.0 403.0 L551.6 403.0 L552.3 403.0 L552.9 403.0 L553.5 403.0 L554.1 403.0 L554.7 403.0 L555.4 402.9 L556.0 402.9 L556.6 402.8 L557.3 402.8 L557.9 402.8 L558.5 402.7 L559.2 402.6 L559.8 402.6 L560.4 402.5 L561.1 402.4 L561.7 402.3 L562.3 402.3 L563.0 402.2 L563.6 402.1 L564.3 402.0 L564.9 401.9 L565.5 401.8 L566.2 401.7 L566.8 401.6 L567.5 401.5 L568.1 401.4 L568.8 401.3 L569.4 401.1 L570.1 401.0 L570.7 400.9 L571.4 400.8 L572.1 400.7 L572.7 400.5 L573.4 400.4 L574.0 400.3 L574.7 400.1 L575.3 400.0 L576.0 399.9 L576.7 399.7 L577.3 399.6 L578.0 399.5 L578.7 399.4 L579.3 399.2 L580.0 399.1 L580.7 399.0 L581.4 398.8 L582.0 398.7 L582.7 398.6 L583.4 398.4 L584.0 398.3 L584.7 398.2 L585.4 398.0 L586.1 397.9 L586.8 397.8 L587.4 397.6 L588.1 397.5 L588.8 397.4 L589.5 397.3 L590.2 397.1 L590.9 397.0 L591.6 396.9 L592.3 396.8 L592.9 396.6 L593.6 396.5 L594.3 396.4 L595.0 396.3 L595.7 396.2 L596.4 396.0 L597.1 395.9" fill="none" stroke="#0000ff" stroke-width="1.9" stroke-linejoin="round"/>
<line x1="403.6" y1="389.83" x2="598.3" y2="389.83" stroke="#000" stroke-width="2.2" stroke-dasharray="7.2 7.6"/>
</g>
<line x1="452.27" y1="415.8" x2="452.27" y2="411" stroke="#222222" stroke-width="2"/>
<line x1="452.27" y1="234" x2="452.27" y2="238.8" stroke="#222222" stroke-width="2"/>
<line x1="500.95" y1="415.8" x2="500.95" y2="411" stroke="#222222" stroke-width="2"/>
<line x1="500.95" y1="234" x2="500.95" y2="238.8" stroke="#222222" stroke-width="2"/>
<line x1="549.62" y1="415.8" x2="549.62" y2="411" stroke="#222222" stroke-width="2"/>
<line x1="549.62" y1="234" x2="549.62" y2="238.8" stroke="#222222" stroke-width="2"/>
<line x1="403.6" y1="259.97" x2="408.4" y2="259.97" stroke="#222222" stroke-width="2"/>
<line x1="598.3" y1="259.97" x2="593.5" y2="259.97" stroke="#222222" stroke-width="2"/>
<line x1="403.6" y1="389.83" x2="408.4" y2="389.83" stroke="#222222" stroke-width="2"/>
<line x1="598.3" y1="389.83" x2="593.5" y2="389.83" stroke="#222222" stroke-width="2"/>
<rect x="403.6" y="234" width="194.7" height="181.8" fill="none" stroke="#222222" stroke-width="2"/>
<text x="396.3" y="265.2" font-size="13.3" text-anchor="end" fill="#3a3532">5</text>
<text x="396.3" y="394.2" font-size="13.3" text-anchor="end" fill="#3a3532">0</text>
<text x="396.3" y="420.8" font-size="13.3" text-anchor="end" fill="#3a3532">−1</text>
<text transform="translate(371.5 325.3) rotate(-90)" font-size="14.2" letter-spacing="-0.25" text-anchor="middle" fill="#3a3532">Im.<tspan dx="3.2" font-style="italic" font-size="12.8">σ</tspan><tspan dx="3.4">(mS)</tspan></text>
<text x="360.8" y="236.1" font-size="20.5" text-anchor="start" fill="#3a3532" font-weight="bold" fill="#111">f</text>
<rect x="525.9" y="443.1" width="56" height="182.8" fill="#c6c6c6"/>
<g clip-path="url(#c22)">
<path d="M403.6 599.8 L403.6 599.7 L403.6 599.7 L403.6 599.6 L403.6 599.4 L403.6 599.2 L403.7 599.0 L403.7 598.8 L403.7 598.5 L403.7 598.2 L403.8 597.9 L403.8 597.6 L403.8 597.2 L403.9 596.8 L403.9 596.4 L404.0 596.0 L404.0 595.5 L404.0 595.0 L404.1 594.5 L404.1 594.0 L404.2 593.5 L404.2 592.9 L404.3 592.3 L404.4 591.7 L404.4 591.1 L404.5 590.5 L404.5 589.9 L404.6 589.2 L404.7 588.5 L404.8 587.8 L404.8 587.1 L404.9 586.4 L405.0 585.6 L405.1 584.9 L405.1 584.1 L405.2 583.4 L405.3 582.6 L405.4 581.8 L405.5 581.0 L405.6 580.2 L405.7 579.3 L405.8 578.5 L405.8 577.6 L405.9 576.8 L406.0 575.9 L406.1 575.0 L406.2 574.1 L406.4 573.2 L406.5 572.2 L406.6 571.3 L406.7 570.3 L406.8 569.3 L406.9 568.2 L407.0 567.1 L407.1 566.0 L407.3 564.9 L407.4 563.7 L407.5 562.5 L407.6 561.3 L407.7 560.0 L407.9 558.6 L408.0 557.2 L408.1 555.8 L408.3 554.3 L408.4 552.8 L408.5 551.3 L408.7 549.7 L408.8 548.1 L409.0 546.5 L409.1 544.8 L409.2 543.2 L409.4 541.5 L409.5 539.8 L409.7 538.1 L409.8 536.4 L410.0 534.7 L410.1 533.1 L410.3 531.4 L410.5 529.7 L410.6 528.1 L410.8 526.5 L410.9 524.9 L411.1 523.3 L411.3 521.8 L411.4 520.2 L411.6 518.7 L411.8 517.2 L411.9 515.7 L412.1 514.2 L412.3 512.8 L412.5 511.4 L412.6 510.0 L412.8 508.6 L413.0 507.2 L413.2 505.8 L413.4 504.5 L413.6 503.2 L413.7 501.8 L413.9 500.5 L414.1 499.2 L414.3 498.0 L414.5 496.7 L414.7 495.5 L414.9 494.2 L415.1 493.0 L415.3 491.8 L415.5 490.6 L415.7 489.4 L415.9 488.2 L416.1 487.0 L416.3 485.8 L416.5 484.7 L416.7 483.5 L417.0 482.4 L417.2 481.3 L417.4 480.2 L417.6 479.1 L417.8 478.0 L418.0 476.9 L418.3 475.9 L418.5 474.9 L418.7 473.9 L418.9 472.9 L419.2 472.0 L419.4 471.0 L419.6 470.2 L419.8 469.3 L420.1 468.5 L420.3 467.7 L420.6 467.0 L420.8 466.3 L421.0 465.6 L421.3 464.9 L421.5 464.3 L421.8 463.7 L422.0 463.2 L422.2 462.6 L422.5 462.1 L422.7 461.6 L423.0 461.1 L423.2 460.7 L423.5 460.3 L423.7 459.8 L424.0 459.5 L424.3 459.1 L424.5 458.8 L424.8 458.5 L425.0 458.2 L425.3 457.9 L425.6 457.6 L425.8 457.4 L426.1 457.2 L426.4 457.0 L426.6 456.8 L426.9 456.6 L427.2 456.4 L427.5 456.3 L427.7 456.2 L428.0 456.1 L428.3 456.0 L428.6 455.9 L428.9 455.9 L429.1 455.9 L429.4 455.9 L429.7 455.9 L430.0 455.9 L430.3 455.9 L430.6 455.9 L430.9 456.0 L431.2 456.1 L431.5 456.2 L431.8 456.3 L432.0 456.4 L432.3 456.6 L432.6 456.7 L432.9 456.9 L433.3 457.1 L433.6 457.3 L433.9 457.5 L434.2 457.8 L434.5 458.0 L434.8 458.3 L435.1 458.6 L435.4 458.9 L435.7 459.2 L436.0 459.6 L436.4 459.9 L436.7 460.3 L437.0 460.6 L437.3 461.0 L437.6 461.4 L438.0 461.8 L438.3 462.3 L438.6 462.7 L438.9 463.2 L439.3 463.6 L439.6 464.1 L439.9 464.6 L440.3 465.1 L440.6 465.6 L440.9 466.1 L441.3 466.6 L441.6 467.2 L441.9 467.7 L442.3 468.3 L442.6 468.8 L443.0 469.4 L443.3 470.0 L443.7 470.6 L444.0 471.1 L444.3 471.7 L444.7 472.3 L445.0 472.9 L445.4 473.6 L445.8 474.2 L446.1 474.8 L446.5 475.4 L446.8 476.1 L447.2 476.7 L447.5 477.3 L447.9 478.0 L448.3 478.6 L448.6 479.3 L449.0 479.9 L449.4 480.6 L449.7 481.3 L450.1 481.9 L450.5 482.6 L450.9 483.3 L451.2 483.9 L451.6 484.6 L452.0 485.3 L452.4 486.0 L452.7 486.7 L453.1 487.3 L453.5 488.0 L453.9 488.7 L454.3 489.4 L454.6 490.1 L455.0 490.8 L455.4 491.4 L455.8 492.1 L456.2 492.8 L456.6 493.5 L457.0 494.2 L457.4 494.9 L457.8 495.6 L458.2 496.2 L458.6 496.9 L459.0 497.6 L459.4 498.3 L459.8 499.0 L460.2 499.7 L460.6 500.4 L461.0 501.1 L461.4 501.8 L461.8 502.5 L462.2 503.2 L462.6 503.8 L463.0 504.5 L463.5 505.2 L463.9 505.9 L464.3 506.6 L464.7 507.3 L465.1 508.0 L465.5 508.7 L466.0 509.4 L466.4 510.1 L466.8 510.8 L467.2 511.5 L467.7 512.2 L468.1 512.9 L468.5 513.6 L468.9 514.3 L469.4 515.0 L469.8 515.7 L470.2 516.4 L470.7 517.1 L471.1 517.8 L471.6 518.5 L472.0 519.2 L472.4 519.8 L472.9 520.5 L473.3 521.2 L473.8 521.9 L474.2 522.6 L474.7 523.3 L475.1 524.0 L475.5 524.7 L476.0 525.4 L476.5 526.1 L476.9 526.7 L477.4 527.4 L477.8 528.1 L478.3 528.8 L478.7 529.4 L479.2 530.1 L479.6 530.8 L480.1 531.4 L480.6 532.1 L481.0 532.8 L481.5 533.4 L482.0 534.1 L482.4 534.7 L482.9 535.4 L483.4 536.0 L483.8 536.6 L484.3 537.3 L484.8 537.9 L485.3 538.5 L485.7 539.2 L486.2 539.8 L486.7 540.4 L487.2 541.0 L487.7 541.6 L488.1 542.2 L488.6 542.8 L489.1 543.4 L489.6 544.0 L490.1 544.6 L490.6 545.2 L491.1 545.8 L491.6 546.3 L492.0 546.9 L492.5 547.5 L493.0 548.0 L493.5 548.6 L494.0 549.2 L494.5 549.7 L495.0 550.3 L495.5 550.8 L496.0 551.3 L496.5 551.9 L497.0 552.4 L497.5 552.9 L498.0 553.4 L498.6 554.0 L499.1 554.5 L499.6 555.0 L500.1 555.5 L500.6 556.0 L501.1 556.5 L501.6 557.0 L502.1 557.5 L502.7 558.0 L503.2 558.4 L503.7 558.9 L504.2 559.4 L504.7 559.9 L505.3 560.3 L505.8 560.8 L506.3 561.3 L506.9 561.7 L507.4 562.2 L507.9 562.6 L508.4 563.1 L509.0 563.5 L509.5 564.0 L510.0 564.4 L510.6 564.8 L511.1 565.3 L511.7 565.7 L512.2 566.1 L512.7 566.6 L513.3 567.0 L513.8 567.4 L514.4 567.8 L514.9 568.3 L515.5 568.7 L516.0 569.1 L516.5 569.5 L517.1 569.9 L517.7 570.3 L518.2 570.8 L518.8 571.2 L519.3 571.6 L519.9 572.0 L520.4 572.4 L521.0 572.8 L521.5 573.2 L522.1 573.6 L522.7 574.0 L523.2 574.4 L523.8 574.8 L524.4 575.2 L524.9 575.6 L525.5 576.0 L526.1 576.3 L526.6 576.7 L527.2 577.1 L527.8 577.5 L528.3 577.9 L528.9 578.3 L529.5 578.7 L530.1 579.0 L530.7 579.4 L531.2 579.8 L531.8 580.2 L532.4 580.5 L533.0 580.9 L533.6 581.2 L534.2 581.6 L534.7 582.0 L535.3 582.3 L535.9 582.7 L536.5 583.0 L537.1 583.3 L537.7 583.7 L538.3 584.0 L538.9 584.4 L539.5 584.7 L540.1 585.0 L540.7 585.3 L541.3 585.6 L541.9 586.0 L542.5 586.3 L543.1 586.6 L543.7 586.9 L544.3 587.2 L544.9 587.5 L545.5 587.8 L546.1 588.1 L546.7 588.4 L547.3 588.6 L547.9 588.9 L548.6 589.2 L549.2 589.5 L549.8 589.7 L550.4 590.0 L551.0 590.3 L551.6 590.5 L552.3 590.8 L552.9 591.1 L553.5 591.3 L554.1 591.6 L554.7 591.8 L555.4 592.1 L556.0 592.3 L556.6 592.5 L557.3 592.8 L557.9 593.0 L558.5 593.3 L559.2 593.5 L559.8 593.7 L560.4 593.9 L561.1 594.2 L561.7 594.4 L562.3 594.6 L563.0 594.8 L563.6 595.0 L564.3 595.2 L564.9 595.5 L565.5 595.7 L566.2 595.9 L566.8 596.1 L567.5 596.3 L568.1 596.5 L568.8 596.7 L569.4 596.9 L570.1 597.1 L570.7 597.3 L571.4 597.5 L572.1 597.7 L572.7 597.8 L573.4 598.0 L574.0 598.2 L574.7 598.4 L575.3 598.6 L576.0 598.8 L576.7 598.9 L577.3 599.1 L578.0 599.3 L578.7 599.5 L579.3 599.7 L580.0 599.8 L580.7 600.0 L581.4 600.2 L582.0 600.4 L582.7 600.5 L583.4 600.7 L584.0 600.9 L584.7 601.0 L585.4 601.2 L586.1 601.4 L586.8 601.5 L587.4 601.7 L588.1 601.9 L588.8 602.0 L589.5 602.2 L590.2 602.4 L590.9 602.5 L591.6 602.7 L592.3 602.9 L592.9 603.0 L593.6 603.2 L594.3 603.4 L595.0 603.5 L595.7 603.7 L596.4 603.8 L597.1 604.0" fill="none" stroke="#ff0000" stroke-width="1.9" stroke-linejoin="round"/>
<path d="M403.6 599.8 L403.6 599.8 L403.6 599.7 L403.6 599.6 L403.6 599.5 L403.6 599.4 L403.7 599.2 L403.7 599.0 L403.7 598.8 L403.7 598.6 L403.8 598.3 L403.8 598.0 L403.8 597.7 L403.9 597.4 L403.9 597.1 L404.0 596.7 L404.0 596.4 L404.0 596.0 L404.1 595.6 L404.1 595.1 L404.2 594.7 L404.2 594.3 L404.3 593.8 L404.4 593.3 L404.4 592.8 L404.5 592.3 L404.5 591.8 L404.6 591.2 L404.7 590.7 L404.8 590.1 L404.8 589.6 L404.9 589.0 L405.0 588.4 L405.1 587.8 L405.1 587.1 L405.2 586.5 L405.3 585.9 L405.4 585.2 L405.5 584.6 L405.6 583.9 L405.7 583.2 L405.8 582.5 L405.8 581.8 L405.9 581.1 L406.0 580.4 L406.1 579.7 L406.2 579.0 L406.4 578.3 L406.5 577.5 L406.6 576.8 L406.7 576.1 L406.8 575.3 L406.9 574.6 L407.0 573.8 L407.1 573.0 L407.3 572.3 L407.4 571.5 L407.5 570.7 L407.6 570.0 L407.7 569.2 L407.9 568.4 L408.0 567.7 L408.1 566.9 L408.3 566.1 L408.4 565.3 L408.5 564.6 L408.7 563.8 L408.8 563.0 L409.0 562.3 L409.1 561.5 L409.2 560.8 L409.4 560.0 L409.5 559.3 L409.7 558.5 L409.8 557.8 L410.0 557.0 L410.1 556.3 L410.3 555.6 L410.5 554.9 L410.6 554.2 L410.8 553.5 L410.9 552.8 L411.1 552.1 L411.3 551.4 L411.4 550.7 L411.6 550.0 L411.8 549.4 L411.9 548.7 L412.1 548.1 L412.3 547.5 L412.5 546.8 L412.6 546.2 L412.8 545.6 L413.0 545.0 L413.2 544.4 L413.4 543.9 L413.6 543.3 L413.7 542.7 L413.9 542.2 L414.1 541.6 L414.3 541.1 L414.5 540.6 L414.7 540.1 L414.9 539.5 L415.1 539.0 L415.3 538.6 L415.5 538.1 L415.7 537.6 L415.9 537.2 L416.1 536.7 L416.3 536.3 L416.5 535.9 L416.7 535.4 L417.0 535.0 L417.2 534.6 L417.4 534.2 L417.6 533.9 L417.8 533.5 L418.0 533.1 L418.3 532.8 L418.5 532.5 L418.7 532.1 L418.9 531.8 L419.2 531.5 L419.4 531.2 L419.6 530.9 L419.8 530.7 L420.1 530.4 L420.3 530.1 L420.6 529.9 L420.8 529.7 L421.0 529.5 L421.3 529.2 L421.5 529.0 L421.8 528.8 L422.0 528.7 L422.2 528.5 L422.5 528.3 L422.7 528.2 L423.0 528.0 L423.2 527.9 L423.5 527.8 L423.7 527.6 L424.0 527.5 L424.3 527.4 L424.5 527.3 L424.8 527.2 L425.0 527.1 L425.3 527.1 L425.6 527.0 L425.8 526.9 L426.1 526.9 L426.4 526.8 L426.6 526.8 L426.9 526.7 L427.2 526.7 L427.5 526.7 L427.7 526.6 L428.0 526.6 L428.3 526.6 L428.6 526.6 L428.9 526.6 L429.1 526.7 L429.4 526.7 L429.7 526.7 L430.0 526.8 L430.3 526.8 L430.6 526.9 L430.9 527.0 L431.2 527.0 L431.5 527.1 L431.8 527.2 L432.0 527.3 L432.3 527.5 L432.6 527.6 L432.9 527.7 L433.3 527.8 L433.6 528.0 L433.9 528.1 L434.2 528.3 L434.5 528.5 L434.8 528.7 L435.1 528.8 L435.4 529.0 L435.7 529.2 L436.0 529.4 L436.4 529.7 L436.7 529.9 L437.0 530.1 L437.3 530.3 L437.6 530.6 L438.0 530.8 L438.3 531.1 L438.6 531.4 L438.9 531.6 L439.3 531.9 L439.6 532.2 L439.9 532.5 L440.3 532.7 L440.6 533.0 L440.9 533.3 L441.3 533.7 L441.6 534.0 L441.9 534.3 L442.3 534.6 L442.6 534.9 L443.0 535.3 L443.3 535.6 L443.7 535.9 L444.0 536.3 L444.3 536.6 L444.7 537.0 L445.0 537.3 L445.4 537.7 L445.8 538.1 L446.1 538.4 L446.5 538.8 L446.8 539.2 L447.2 539.5 L447.5 539.9 L447.9 540.3 L448.3 540.7 L448.6 541.1 L449.0 541.5 L449.4 541.9 L449.7 542.3 L450.1 542.7 L450.5 543.1 L450.9 543.5 L451.2 543.9 L451.6 544.3 L452.0 544.7 L452.4 545.1 L452.7 545.5 L453.1 546.0 L453.5 546.4 L453.9 546.8 L454.3 547.2 L454.6 547.6 L455.0 548.1 L455.4 548.5 L455.8 548.9 L456.2 549.3 L456.6 549.8 L457.0 550.2 L457.4 550.6 L457.8 551.1 L458.2 551.5 L458.6 551.9 L459.0 552.4 L459.4 552.8 L459.8 553.2 L460.2 553.7 L460.6 554.1 L461.0 554.5 L461.4 555.0 L461.8 555.4 L462.2 555.8 L462.6 556.3 L463.0 556.7 L463.5 557.1 L463.9 557.5 L464.3 558.0 L464.7 558.4 L465.1 558.8 L465.5 559.2 L466.0 559.7 L466.4 560.1 L466.8 560.5 L467.2 560.9 L467.7 561.3 L468.1 561.7 L468.5 562.1 L468.9 562.5 L469.4 562.9 L469.8 563.3 L470.2 563.7 L470.7 564.1 L471.1 564.5 L471.6 564.9 L472.0 565.3 L472.4 565.7 L472.9 566.1 L473.3 566.5 L473.8 566.9 L474.2 567.3 L474.7 567.6 L475.1 568.0 L475.5 568.4 L476.0 568.8 L476.5 569.1 L476.9 569.5 L477.4 569.9 L477.8 570.3 L478.3 570.6 L478.7 571.0 L479.2 571.4 L479.6 571.8 L480.1 572.1 L480.6 572.5 L481.0 572.9 L481.5 573.2 L482.0 573.6 L482.4 574.0 L482.9 574.3 L483.4 574.7 L483.8 575.1 L484.3 575.4 L484.8 575.8 L485.3 576.1 L485.7 576.5 L486.2 576.9 L486.7 577.2 L487.2 577.6 L487.7 577.9 L488.1 578.3 L488.6 578.7 L489.1 579.0 L489.6 579.4 L490.1 579.7 L490.6 580.1 L491.1 580.5 L491.6 580.8 L492.0 581.2 L492.5 581.5 L493.0 581.9 L493.5 582.3 L494.0 582.6 L494.5 583.0 L495.0 583.3 L495.5 583.7 L496.0 584.0 L496.5 584.4 L497.0 584.7 L497.5 585.1 L498.0 585.4 L498.6 585.8 L499.1 586.1 L499.6 586.5 L500.1 586.8 L500.6 587.1 L501.1 587.5 L501.6 587.8 L502.1 588.1 L502.7 588.5 L503.2 588.8 L503.7 589.1 L504.2 589.5 L504.7 589.8 L505.3 590.1 L505.8 590.4 L506.3 590.8 L506.9 591.1 L507.4 591.4 L507.9 591.7 L508.4 592.0 L509.0 592.3 L509.5 592.6 L510.0 592.9 L510.6 593.2 L511.1 593.5 L511.7 593.8 L512.2 594.1 L512.7 594.4 L513.3 594.7 L513.8 595.0 L514.4 595.3 L514.9 595.6 L515.5 595.8 L516.0 596.1 L516.5 596.4 L517.1 596.7 L517.7 597.0 L518.2 597.2 L518.8 597.5 L519.3 597.8 L519.9 598.0 L520.4 598.3 L521.0 598.5 L521.5 598.8 L522.1 599.1 L522.7 599.3 L523.2 599.6 L523.8 599.8 L524.4 600.1 L524.9 600.3 L525.5 600.5 L526.1 600.8 L526.6 601.0 L527.2 601.2 L527.8 601.5 L528.3 601.7 L528.9 601.9 L529.5 602.1 L530.1 602.3 L530.7 602.6 L531.2 602.8 L531.8 603.0 L532.4 603.2 L533.0 603.4 L533.6 603.5 L534.2 603.7 L534.7 603.9 L535.3 604.1 L535.9 604.3 L536.5 604.4 L537.1 604.6 L537.7 604.7 L538.3 604.9 L538.9 605.0 L539.5 605.2 L540.1 605.3 L540.7 605.4 L541.3 605.5 L541.9 605.6 L542.5 605.7 L543.1 605.8 L543.7 605.9 L544.3 606.0 L544.9 606.0 L545.5 606.1 L546.1 606.2 L546.7 606.2 L547.3 606.2 L547.9 606.3 L548.6 606.3 L549.2 606.3 L549.8 606.3 L550.4 606.3 L551.0 606.3 L551.6 606.3 L552.3 606.3 L552.9 606.2 L553.5 606.2 L554.1 606.1 L554.7 606.1 L555.4 606.0 L556.0 605.9 L556.6 605.8 L557.3 605.8 L557.9 605.7 L558.5 605.6 L559.2 605.5 L559.8 605.4 L560.4 605.2 L561.1 605.1 L561.7 605.0 L562.3 604.9 L563.0 604.7 L563.6 604.6 L564.3 604.5 L564.9 604.3 L565.5 604.2 L566.2 604.1 L566.8 603.9 L567.5 603.8 L568.1 603.6 L568.8 603.5 L569.4 603.4 L570.1 603.2 L570.7 603.1 L571.4 603.0 L572.1 602.8 L572.7 602.7 L573.4 602.6 L574.0 602.5 L574.7 602.4 L575.3 602.3 L576.0 602.1 L576.7 602.0 L577.3 601.9 L578.0 601.9 L578.7 601.8 L579.3 601.7 L580.0 601.6 L580.7 601.5 L581.4 601.5 L582.0 601.4 L582.7 601.3 L583.4 601.3 L584.0 601.2 L584.7 601.2 L585.4 601.1 L586.1 601.1 L586.8 601.0 L587.4 601.0 L588.1 601.0 L588.8 600.9 L589.5 600.9 L590.2 600.9 L590.9 600.9 L591.6 600.9 L592.3 600.8 L592.9 600.8 L593.6 600.8 L594.3 600.8 L595.0 600.8 L595.7 600.8 L596.4 600.8 L597.1 600.7" fill="none" stroke="#0000ff" stroke-width="1.9" stroke-linejoin="round"/>
<line x1="403.6" y1="599.79" x2="598.3" y2="599.79" stroke="#000" stroke-width="2.2" stroke-dasharray="7.2 7.6"/>
</g>
<line x1="452.27" y1="625.9" x2="452.27" y2="621.1" stroke="#222222" stroke-width="2"/>
<line x1="452.27" y1="443.1" x2="452.27" y2="447.9" stroke="#222222" stroke-width="2"/>
<line x1="500.95" y1="625.9" x2="500.95" y2="621.1" stroke="#222222" stroke-width="2"/>
<line x1="500.95" y1="443.1" x2="500.95" y2="447.9" stroke="#222222" stroke-width="2"/>
<line x1="549.62" y1="625.9" x2="549.62" y2="621.1" stroke="#222222" stroke-width="2"/>
<line x1="549.62" y1="443.1" x2="549.62" y2="447.9" stroke="#222222" stroke-width="2"/>
<line x1="403.6" y1="469.21" x2="408.4" y2="469.21" stroke="#222222" stroke-width="2"/>
<line x1="598.3" y1="469.21" x2="593.5" y2="469.21" stroke="#222222" stroke-width="2"/>
<line x1="403.6" y1="599.79" x2="408.4" y2="599.79" stroke="#222222" stroke-width="2"/>
<line x1="598.3" y1="599.79" x2="593.5" y2="599.79" stroke="#222222" stroke-width="2"/>
<rect x="403.6" y="443.1" width="194.7" height="182.8" fill="none" stroke="#222222" stroke-width="2"/>
<text x="396.3" y="473.8" font-size="13.3" text-anchor="end" fill="#3a3532">5</text>
<text x="396.3" y="605.8" font-size="13.3" text-anchor="end" fill="#3a3532">0</text>
<text x="396.3" y="630.6" font-size="13.3" text-anchor="end" fill="#3a3532">−1</text>
<text transform="translate(371.5 534.9) rotate(-90)" font-size="14.2" letter-spacing="-0.25" text-anchor="middle" fill="#3a3532">Im.<tspan dx="3.2" font-style="italic" font-size="12.8">σ</tspan><tspan dx="3.4">(mS)</tspan></text>
<text x="360.8" y="446.1" font-size="20.5" text-anchor="start" fill="#3a3532" font-weight="bold" fill="#111">g</text>
<g clip-path="url(#c23)">
<path d="M403.6 800.5 L403.6 800.4 L403.6 800.4 L403.6 800.3 L403.6 800.2 L403.6 800.1 L403.7 800.0 L403.7 799.8 L403.7 799.6 L403.7 799.4 L403.8 799.2 L403.8 799.0 L403.8 798.7 L403.9 798.5 L403.9 798.2 L404.0 797.9 L404.0 797.6 L404.0 797.3 L404.1 796.9 L404.1 796.6 L404.2 796.2 L404.2 795.8 L404.3 795.4 L404.4 795.0 L404.4 794.6 L404.5 794.2 L404.5 793.7 L404.6 793.3 L404.7 792.8 L404.8 792.4 L404.8 791.9 L404.9 791.4 L405.0 790.9 L405.1 790.4 L405.1 789.8 L405.2 789.3 L405.3 788.7 L405.4 788.2 L405.5 787.6 L405.6 787.1 L405.7 786.5 L405.8 785.9 L405.8 785.3 L405.9 784.7 L406.0 784.1 L406.1 783.4 L406.2 782.8 L406.4 782.1 L406.5 781.5 L406.6 780.8 L406.7 780.2 L406.8 779.5 L406.9 778.8 L407.0 778.1 L407.1 777.4 L407.3 776.7 L407.4 776.0 L407.5 775.3 L407.6 774.6 L407.7 773.9 L407.9 773.1 L408.0 772.4 L408.1 771.7 L408.3 770.9 L408.4 770.2 L408.5 769.4 L408.7 768.6 L408.8 767.9 L409.0 767.1 L409.1 766.3 L409.2 765.5 L409.4 764.8 L409.5 764.0 L409.7 763.2 L409.8 762.3 L410.0 761.5 L410.1 760.6 L410.3 759.8 L410.5 758.9 L410.6 757.9 L410.8 757.0 L410.9 756.0 L411.1 755.0 L411.3 754.0 L411.4 752.9 L411.6 751.9 L411.8 750.8 L411.9 749.8 L412.1 748.7 L412.3 747.7 L412.5 746.6 L412.6 745.5 L412.8 744.5 L413.0 743.4 L413.2 742.4 L413.4 741.4 L413.6 740.4 L413.7 739.4 L413.9 738.4 L414.1 737.4 L414.3 736.4 L414.5 735.5 L414.7 734.5 L414.9 733.5 L415.1 732.6 L415.3 731.6 L415.5 730.7 L415.7 729.8 L415.9 728.8 L416.1 727.9 L416.3 727.0 L416.5 726.1 L416.7 725.2 L417.0 724.3 L417.2 723.4 L417.4 722.5 L417.6 721.6 L417.8 720.7 L418.0 719.8 L418.3 718.9 L418.5 718.1 L418.7 717.2 L418.9 716.4 L419.2 715.5 L419.4 714.7 L419.6 713.9 L419.8 713.0 L420.1 712.2 L420.3 711.5 L420.6 710.7 L420.8 709.9 L421.0 709.1 L421.3 708.4 L421.5 707.7 L421.8 706.9 L422.0 706.2 L422.2 705.5 L422.5 704.8 L422.7 704.2 L423.0 703.5 L423.2 702.8 L423.5 702.2 L423.7 701.6 L424.0 701.0 L424.3 700.4 L424.5 699.8 L424.8 699.2 L425.0 698.7 L425.3 698.1 L425.6 697.6 L425.8 697.1 L426.1 696.6 L426.4 696.1 L426.6 695.7 L426.9 695.2 L427.2 694.8 L427.5 694.3 L427.7 693.9 L428.0 693.5 L428.3 693.1 L428.6 692.7 L428.9 692.4 L429.1 692.0 L429.4 691.7 L429.7 691.4 L430.0 691.1 L430.3 690.8 L430.6 690.5 L430.9 690.2 L431.2 690.0 L431.5 689.7 L431.8 689.5 L432.0 689.2 L432.3 689.0 L432.6 688.8 L432.9 688.6 L433.3 688.5 L433.6 688.3 L433.9 688.1 L434.2 688.0 L434.5 687.8 L434.8 687.7 L435.1 687.6 L435.4 687.5 L435.7 687.4 L436.0 687.3 L436.4 687.2 L436.7 687.2 L437.0 687.1 L437.3 687.1 L437.6 687.0 L438.0 687.0 L438.3 687.0 L438.6 687.0 L438.9 687.0 L439.3 687.0 L439.6 687.1 L439.9 687.1 L440.3 687.2 L440.6 687.2 L440.9 687.3 L441.3 687.4 L441.6 687.5 L441.9 687.6 L442.3 687.7 L442.6 687.8 L443.0 688.0 L443.3 688.1 L443.7 688.3 L444.0 688.4 L444.3 688.6 L444.7 688.8 L445.0 689.0 L445.4 689.2 L445.8 689.5 L446.1 689.7 L446.5 690.0 L446.8 690.2 L447.2 690.5 L447.5 690.8 L447.9 691.1 L448.3 691.4 L448.6 691.7 L449.0 692.0 L449.4 692.3 L449.7 692.6 L450.1 693.0 L450.5 693.3 L450.9 693.7 L451.2 694.1 L451.6 694.4 L452.0 694.8 L452.4 695.2 L452.7 695.6 L453.1 696.0 L453.5 696.4 L453.9 696.8 L454.3 697.3 L454.6 697.7 L455.0 698.1 L455.4 698.5 L455.8 699.0 L456.2 699.4 L456.6 699.9 L457.0 700.3 L457.4 700.8 L457.8 701.3 L458.2 701.7 L458.6 702.2 L459.0 702.7 L459.4 703.1 L459.8 703.6 L460.2 704.1 L460.6 704.6 L461.0 705.1 L461.4 705.6 L461.8 706.1 L462.2 706.5 L462.6 707.0 L463.0 707.5 L463.5 708.0 L463.9 708.5 L464.3 709.0 L464.7 709.5 L465.1 710.0 L465.5 710.5 L466.0 711.0 L466.4 711.5 L466.8 712.0 L467.2 712.5 L467.7 713.0 L468.1 713.5 L468.5 714.0 L468.9 714.5 L469.4 715.1 L469.8 715.6 L470.2 716.1 L470.7 716.6 L471.1 717.1 L471.6 717.6 L472.0 718.1 L472.4 718.6 L472.9 719.1 L473.3 719.6 L473.8 720.1 L474.2 720.6 L474.7 721.1 L475.1 721.6 L475.5 722.1 L476.0 722.7 L476.5 723.2 L476.9 723.7 L477.4 724.2 L477.8 724.7 L478.3 725.3 L478.7 725.8 L479.2 726.3 L479.6 726.9 L480.1 727.4 L480.6 727.9 L481.0 728.5 L481.5 729.0 L482.0 729.6 L482.4 730.1 L482.9 730.7 L483.4 731.2 L483.8 731.8 L484.3 732.3 L484.8 732.8 L485.3 733.4 L485.7 733.9 L486.2 734.5 L486.7 735.0 L487.2 735.6 L487.7 736.1 L488.1 736.7 L488.6 737.2 L489.1 737.7 L489.6 738.3 L490.1 738.8 L490.6 739.4 L491.1 739.9 L491.6 740.4 L492.0 740.9 L492.5 741.5 L493.0 742.0 L493.5 742.5 L494.0 743.0 L494.5 743.6 L495.0 744.1 L495.5 744.6 L496.0 745.1 L496.5 745.6 L497.0 746.1 L497.5 746.6 L498.0 747.1 L498.6 747.6 L499.1 748.1 L499.6 748.6 L500.1 749.1 L500.6 749.6 L501.1 750.1 L501.6 750.6 L502.1 751.1 L502.7 751.6 L503.2 752.0 L503.7 752.5 L504.2 753.0 L504.7 753.5 L505.3 753.9 L505.8 754.4 L506.3 754.8 L506.9 755.3 L507.4 755.8 L507.9 756.2 L508.4 756.7 L509.0 757.1 L509.5 757.5 L510.0 758.0 L510.6 758.4 L511.1 758.8 L511.7 759.3 L512.2 759.7 L512.7 760.1 L513.3 760.6 L513.8 761.0 L514.4 761.4 L514.9 761.8 L515.5 762.2 L516.0 762.6 L516.5 763.0 L517.1 763.4 L517.7 763.8 L518.2 764.2 L518.8 764.6 L519.3 765.0 L519.9 765.4 L520.4 765.8 L521.0 766.2 L521.5 766.6 L522.1 767.0 L522.7 767.4 L523.2 767.7 L523.8 768.1 L524.4 768.5 L524.9 768.9 L525.5 769.3 L526.1 769.6 L526.6 770.0 L527.2 770.4 L527.8 770.7 L528.3 771.1 L528.9 771.5 L529.5 771.8 L530.1 772.2 L530.7 772.6 L531.2 772.9 L531.8 773.3 L532.4 773.6 L533.0 774.0 L533.6 774.4 L534.2 774.7 L534.7 775.1 L535.3 775.4 L535.9 775.8 L536.5 776.1 L537.1 776.5 L537.7 776.8 L538.3 777.2 L538.9 777.5 L539.5 777.8 L540.1 778.2 L540.7 778.5 L541.3 778.9 L541.9 779.2 L542.5 779.5 L543.1 779.9 L543.7 780.2 L544.3 780.5 L544.9 780.9 L545.5 781.2 L546.1 781.5 L546.7 781.8 L547.3 782.1 L547.9 782.5 L548.6 782.8 L549.2 783.1 L549.8 783.4 L550.4 783.7 L551.0 784.0 L551.6 784.3 L552.3 784.7 L552.9 785.0 L553.5 785.3 L554.1 785.6 L554.7 785.9 L555.4 786.2 L556.0 786.5 L556.6 786.7 L557.3 787.0 L557.9 787.3 L558.5 787.6 L559.2 787.9 L559.8 788.2 L560.4 788.5 L561.1 788.8 L561.7 789.0 L562.3 789.3 L563.0 789.6 L563.6 789.9 L564.3 790.1 L564.9 790.4 L565.5 790.7 L566.2 790.9 L566.8 791.2 L567.5 791.5 L568.1 791.7 L568.8 792.0 L569.4 792.3 L570.1 792.5 L570.7 792.8 L571.4 793.0 L572.1 793.3 L572.7 793.5 L573.4 793.8 L574.0 794.0 L574.7 794.3 L575.3 794.5 L576.0 794.8 L576.7 795.0 L577.3 795.2 L578.0 795.5 L578.7 795.7 L579.3 796.0 L580.0 796.2 L580.7 796.4 L581.4 796.6 L582.0 796.9 L582.7 797.1 L583.4 797.3 L584.0 797.6 L584.7 797.8 L585.4 798.0 L586.1 798.2 L586.8 798.5 L587.4 798.7 L588.1 798.9 L588.8 799.1 L589.5 799.3 L590.2 799.5 L590.9 799.8 L591.6 800.0 L592.3 800.2 L592.9 800.4 L593.6 800.6 L594.3 800.8 L595.0 801.0 L595.7 801.3 L596.4 801.5 L597.1 801.7" fill="none" stroke="#ff0000" stroke-width="1.9" stroke-linejoin="round"/>
<path d="M403.6 800.4 L403.6 800.4 L403.6 800.4 L403.6 800.4 L403.6 800.3 L403.6 800.2 L403.7 800.1 L403.7 800.0 L403.7 799.9 L403.7 799.8 L403.8 799.7 L403.8 799.5 L403.8 799.4 L403.9 799.2 L403.9 799.1 L404.0 798.9 L404.0 798.7 L404.0 798.5 L404.1 798.3 L404.1 798.1 L404.2 797.8 L404.2 797.6 L404.3 797.4 L404.4 797.1 L404.4 796.9 L404.5 796.6 L404.5 796.3 L404.6 796.1 L404.7 795.8 L404.8 795.5 L404.8 795.2 L404.9 794.9 L405.0 794.6 L405.1 794.3 L405.1 794.0 L405.2 793.7 L405.3 793.3 L405.4 793.0 L405.5 792.7 L405.6 792.3 L405.7 792.0 L405.8 791.6 L405.8 791.3 L405.9 790.9 L406.0 790.5 L406.1 790.2 L406.2 789.8 L406.4 789.4 L406.5 789.0 L406.6 788.7 L406.7 788.3 L406.8 787.9 L406.9 787.5 L407.0 787.1 L407.1 786.7 L407.3 786.3 L407.4 785.9 L407.5 785.5 L407.6 785.1 L407.7 784.6 L407.9 784.2 L408.0 783.8 L408.1 783.4 L408.3 782.9 L408.4 782.5 L408.5 782.1 L408.7 781.6 L408.8 781.2 L409.0 780.8 L409.1 780.3 L409.2 779.9 L409.4 779.4 L409.5 779.0 L409.7 778.5 L409.8 778.0 L410.0 777.6 L410.1 777.1 L410.3 776.6 L410.5 776.1 L410.6 775.7 L410.8 775.2 L410.9 774.7 L411.1 774.2 L411.3 773.7 L411.4 773.2 L411.6 772.8 L411.8 772.3 L411.9 771.8 L412.1 771.3 L412.3 770.8 L412.5 770.3 L412.6 769.8 L412.8 769.3 L413.0 768.8 L413.2 768.3 L413.4 767.8 L413.6 767.3 L413.7 766.8 L413.9 766.3 L414.1 765.8 L414.3 765.3 L414.5 764.9 L414.7 764.4 L414.9 763.9 L415.1 763.4 L415.3 762.9 L415.5 762.4 L415.7 762.0 L415.9 761.5 L416.1 761.0 L416.3 760.6 L416.5 760.1 L416.7 759.6 L417.0 759.2 L417.2 758.7 L417.4 758.3 L417.6 757.8 L417.8 757.4 L418.0 757.0 L418.3 756.5 L418.5 756.1 L418.7 755.7 L418.9 755.3 L419.2 754.9 L419.4 754.5 L419.6 754.1 L419.8 753.7 L420.1 753.3 L420.3 752.9 L420.6 752.5 L420.8 752.2 L421.0 751.8 L421.3 751.5 L421.5 751.1 L421.8 750.8 L422.0 750.4 L422.2 750.1 L422.5 749.8 L422.7 749.4 L423.0 749.1 L423.2 748.8 L423.5 748.5 L423.7 748.2 L424.0 747.9 L424.3 747.7 L424.5 747.4 L424.8 747.1 L425.0 746.9 L425.3 746.6 L425.6 746.4 L425.8 746.1 L426.1 745.9 L426.4 745.7 L426.6 745.5 L426.9 745.3 L427.2 745.1 L427.5 744.9 L427.7 744.7 L428.0 744.5 L428.3 744.3 L428.6 744.1 L428.9 744.0 L429.1 743.8 L429.4 743.7 L429.7 743.5 L430.0 743.4 L430.3 743.3 L430.6 743.1 L430.9 743.0 L431.2 742.9 L431.5 742.8 L431.8 742.7 L432.0 742.6 L432.3 742.5 L432.6 742.4 L432.9 742.3 L433.3 742.2 L433.6 742.1 L433.9 742.0 L434.2 742.0 L434.5 741.9 L434.8 741.8 L435.1 741.8 L435.4 741.7 L435.7 741.7 L436.0 741.6 L436.4 741.6 L436.7 741.5 L437.0 741.5 L437.3 741.4 L437.6 741.4 L438.0 741.4 L438.3 741.4 L438.6 741.3 L438.9 741.3 L439.3 741.3 L439.6 741.3 L439.9 741.3 L440.3 741.3 L440.6 741.4 L440.9 741.4 L441.3 741.4 L441.6 741.4 L441.9 741.5 L442.3 741.5 L442.6 741.5 L443.0 741.6 L443.3 741.6 L443.7 741.7 L444.0 741.8 L444.3 741.9 L444.7 741.9 L445.0 742.0 L445.4 742.1 L445.8 742.2 L446.1 742.3 L446.5 742.4 L446.8 742.5 L447.2 742.7 L447.5 742.8 L447.9 742.9 L448.3 743.0 L448.6 743.2 L449.0 743.3 L449.4 743.5 L449.7 743.7 L450.1 743.8 L450.5 744.0 L450.9 744.2 L451.2 744.4 L451.6 744.6 L452.0 744.7 L452.4 744.9 L452.7 745.2 L453.1 745.4 L453.5 745.6 L453.9 745.8 L454.3 746.0 L454.6 746.3 L455.0 746.5 L455.4 746.7 L455.8 747.0 L456.2 747.2 L456.6 747.5 L457.0 747.7 L457.4 748.0 L457.8 748.2 L458.2 748.5 L458.6 748.8 L459.0 749.0 L459.4 749.3 L459.8 749.6 L460.2 749.9 L460.6 750.1 L461.0 750.4 L461.4 750.7 L461.8 751.0 L462.2 751.3 L462.6 751.6 L463.0 751.9 L463.5 752.2 L463.9 752.5 L464.3 752.8 L464.7 753.1 L465.1 753.4 L465.5 753.7 L466.0 754.0 L466.4 754.3 L466.8 754.6 L467.2 754.9 L467.7 755.2 L468.1 755.5 L468.5 755.9 L468.9 756.2 L469.4 756.5 L469.8 756.8 L470.2 757.1 L470.7 757.4 L471.1 757.8 L471.6 758.1 L472.0 758.4 L472.4 758.7 L472.9 759.1 L473.3 759.4 L473.8 759.7 L474.2 760.1 L474.7 760.4 L475.1 760.7 L475.5 761.1 L476.0 761.4 L476.5 761.7 L476.9 762.1 L477.4 762.4 L477.8 762.8 L478.3 763.1 L478.7 763.5 L479.2 763.8 L479.6 764.2 L480.1 764.5 L480.6 764.9 L481.0 765.3 L481.5 765.6 L482.0 766.0 L482.4 766.4 L482.9 766.7 L483.4 767.1 L483.8 767.4 L484.3 767.8 L484.8 768.2 L485.3 768.5 L485.7 768.9 L486.2 769.3 L486.7 769.6 L487.2 770.0 L487.7 770.4 L488.1 770.7 L488.6 771.1 L489.1 771.4 L489.6 771.8 L490.1 772.2 L490.6 772.5 L491.1 772.9 L491.6 773.2 L492.0 773.6 L492.5 773.9 L493.0 774.3 L493.5 774.6 L494.0 775.0 L494.5 775.3 L495.0 775.6 L495.5 776.0 L496.0 776.3 L496.5 776.7 L497.0 777.0 L497.5 777.3 L498.0 777.6 L498.6 778.0 L499.1 778.3 L499.6 778.6 L500.1 778.9 L500.6 779.2 L501.1 779.6 L501.6 779.9 L502.1 780.2 L502.7 780.5 L503.2 780.8 L503.7 781.1 L504.2 781.4 L504.7 781.7 L505.3 782.0 L505.8 782.3 L506.3 782.6 L506.9 782.9 L507.4 783.1 L507.9 783.4 L508.4 783.7 L509.0 784.0 L509.5 784.3 L510.0 784.5 L510.6 784.8 L511.1 785.1 L511.7 785.3 L512.2 785.6 L512.7 785.9 L513.3 786.1 L513.8 786.4 L514.4 786.6 L514.9 786.9 L515.5 787.1 L516.0 787.4 L516.5 787.6 L517.1 787.8 L517.7 788.1 L518.2 788.3 L518.8 788.6 L519.3 788.8 L519.9 789.0 L520.4 789.3 L521.0 789.5 L521.5 789.7 L522.1 789.9 L522.7 790.1 L523.2 790.4 L523.8 790.6 L524.4 790.8 L524.9 791.0 L525.5 791.2 L526.1 791.4 L526.6 791.6 L527.2 791.9 L527.8 792.1 L528.3 792.3 L528.9 792.5 L529.5 792.7 L530.1 792.9 L530.7 793.0 L531.2 793.2 L531.8 793.4 L532.4 793.6 L533.0 793.8 L533.6 794.0 L534.2 794.1 L534.7 794.3 L535.3 794.5 L535.9 794.6 L536.5 794.8 L537.1 795.0 L537.7 795.1 L538.3 795.3 L538.9 795.4 L539.5 795.5 L540.1 795.7 L540.7 795.8 L541.3 796.0 L541.9 796.1 L542.5 796.2 L543.1 796.3 L543.7 796.5 L544.3 796.6 L544.9 796.7 L545.5 796.8 L546.1 796.9 L546.7 797.0 L547.3 797.1 L547.9 797.2 L548.6 797.3 L549.2 797.4 L549.8 797.5 L550.4 797.6 L551.0 797.7 L551.6 797.8 L552.3 797.8 L552.9 797.9 L553.5 798.0 L554.1 798.1 L554.7 798.1 L555.4 798.2 L556.0 798.3 L556.6 798.3 L557.3 798.4 L557.9 798.4 L558.5 798.5 L559.2 798.6 L559.8 798.6 L560.4 798.7 L561.1 798.7 L561.7 798.7 L562.3 798.8 L563.0 798.8 L563.6 798.9 L564.3 798.9 L564.9 798.9 L565.5 799.0 L566.2 799.0 L566.8 799.0 L567.5 799.1 L568.1 799.1 L568.8 799.1 L569.4 799.1 L570.1 799.1 L570.7 799.2 L571.4 799.2 L572.1 799.2 L572.7 799.2 L573.4 799.2 L574.0 799.2 L574.7 799.2 L575.3 799.2 L576.0 799.2 L576.7 799.2 L577.3 799.2 L578.0 799.3 L578.7 799.3 L579.3 799.3 L580.0 799.2 L580.7 799.2 L581.4 799.2 L582.0 799.2 L582.7 799.2 L583.4 799.2 L584.0 799.2 L584.7 799.2 L585.4 799.2 L586.1 799.2 L586.8 799.2 L587.4 799.2 L588.1 799.2 L588.8 799.1 L589.5 799.1 L590.2 799.1 L590.9 799.1 L591.6 799.1 L592.3 799.1 L592.9 799.1 L593.6 799.1 L594.3 799.0 L595.0 799.0 L595.7 799.0 L596.4 799.0 L597.1 799.0" fill="none" stroke="#0000ff" stroke-width="1.9" stroke-linejoin="round"/>
<line x1="403.6" y1="800.44" x2="598.3" y2="800.44" stroke="#000" stroke-width="2.2" stroke-dasharray="7.2 7.6"/>
</g>
<line x1="452.27" y1="837" x2="452.27" y2="832.2" stroke="#222222" stroke-width="2"/>
<line x1="452.27" y1="654.2" x2="452.27" y2="659" stroke="#222222" stroke-width="2"/>
<line x1="500.95" y1="837" x2="500.95" y2="832.2" stroke="#222222" stroke-width="2"/>
<line x1="500.95" y1="654.2" x2="500.95" y2="659" stroke="#222222" stroke-width="2"/>
<line x1="549.62" y1="837" x2="549.62" y2="832.2" stroke="#222222" stroke-width="2"/>
<line x1="549.62" y1="654.2" x2="549.62" y2="659" stroke="#222222" stroke-width="2"/>
<line x1="403.6" y1="690.76" x2="408.4" y2="690.76" stroke="#222222" stroke-width="2"/>
<line x1="598.3" y1="690.76" x2="593.5" y2="690.76" stroke="#222222" stroke-width="2"/>
<line x1="403.6" y1="800.44" x2="408.4" y2="800.44" stroke="#222222" stroke-width="2"/>
<line x1="598.3" y1="800.44" x2="593.5" y2="800.44" stroke="#222222" stroke-width="2"/>
<rect x="403.6" y="654.2" width="194.7" height="182.8" fill="none" stroke="#222222" stroke-width="2"/>
<text x="396.3" y="695.9" font-size="13.3" text-anchor="end" fill="#3a3532">3</text>
<text x="396.3" y="805.8" font-size="13.3" text-anchor="end" fill="#3a3532">0</text>
<text x="396.3" y="842.1" font-size="13.3" text-anchor="end" fill="#3a3532">−1</text>
<text transform="translate(371.5 746) rotate(-90)" font-size="14.2" letter-spacing="-0.25" text-anchor="middle" fill="#3a3532">Im.<tspan dx="3.2" font-style="italic" font-size="12.8">σ</tspan><tspan dx="3.4">(mS)</tspan></text>
<text x="360.8" y="656.1" font-size="20.5" text-anchor="start" fill="#3a3532" font-weight="bold" fill="#111">h</text>
<text x="403.6" y="854.5" font-size="13.3" text-anchor="middle" fill="#3a3532">0</text>
<text x="452.27" y="854.5" font-size="13.3" text-anchor="middle" fill="#3a3532">200</text>
<text x="500.95" y="854.5" font-size="13.3" text-anchor="middle" fill="#3a3532">400</text>
<text x="549.62" y="854.5" font-size="13.3" text-anchor="middle" fill="#3a3532">600</text>
<text x="598.3" y="854.5" font-size="13.3" text-anchor="middle" fill="#3a3532">800</text>
<text x="500.25" y="873.7" font-size="13.6" text-anchor="middle" fill="#3a3532">Frequency (cm<tspan dy="-5.9" font-size="8.7">−1</tspan><tspan dy="5.9">)</tspan></text>
<line x1="500.4" y1="45.8" x2="527.7" y2="45.8" stroke="#ff0000" stroke-width="1.9"/>
<line x1="500.4" y1="65.9" x2="527.7" y2="65.9" stroke="#0000ff" stroke-width="1.9"/>
<text x="532.2" y="50.7" font-size="13.55" text-anchor="start" fill="#3a3532">Polar. <tspan font-style="italic">a</tspan></text>
<text x="532.2" y="70.6" font-size="13.55" text-anchor="start" fill="#3a3532">Polar. <tspan font-style="italic">b</tspan></text>
<g clip-path="url(#c30)">
<rect x="800.9" y="23.8" width="55" height="182.9" fill="url(#gg)"/>
<path d="M670.8 190.3 L671.4 190.2 L672.0 190.1 L672.6 189.9 L673.2 189.8 L673.8 189.7 L674.5 189.5 L675.1 189.4 L675.7 189.3 L676.3 189.1 L676.9 189.0 L677.5 188.9 L678.1 188.7 L678.8 188.6 L679.4 188.5 L680.0 188.3 L680.6 188.2 L681.2 188.1 L681.8 187.9 L682.4 187.8 L683.1 187.7 L683.7 187.5 L684.3 187.4 L684.9 187.3 L685.5 187.1 L686.1 187.0 L686.7 186.9 L687.4 186.7 L688.0 186.6 L688.6 186.5 L689.2 186.3 L689.8 186.2 L690.4 186.1 L691.0 185.9 L691.6 185.8 L692.3 185.6 L692.9 185.5 L693.5 185.4 L694.1 185.2 L694.7 185.1 L695.3 184.9 L695.9 184.8 L696.6 184.6 L697.2 184.5 L697.8 184.4 L698.4 184.2 L699.0 184.1 L699.6 183.9 L700.2 183.8 L700.9 183.6 L701.5 183.5 L702.1 183.3 L702.7 183.2 L703.3 183.0 L703.9 182.8 L704.5 182.7 L705.2 182.5 L705.8 182.4 L706.4 182.2 L707.0 182.1 L707.6 181.9 L708.2 181.7 L708.8 181.6 L709.5 181.4 L710.1 181.2 L710.7 181.1 L711.3 180.9 L711.9 180.7 L712.5 180.5 L713.1 180.4 L713.8 180.2 L714.4 180.0 L715.0 179.8 L715.6 179.6 L716.2 179.5 L716.8 179.3 L717.4 179.1 L718.1 178.9 L718.7 178.7 L719.3 178.5 L719.9 178.3 L720.5 178.1 L721.1 177.9 L721.7 177.7 L722.4 177.5 L723.0 177.4 L723.6 177.2 L724.2 177.0 L724.8 176.8 L725.4 176.6 L726.0 176.4 L726.7 176.2 L727.3 176.0 L727.9 175.7 L728.5 175.5 L729.1 175.3 L729.7 175.1 L730.3 174.9 L730.9 174.7 L731.6 174.5 L732.2 174.3 L732.8 174.1 L733.4 173.9 L734.0 173.7 L734.6 173.5 L735.2 173.3 L735.9 173.1 L736.5 172.8 L737.1 172.6 L737.7 172.4 L738.3 172.2 L738.9 172.0 L739.5 171.7 L740.2 171.5 L740.8 171.3 L741.4 171.0 L742.0 170.8 L742.6 170.6 L743.2 170.3 L743.8 170.1 L744.5 169.8 L745.1 169.6 L745.7 169.3 L746.3 169.0 L746.9 168.8 L747.5 168.5 L748.1 168.2 L748.8 168.0 L749.4 167.7 L750.0 167.4 L750.6 167.1 L751.2 166.8 L751.8 166.5 L752.4 166.3 L753.1 166.0 L753.7 165.7 L754.3 165.3 L754.9 165.0 L755.5 164.7 L756.1 164.4 L756.7 164.1 L757.4 163.8 L758.0 163.4 L758.6 163.1 L759.2 162.8 L759.8 162.4 L760.4 162.1 L761.0 161.8 L761.7 161.4 L762.3 161.1 L762.9 160.7 L763.5 160.3 L764.1 160.0 L764.7 159.6 L765.3 159.2 L766.0 158.9 L766.6 158.5 L767.2 158.1 L767.8 157.7 L768.4 157.3 L769.0 156.9 L769.6 156.6 L770.2 156.2 L770.9 155.8 L771.5 155.4 L772.1 154.9 L772.7 154.5 L773.3 154.1 L773.9 153.7 L774.5 153.3 L775.2 152.9 L775.8 152.4 L776.4 152.0 L777.0 151.6 L777.6 151.1 L778.2 150.7 L778.8 150.3 L779.5 149.8 L780.1 149.4 L780.7 148.9 L781.3 148.5 L781.9 148.0 L782.5 147.6 L783.1 147.1 L783.8 146.7 L784.4 146.2 L785.0 145.7 L785.6 145.3 L786.2 144.8 L786.8 144.3 L787.4 143.8 L788.1 143.3 L788.7 142.8 L789.3 142.3 L789.9 141.8 L790.5 141.3 L791.1 140.8 L791.7 140.2 L792.4 139.7 L793.0 139.2 L793.6 138.6 L794.2 138.0 L794.8 137.5 L795.4 136.9 L796.0 136.3 L796.7 135.7 L797.3 135.1 L797.9 134.5 L798.5 133.9 L799.1 133.2 L799.7 132.6 L800.3 131.9 L801.0 131.3 L801.6 130.6 L802.2 129.9 L802.8 129.2 L803.4 128.5 L804.0 127.7 L804.6 127.0 L805.3 126.3 L805.9 125.5 L806.5 124.7 L807.1 124.0 L807.7 123.2 L808.3 122.4 L808.9 121.6 L809.6 120.8 L810.2 120.0 L810.8 119.2 L811.4 118.3 L812.0 117.5 L812.6 116.7 L813.2 115.8 L813.8 115.0 L814.5 114.2 L815.1 113.3 L815.7 112.4 L816.3 111.5 L816.9 110.6 L817.5 109.7 L818.1 108.8 L818.8 107.9 L819.4 106.9 L820.0 105.9 L820.6 104.9 L821.2 103.9 L821.8 102.9 L822.4 101.8 L823.1 100.7 L823.7 99.6 L824.3 98.5 L824.9 97.3 L825.5 96.1 L826.1 94.9 L826.7 93.7 L827.4 92.5 L828.0 91.3 L828.6 90.0 L829.2 88.7 L829.8 87.5 L830.4 86.2 L831.0 84.9 L831.7 83.6 L832.3 82.2 L832.9 80.9 L833.5 79.6 L834.1 78.3 L834.7 76.9 L835.3 75.6 L836.0 74.2 L836.6 72.8 L837.2 71.4 L837.8 69.9 L838.4 68.5 L839.0 67.0 L839.6 65.4 L840.3 63.9 L840.9 62.2 L841.5 60.6 L842.1 58.9 L842.7 57.1 L843.3 55.4 L843.9 53.6 L844.6 51.7 L845.2 49.9 L845.8 48.0 L846.4 46.0 L847.0 44.1 L847.6 42.1 L848.2 40.2 L848.9 38.2 L849.5 36.2 L850.1 34.2 L850.7 32.2 L851.3 30.1 L851.9 28.0 L852.5 25.9 L853.1 23.7 L853.8 21.5 L854.4 19.3" fill="none" stroke="#8a8a8a" stroke-width="2" stroke-dasharray="7.1 7.6"/>
<line x1="670.4" y1="133.54" x2="900.4" y2="133.54" stroke="#000" stroke-width="2.2" stroke-dasharray="7.1 7.6"/>
<line x1="800.9" y1="23.8" x2="800.9" y2="206.7" stroke="#000" stroke-width="2.2" stroke-dasharray="7 7.75" stroke-dashoffset="1.4"/>
</g>
<line x1="727.9" y1="206.7" x2="727.9" y2="201" stroke="#222222" stroke-width="2"/>
<line x1="727.9" y1="23.8" x2="727.9" y2="29.5" stroke="#222222" stroke-width="2"/>
<line x1="785.4" y1="206.7" x2="785.4" y2="201" stroke="#222222" stroke-width="2"/>
<line x1="785.4" y1="23.8" x2="785.4" y2="29.5" stroke="#222222" stroke-width="2"/>
<line x1="842.9" y1="206.7" x2="842.9" y2="201" stroke="#222222" stroke-width="2"/>
<line x1="842.9" y1="23.8" x2="842.9" y2="29.5" stroke="#222222" stroke-width="2"/>
<line x1="670.4" y1="78.67" x2="676.1" y2="78.67" stroke="#222222" stroke-width="2"/>
<line x1="900.4" y1="78.67" x2="894.7" y2="78.67" stroke="#222222" stroke-width="2"/>
<line x1="670.4" y1="133.54" x2="676.1" y2="133.54" stroke="#222222" stroke-width="2"/>
<line x1="900.4" y1="133.54" x2="894.7" y2="133.54" stroke="#222222" stroke-width="2"/>
<line x1="670.4" y1="188.41" x2="676.1" y2="188.41" stroke="#222222" stroke-width="2"/>
<line x1="900.4" y1="188.41" x2="894.7" y2="188.41" stroke="#222222" stroke-width="2"/>
<path d="M731.36 168.3 V180.89 M725.96 168.3 H736.76 M725.96 180.89 H736.76" stroke="#0000ff" stroke-width="1.5" fill="none"/>
<circle cx="731.36" cy="174.85" r="3.8" fill="#0000ff"/>
<path d="M781.2 144.69 V153.87 M775.8 144.69 H786.6 M775.8 153.87 H786.6" stroke="#0000ff" stroke-width="1.5" fill="none"/>
<circle cx="781.2" cy="149.41" r="3.8" fill="#0000ff"/>
<path d="M804.8 117.67 V128.43 M799.4 117.67 H810.2 M799.4 128.43 H810.2" stroke="#0000ff" stroke-width="1.5" fill="none"/>
<circle cx="804.8" cy="122.92" r="3.8" fill="#0000ff"/>
<path d="M817.39 89.61 V100.62 M811.99 89.61 H822.79 M811.99 100.62 H822.79" stroke="#0000ff" stroke-width="1.5" fill="none"/>
<circle cx="817.39" cy="95.38" r="3.8" fill="#0000ff"/>
<path d="M817.39 99.31 V110.59 M811.99 99.31 H822.79 M811.99 110.59 H822.79" stroke="#0000ff" stroke-width="1.5" fill="none"/>
<circle cx="817.39" cy="104.56" r="3.8" fill="#0000ff"/>
<path d="M824.74 96.16 V104.56 M819.34 96.16 H830.14 M819.34 104.56 H830.14" stroke="#0000ff" stroke-width="1.5" fill="none"/>
<circle cx="824.74" cy="100.1" r="3.8" fill="#0000ff"/>
<path d="M828.41 76.49 V96.16 M823.01 76.49 H833.81 M823.01 96.16 H833.81" stroke="#0000ff" stroke-width="1.5" fill="none"/>
<circle cx="828.41" cy="86.46" r="3.8" fill="#0000ff"/>
<rect x="670.4" y="23.8" width="230" height="182.9" fill="none" stroke="#222222" stroke-width="2"/>
<text x="663" y="27.9" font-size="13.3" text-anchor="end" fill="#3a3532">30</text>
<text x="663" y="82.9" font-size="13.3" text-anchor="end" fill="#3a3532">15</text>
<text x="663" y="138.3" font-size="13.3" text-anchor="end" fill="#3a3532">0</text>
<text x="663" y="193.6" font-size="13.3" text-anchor="end" fill="#3a3532">−15</text>
<text transform="translate(631 115.35) rotate(-90)" font-size="14.2" letter-spacing="-0.28" text-anchor="middle" fill="#3a3532">Polar. angle (Degree)</text>
<text x="620" y="26" font-size="20.5" text-anchor="start" fill="#3a3532" font-weight="bold" fill="#111">i</text>
<g clip-path="url(#c31)">
<rect x="811.4" y="234" width="66" height="181.8" fill="url(#gg)"/>
<path d="M670.8 406.9 L671.4 406.8 L672.1 406.7 L672.7 406.6 L673.4 406.5 L674.0 406.4 L674.7 406.3 L675.3 406.2 L676.0 406.1 L676.6 406.0 L677.3 405.9 L677.9 405.7 L678.6 405.6 L679.2 405.5 L679.9 405.4 L680.5 405.3 L681.2 405.2 L681.9 405.1 L682.5 404.9 L683.2 404.8 L683.8 404.7 L684.5 404.6 L685.1 404.4 L685.8 404.3 L686.4 404.2 L687.1 404.1 L687.7 403.9 L688.4 403.8 L689.0 403.7 L689.7 403.5 L690.3 403.4 L691.0 403.3 L691.6 403.1 L692.3 403.0 L692.9 402.8 L693.6 402.7 L694.2 402.6 L694.9 402.4 L695.5 402.3 L696.2 402.1 L696.8 402.0 L697.5 401.8 L698.1 401.7 L698.8 401.5 L699.4 401.4 L700.1 401.2 L700.8 401.0 L701.4 400.9 L702.1 400.7 L702.7 400.5 L703.4 400.4 L704.0 400.2 L704.7 400.0 L705.3 399.9 L706.0 399.7 L706.6 399.5 L707.3 399.4 L707.9 399.2 L708.6 399.0 L709.2 398.8 L709.9 398.6 L710.5 398.4 L711.2 398.3 L711.8 398.1 L712.5 397.9 L713.1 397.7 L713.8 397.5 L714.4 397.3 L715.1 397.1 L715.7 396.9 L716.4 396.7 L717.0 396.5 L717.7 396.3 L718.4 396.1 L719.0 395.9 L719.7 395.7 L720.3 395.5 L721.0 395.3 L721.6 395.1 L722.3 394.9 L722.9 394.7 L723.6 394.4 L724.2 394.2 L724.9 394.0 L725.5 393.8 L726.2 393.6 L726.8 393.4 L727.5 393.1 L728.1 392.9 L728.8 392.7 L729.4 392.5 L730.1 392.2 L730.7 392.0 L731.4 391.8 L732.0 391.6 L732.7 391.3 L733.3 391.1 L734.0 390.9 L734.6 390.6 L735.3 390.4 L735.9 390.2 L736.6 389.9 L737.3 389.7 L737.9 389.5 L738.6 389.2 L739.2 389.0 L739.9 388.7 L740.5 388.5 L741.2 388.2 L741.8 388.0 L742.5 387.7 L743.1 387.5 L743.8 387.2 L744.4 387.0 L745.1 386.7 L745.7 386.5 L746.4 386.2 L747.0 385.9 L747.7 385.7 L748.3 385.4 L749.0 385.1 L749.6 384.8 L750.3 384.5 L750.9 384.2 L751.6 384.0 L752.2 383.7 L752.9 383.4 L753.5 383.1 L754.2 382.7 L754.9 382.4 L755.5 382.1 L756.2 381.8 L756.8 381.5 L757.5 381.1 L758.1 380.8 L758.8 380.5 L759.4 380.1 L760.1 379.8 L760.7 379.5 L761.4 379.1 L762.0 378.8 L762.7 378.4 L763.3 378.1 L764.0 377.7 L764.6 377.3 L765.3 377.0 L765.9 376.6 L766.6 376.3 L767.2 375.9 L767.9 375.5 L768.5 375.2 L769.2 374.8 L769.8 374.4 L770.5 374.0 L771.1 373.7 L771.8 373.3 L772.4 372.9 L773.1 372.5 L773.8 372.1 L774.4 371.7 L775.1 371.3 L775.7 371.0 L776.4 370.6 L777.0 370.2 L777.7 369.8 L778.3 369.3 L779.0 368.9 L779.6 368.5 L780.3 368.1 L780.9 367.7 L781.6 367.2 L782.2 366.8 L782.9 366.4 L783.5 365.9 L784.2 365.4 L784.8 365.0 L785.5 364.5 L786.1 364.0 L786.8 363.6 L787.4 363.1 L788.1 362.6 L788.7 362.1 L789.4 361.6 L790.0 361.0 L790.7 360.5 L791.4 360.0 L792.0 359.4 L792.7 358.9 L793.3 358.3 L794.0 357.8 L794.6 357.2 L795.3 356.6 L795.9 356.0 L796.6 355.5 L797.2 354.8 L797.9 354.2 L798.5 353.6 L799.2 353.0 L799.8 352.4 L800.5 351.7 L801.1 351.1 L801.8 350.4 L802.4 349.7 L803.1 349.0 L803.7 348.3 L804.4 347.6 L805.0 346.9 L805.7 346.2 L806.3 345.5 L807.0 344.7 L807.6 344.0 L808.3 343.2 L808.9 342.4 L809.6 341.7 L810.3 340.9 L810.9 340.0 L811.6 339.2 L812.2 338.4 L812.9 337.5 L813.5 336.7 L814.2 335.8 L814.8 334.9 L815.5 334.0 L816.1 333.1 L816.8 332.2 L817.4 331.3 L818.1 330.3 L818.7 329.4 L819.4 328.4 L820.0 327.4 L820.7 326.4 L821.3 325.4 L822.0 324.4 L822.6 323.3 L823.3 322.3 L823.9 321.2 L824.6 320.1 L825.2 319.0 L825.9 317.9 L826.5 316.8 L827.2 315.6 L827.9 314.5 L828.5 313.3 L829.2 312.2 L829.8 311.0 L830.5 309.8 L831.1 308.6 L831.8 307.4 L832.4 306.2 L833.1 305.0 L833.7 303.8 L834.4 302.6 L835.0 301.3 L835.7 300.1 L836.3 298.8 L837.0 297.6 L837.6 296.3 L838.3 295.0 L838.9 293.7 L839.6 292.4 L840.2 291.0 L840.9 289.7 L841.5 288.3 L842.2 286.9 L842.8 285.5 L843.5 284.1 L844.1 282.6 L844.8 281.2 L845.5 279.7 L846.1 278.2 L846.8 276.7 L847.4 275.1 L848.1 273.6 L848.7 272.0 L849.4 270.4 L850.0 268.9 L850.7 267.3 L851.3 265.7 L852.0 264.1 L852.6 262.5 L853.3 260.9 L853.9 259.3 L854.6 257.7 L855.2 256.1 L855.9 254.5 L856.5 252.9 L857.2 251.3 L857.8 249.7 L858.5 248.1 L859.1 246.4 L859.8 244.8 L860.4 243.1 L861.1 241.5 L861.7 239.8 L862.4 238.1 L863.0 236.4 L863.7 234.6 L864.4 232.9 L865.0 231.1 L865.7 229.3" fill="none" stroke="#8a8a8a" stroke-width="2" stroke-dasharray="7.1 7.6"/>
<line x1="670.4" y1="343.08" x2="900.4" y2="343.08" stroke="#000" stroke-width="2.2" stroke-dasharray="7.1 7.6"/>
<line x1="811.4" y1="234" x2="811.4" y2="415.8" stroke="#000" stroke-width="2.2" stroke-dasharray="7 7.75" stroke-dashoffset="2.4"/>
</g>
<line x1="727.9" y1="415.8" x2="727.9" y2="410.1" stroke="#222222" stroke-width="2"/>
<line x1="727.9" y1="234" x2="727.9" y2="239.7" stroke="#222222" stroke-width="2"/>
<line x1="785.4" y1="415.8" x2="785.4" y2="410.1" stroke="#222222" stroke-width="2"/>
<line x1="785.4" y1="234" x2="785.4" y2="239.7" stroke="#222222" stroke-width="2"/>
<line x1="842.9" y1="415.8" x2="842.9" y2="410.1" stroke="#222222" stroke-width="2"/>
<line x1="842.9" y1="234" x2="842.9" y2="239.7" stroke="#222222" stroke-width="2"/>
<line x1="670.4" y1="288.54" x2="676.1" y2="288.54" stroke="#222222" stroke-width="2"/>
<line x1="900.4" y1="288.54" x2="894.7" y2="288.54" stroke="#222222" stroke-width="2"/>
<line x1="670.4" y1="343.08" x2="676.1" y2="343.08" stroke="#222222" stroke-width="2"/>
<line x1="900.4" y1="343.08" x2="894.7" y2="343.08" stroke="#222222" stroke-width="2"/>
<line x1="670.4" y1="397.62" x2="676.1" y2="397.62" stroke="#222222" stroke-width="2"/>
<line x1="900.4" y1="397.62" x2="894.7" y2="397.62" stroke="#222222" stroke-width="2"/>
<path d="M732.93 386.69 V399.02 M727.53 386.69 H738.33 M727.53 399.02 H738.33" stroke="#0000ff" stroke-width="1.5" fill="none"/>
<circle cx="732.93" cy="392.72" r="3.8" fill="#0000ff"/>
<path d="M787.23 357.57 V366.49 M781.83 357.57 H792.63 M781.83 366.49 H792.63" stroke="#0000ff" stroke-width="1.5" fill="none"/>
<circle cx="787.23" cy="362.3" r="3.8" fill="#0000ff"/>
<path d="M812.67 328.72 V339.74 M807.27 328.72 H818.07 M807.27 339.74 H818.07" stroke="#0000ff" stroke-width="1.5" fill="none"/>
<circle cx="812.67" cy="334.23" r="3.8" fill="#0000ff"/>
<path d="M814.25 339.21 V351.28 M808.85 339.21 H819.65 M808.85 351.28 H819.65" stroke="#0000ff" stroke-width="1.5" fill="none"/>
<circle cx="814.25" cy="345.25" r="3.8" fill="#0000ff"/>
<path d="M828.67 297.51 V328.2 M823.27 297.51 H834.07 M823.27 328.2 H834.07" stroke="#0000ff" stroke-width="1.5" fill="none"/>
<circle cx="828.67" cy="313.25" r="3.8" fill="#0000ff"/>
<path d="M828.67 306.16 V323.74 M823.27 306.16 H834.07 M823.27 323.74 H834.07" stroke="#0000ff" stroke-width="1.5" fill="none"/>
<circle cx="828.67" cy="315.08" r="3.8" fill="#0000ff"/>
<rect x="670.4" y="234" width="230" height="181.8" fill="none" stroke="#222222" stroke-width="2"/>
<text x="663" y="237.9" font-size="13.3" text-anchor="end" fill="#3a3532">30</text>
<text x="663" y="292.9" font-size="13.3" text-anchor="end" fill="#3a3532">15</text>
<text x="663" y="348.3" font-size="13.3" text-anchor="end" fill="#3a3532">0</text>
<text x="663" y="403.6" font-size="13.3" text-anchor="end" fill="#3a3532">−15</text>
<text transform="translate(631 325) rotate(-90)" font-size="14.2" letter-spacing="-0.28" text-anchor="middle" fill="#3a3532">Polar. angle (Degree)</text>
<text x="620" y="236" font-size="20.5" text-anchor="start" fill="#3a3532" font-weight="bold" fill="#111">j</text>
<g clip-path="url(#c32)">
<rect x="845.5" y="443.1" width="66" height="182.8" fill="url(#gg)"/>
<path d="M670.8 617.1 L671.5 617.1 L672.3 617.0 L673.1 616.9 L673.8 616.8 L674.6 616.7 L675.4 616.7 L676.1 616.6 L676.9 616.5 L677.7 616.4 L678.4 616.3 L679.2 616.2 L680.0 616.1 L680.7 616.0 L681.5 615.9 L682.3 615.8 L683.0 615.7 L683.8 615.6 L684.6 615.5 L685.3 615.4 L686.1 615.3 L686.9 615.2 L687.6 615.1 L688.4 614.9 L689.2 614.8 L689.9 614.7 L690.7 614.6 L691.4 614.5 L692.2 614.4 L693.0 614.3 L693.7 614.1 L694.5 614.0 L695.3 613.9 L696.0 613.8 L696.8 613.7 L697.6 613.5 L698.3 613.4 L699.1 613.3 L699.9 613.2 L700.6 613.0 L701.4 612.9 L702.2 612.8 L702.9 612.7 L703.7 612.5 L704.5 612.4 L705.2 612.3 L706.0 612.2 L706.8 612.0 L707.5 611.9 L708.3 611.8 L709.1 611.6 L709.8 611.5 L710.6 611.4 L711.4 611.3 L712.1 611.1 L712.9 611.0 L713.7 610.9 L714.4 610.7 L715.2 610.6 L716.0 610.5 L716.7 610.4 L717.5 610.2 L718.3 610.1 L719.0 610.0 L719.8 609.8 L720.5 609.7 L721.3 609.6 L722.1 609.4 L722.8 609.3 L723.6 609.1 L724.4 609.0 L725.1 608.9 L725.9 608.7 L726.7 608.6 L727.4 608.4 L728.2 608.3 L729.0 608.1 L729.7 607.9 L730.5 607.8 L731.3 607.6 L732.0 607.4 L732.8 607.3 L733.6 607.1 L734.3 606.9 L735.1 606.7 L735.9 606.5 L736.6 606.4 L737.4 606.2 L738.2 606.0 L738.9 605.8 L739.7 605.6 L740.5 605.3 L741.2 605.1 L742.0 604.9 L742.8 604.7 L743.5 604.5 L744.3 604.3 L745.1 604.0 L745.8 603.8 L746.6 603.6 L747.4 603.3 L748.1 603.1 L748.9 602.9 L749.7 602.6 L750.4 602.4 L751.2 602.1 L751.9 601.9 L752.7 601.6 L753.5 601.4 L754.2 601.1 L755.0 600.9 L755.8 600.6 L756.5 600.3 L757.3 600.1 L758.1 599.8 L758.8 599.5 L759.6 599.3 L760.4 599.0 L761.1 598.7 L761.9 598.4 L762.7 598.2 L763.4 597.9 L764.2 597.6 L765.0 597.3 L765.7 597.0 L766.5 596.7 L767.3 596.4 L768.0 596.1 L768.8 595.8 L769.6 595.5 L770.3 595.2 L771.1 594.9 L771.9 594.6 L772.6 594.3 L773.4 594.0 L774.2 593.7 L774.9 593.4 L775.7 593.1 L776.5 592.7 L777.2 592.4 L778.0 592.1 L778.8 591.8 L779.5 591.4 L780.3 591.1 L781.1 590.8 L781.8 590.4 L782.6 590.1 L783.3 589.7 L784.1 589.4 L784.9 589.1 L785.6 588.7 L786.4 588.3 L787.2 588.0 L787.9 587.6 L788.7 587.3 L789.5 586.9 L790.2 586.5 L791.0 586.2 L791.8 585.8 L792.5 585.4 L793.3 585.0 L794.1 584.6 L794.8 584.2 L795.6 583.9 L796.4 583.5 L797.1 583.1 L797.9 582.7 L798.7 582.3 L799.4 581.8 L800.2 581.4 L801.0 581.0 L801.7 580.6 L802.5 580.2 L803.3 579.7 L804.0 579.3 L804.8 578.8 L805.6 578.4 L806.3 577.9 L807.1 577.5 L807.9 577.0 L808.6 576.5 L809.4 576.0 L810.2 575.5 L810.9 575.0 L811.7 574.5 L812.4 574.0 L813.2 573.5 L814.0 573.0 L814.7 572.4 L815.5 571.9 L816.3 571.4 L817.0 570.8 L817.8 570.3 L818.6 569.7 L819.3 569.2 L820.1 568.6 L820.9 568.1 L821.6 567.5 L822.4 567.0 L823.2 566.4 L823.9 565.9 L824.7 565.4 L825.5 564.8 L826.2 564.3 L827.0 563.8 L827.8 563.3 L828.5 562.8 L829.3 562.3 L830.1 561.8 L830.8 561.3 L831.6 560.8 L832.4 560.4 L833.1 559.9 L833.9 559.4 L834.7 558.9 L835.4 558.4 L836.2 557.9 L837.0 557.4 L837.7 556.9 L838.5 556.4 L839.3 555.8 L840.0 555.3 L840.8 554.7 L841.6 554.1 L842.3 553.5 L843.1 552.9 L843.8 552.2 L844.6 551.6 L845.4 550.9 L846.1 550.1 L846.9 549.4 L847.7 548.6 L848.4 547.8 L849.2 547.0 L850.0 546.1 L850.7 545.3 L851.5 544.4 L852.3 543.5 L853.0 542.6 L853.8 541.7 L854.6 540.7 L855.3 539.8 L856.1 538.8 L856.9 537.9 L857.6 536.9 L858.4 535.9 L859.2 535.0 L859.9 534.0 L860.7 533.0 L861.5 532.0 L862.2 531.0 L863.0 530.0 L863.8 529.1 L864.5 528.1 L865.3 527.1 L866.1 526.1 L866.8 525.0 L867.6 524.0 L868.4 523.0 L869.1 522.0 L869.9 520.9 L870.7 519.9 L871.4 518.8 L872.2 517.8 L872.9 516.7 L873.7 515.7 L874.5 514.6 L875.2 513.5 L876.0 512.4 L876.8 511.3 L877.5 510.2 L878.3 509.0 L879.1 507.9 L879.8 506.8 L880.6 505.6 L881.4 504.5 L882.1 503.3 L882.9 502.2 L883.7 501.0 L884.4 499.8 L885.2 498.6 L886.0 497.5 L886.7 496.3 L887.5 495.1 L888.3 493.9 L889.0 492.7 L889.8 491.5 L890.6 490.3 L891.3 489.1 L892.1 487.9 L892.9 486.7 L893.6 485.5 L894.4 484.4 L895.2 483.2 L895.9 482.0 L896.7 480.8 L897.5 479.6 L898.2 478.4 L899.0 477.2 L899.8 476.0" fill="none" stroke="#8a8a8a" stroke-width="2" stroke-dasharray="7.1 7.6"/>
<line x1="670.4" y1="552.78" x2="900.4" y2="552.78" stroke="#000" stroke-width="2.2" stroke-dasharray="7.1 7.6"/>
<line x1="845.5" y1="443.1" x2="845.5" y2="625.9" stroke="#000" stroke-width="2.2" stroke-dasharray="7 7.75" stroke-dashoffset="1.8"/>
</g>
<line x1="727.9" y1="625.9" x2="727.9" y2="620.2" stroke="#222222" stroke-width="2"/>
<line x1="727.9" y1="443.1" x2="727.9" y2="448.8" stroke="#222222" stroke-width="2"/>
<line x1="785.4" y1="625.9" x2="785.4" y2="620.2" stroke="#222222" stroke-width="2"/>
<line x1="785.4" y1="443.1" x2="785.4" y2="448.8" stroke="#222222" stroke-width="2"/>
<line x1="842.9" y1="625.9" x2="842.9" y2="620.2" stroke="#222222" stroke-width="2"/>
<line x1="842.9" y1="443.1" x2="842.9" y2="448.8" stroke="#222222" stroke-width="2"/>
<line x1="670.4" y1="497.94" x2="676.1" y2="497.94" stroke="#222222" stroke-width="2"/>
<line x1="900.4" y1="497.94" x2="894.7" y2="497.94" stroke="#222222" stroke-width="2"/>
<line x1="670.4" y1="552.78" x2="676.1" y2="552.78" stroke="#222222" stroke-width="2"/>
<line x1="900.4" y1="552.78" x2="894.7" y2="552.78" stroke="#222222" stroke-width="2"/>
<line x1="670.4" y1="607.62" x2="676.1" y2="607.62" stroke="#222222" stroke-width="2"/>
<line x1="900.4" y1="607.62" x2="894.7" y2="607.62" stroke="#222222" stroke-width="2"/>
<path d="M736.61 601.67 V616.36 M731.21 601.67 H742.01 M731.21 616.36 H742.01" stroke="#0000ff" stroke-width="1.5" fill="none"/>
<circle cx="736.61" cy="609.02" r="3.8" fill="#0000ff"/>
<path d="M786.18 582.26 V598.52 M780.78 582.26 H791.58 M780.78 598.52 H791.58" stroke="#0000ff" stroke-width="1.5" fill="none"/>
<circle cx="786.18" cy="590.13" r="3.8" fill="#0000ff"/>
<path d="M822.38 555.51 V580.43 M816.98 555.51 H827.78 M816.98 580.43 H827.78" stroke="#0000ff" stroke-width="1.5" fill="none"/>
<circle cx="822.38" cy="567.84" r="3.8" fill="#0000ff"/>
<path d="M834.44 543.7 V572.3 M829.04 543.7 H839.84 M829.04 572.3 H839.84" stroke="#0000ff" stroke-width="1.5" fill="none"/>
<circle cx="834.44" cy="558.13" r="3.8" fill="#0000ff"/>
<rect x="670.4" y="443.1" width="230" height="182.8" fill="none" stroke="#222222" stroke-width="2"/>
<text x="663" y="447.9" font-size="13.3" text-anchor="end" fill="#3a3532">30</text>
<text x="663" y="502.9" font-size="13.3" text-anchor="end" fill="#3a3532">15</text>
<text x="663" y="558.3" font-size="13.3" text-anchor="end" fill="#3a3532">0</text>
<text x="663" y="613.6" font-size="13.3" text-anchor="end" fill="#3a3532">−15</text>
<text transform="translate(631 534.6) rotate(-90)" font-size="14.2" letter-spacing="-0.28" text-anchor="middle" fill="#3a3532">Polar. angle (Degree)</text>
<text x="620" y="446" font-size="20.5" text-anchor="start" fill="#3a3532" font-weight="bold" fill="#111">k</text>
<g clip-path="url(#c33)">
<path d="M670.8 833.2 L671.5 833.2 L672.3 833.1 L673.0 833.1 L673.8 833.1 L674.5 833.1 L675.3 833.1 L676.0 833.1 L676.8 833.0 L677.5 833.0 L678.3 833.0 L679.0 833.0 L679.8 832.9 L680.6 832.9 L681.3 832.9 L682.1 832.8 L682.8 832.8 L683.6 832.8 L684.3 832.7 L685.1 832.7 L685.8 832.7 L686.6 832.6 L687.3 832.6 L688.1 832.6 L688.8 832.5 L689.6 832.5 L690.3 832.4 L691.1 832.4 L691.8 832.4 L692.6 832.3 L693.4 832.3 L694.1 832.2 L694.9 832.2 L695.6 832.1 L696.4 832.1 L697.1 832.0 L697.9 832.0 L698.6 831.9 L699.4 831.9 L700.1 831.8 L700.9 831.8 L701.6 831.7 L702.4 831.7 L703.1 831.6 L703.9 831.5 L704.6 831.5 L705.4 831.4 L706.1 831.4 L706.9 831.3 L707.7 831.2 L708.4 831.2 L709.2 831.1 L709.9 831.0 L710.7 831.0 L711.4 830.9 L712.2 830.8 L712.9 830.8 L713.7 830.7 L714.4 830.6 L715.2 830.5 L715.9 830.5 L716.7 830.4 L717.4 830.3 L718.2 830.2 L718.9 830.2 L719.7 830.1 L720.4 830.0 L721.2 829.9 L722.0 829.8 L722.7 829.8 L723.5 829.7 L724.2 829.6 L725.0 829.5 L725.7 829.4 L726.5 829.3 L727.2 829.2 L728.0 829.1 L728.7 829.0 L729.5 828.9 L730.2 828.8 L731.0 828.8 L731.7 828.7 L732.5 828.6 L733.2 828.5 L734.0 828.4 L734.7 828.2 L735.5 828.1 L736.3 828.0 L737.0 827.9 L737.8 827.8 L738.5 827.7 L739.3 827.6 L740.0 827.5 L740.8 827.4 L741.5 827.2 L742.3 827.1 L743.0 827.0 L743.8 826.9 L744.5 826.8 L745.3 826.6 L746.0 826.5 L746.8 826.4 L747.5 826.3 L748.3 826.1 L749.0 826.0 L749.8 825.9 L750.6 825.7 L751.3 825.6 L752.1 825.5 L752.8 825.3 L753.6 825.2 L754.3 825.0 L755.1 824.9 L755.8 824.7 L756.6 824.6 L757.3 824.4 L758.1 824.3 L758.8 824.1 L759.6 824.0 L760.3 823.8 L761.1 823.7 L761.8 823.5 L762.6 823.3 L763.3 823.2 L764.1 823.0 L764.9 822.9 L765.6 822.7 L766.4 822.5 L767.1 822.4 L767.9 822.2 L768.6 822.0 L769.4 821.9 L770.1 821.7 L770.9 821.5 L771.6 821.4 L772.4 821.2 L773.1 821.0 L773.9 820.9 L774.6 820.7 L775.4 820.5 L776.1 820.4 L776.9 820.2 L777.7 820.0 L778.4 819.9 L779.2 819.7 L779.9 819.5 L780.7 819.4 L781.4 819.2 L782.2 819.0 L782.9 818.9 L783.7 818.7 L784.4 818.5 L785.2 818.4 L785.9 818.2 L786.7 818.0 L787.4 817.9 L788.2 817.7 L788.9 817.5 L789.7 817.4 L790.4 817.2 L791.2 817.0 L792.0 816.9 L792.7 816.7 L793.5 816.5 L794.2 816.3 L795.0 816.1 L795.7 816.0 L796.5 815.8 L797.2 815.6 L798.0 815.4 L798.7 815.2 L799.5 815.1 L800.2 814.9 L801.0 814.7 L801.7 814.5 L802.5 814.3 L803.2 814.1 L804.0 813.9 L804.7 813.8 L805.5 813.6 L806.3 813.4 L807.0 813.2 L807.8 813.0 L808.5 812.8 L809.3 812.6 L810.0 812.4 L810.8 812.2 L811.5 812.0 L812.3 811.9 L813.0 811.7 L813.8 811.5 L814.5 811.3 L815.3 811.1 L816.0 810.9 L816.8 810.7 L817.5 810.5 L818.3 810.3 L819.0 810.1 L819.8 810.0 L820.6 809.8 L821.3 809.6 L822.1 809.4 L822.8 809.2 L823.6 809.0 L824.3 808.8 L825.1 808.6 L825.8 808.4 L826.6 808.3 L827.3 808.1 L828.1 807.9 L828.8 807.7 L829.6 807.5 L830.3 807.3 L831.1 807.1 L831.8 806.9 L832.6 806.8 L833.3 806.6 L834.1 806.4 L834.9 806.2 L835.6 806.0 L836.4 805.8 L837.1 805.6 L837.9 805.4 L838.6 805.3 L839.4 805.1 L840.1 804.9 L840.9 804.7 L841.6 804.5 L842.4 804.3 L843.1 804.1 L843.9 803.9 L844.6 803.7 L845.4 803.5 L846.1 803.3 L846.9 803.1 L847.6 803.0 L848.4 802.8 L849.2 802.6 L849.9 802.4 L850.7 802.2 L851.4 802.0 L852.2 801.8 L852.9 801.6 L853.7 801.4 L854.4 801.3 L855.2 801.1 L855.9 800.9 L856.7 800.7 L857.4 800.5 L858.2 800.3 L858.9 800.2 L859.7 800.0 L860.4 799.8 L861.2 799.6 L861.9 799.5 L862.7 799.3 L863.5 799.1 L864.2 798.9 L865.0 798.8 L865.7 798.6 L866.5 798.4 L867.2 798.3 L868.0 798.1 L868.7 797.9 L869.5 797.8 L870.2 797.6 L871.0 797.4 L871.7 797.3 L872.5 797.1 L873.2 796.9 L874.0 796.8 L874.7 796.6 L875.5 796.4 L876.3 796.3 L877.0 796.1 L877.8 795.9 L878.5 795.8 L879.3 795.6 L880.0 795.4 L880.8 795.3 L881.5 795.1 L882.3 794.9 L883.0 794.8 L883.8 794.6 L884.5 794.4 L885.3 794.2 L886.0 794.1 L886.8 793.9 L887.5 793.7 L888.3 793.5 L889.0 793.4 L889.8 793.2 L890.6 793.0 L891.3 792.8 L892.1 792.7 L892.8 792.5 L893.6 792.3 L894.3 792.1 L895.1 791.9 L895.8 791.7" fill="none" stroke="#8a8a8a" stroke-width="2" stroke-dasharray="7.1 7.6"/>
<line x1="670.4" y1="763.88" x2="704.3" y2="763.88" stroke="#000" stroke-width="2.2" stroke-dasharray="7.1 7.7" stroke-dashoffset="1.9"/>
<line x1="840.1" y1="763.88" x2="900.4" y2="763.88" stroke="#000" stroke-width="2.2" stroke-dasharray="7.1 7.7"/>
</g>
<line x1="727.9" y1="837" x2="727.9" y2="831.3" stroke="#222222" stroke-width="2"/>
<line x1="727.9" y1="654.2" x2="727.9" y2="659.9" stroke="#222222" stroke-width="2"/>
<line x1="785.4" y1="837" x2="785.4" y2="831.3" stroke="#222222" stroke-width="2"/>
<line x1="785.4" y1="654.2" x2="785.4" y2="659.9" stroke="#222222" stroke-width="2"/>
<line x1="842.9" y1="837" x2="842.9" y2="831.3" stroke="#222222" stroke-width="2"/>
<line x1="842.9" y1="654.2" x2="842.9" y2="659.9" stroke="#222222" stroke-width="2"/>
<line x1="670.4" y1="709.04" x2="676.1" y2="709.04" stroke="#222222" stroke-width="2"/>
<line x1="900.4" y1="709.04" x2="894.7" y2="709.04" stroke="#222222" stroke-width="2"/>
<line x1="670.4" y1="763.88" x2="676.1" y2="763.88" stroke="#222222" stroke-width="2"/>
<line x1="900.4" y1="763.88" x2="894.7" y2="763.88" stroke="#222222" stroke-width="2"/>
<line x1="670.4" y1="818.72" x2="676.1" y2="818.72" stroke="#222222" stroke-width="2"/>
<line x1="900.4" y1="818.72" x2="894.7" y2="818.72" stroke="#222222" stroke-width="2"/>
<path d="M758.9 818.49 V833.44 M753.5 818.49 H764.3 M753.5 833.44 H764.3" stroke="#0000ff" stroke-width="1.5" fill="none"/>
<circle cx="758.9" cy="826.1" r="3.8" fill="#0000ff"/>
<path d="M799.03 805.9 V827.15 M793.63 805.9 H804.43 M793.63 827.15 H804.43" stroke="#0000ff" stroke-width="1.5" fill="none"/>
<circle cx="799.03" cy="816.39" r="3.8" fill="#0000ff"/>
<rect x="670.4" y="654.2" width="230" height="182.8" fill="none" stroke="#222222" stroke-width="2"/>
<text x="663" y="657.9" font-size="13.3" text-anchor="end" fill="#3a3532">30</text>
<text x="663" y="712.9" font-size="13.3" text-anchor="end" fill="#3a3532">15</text>
<text x="663" y="768.3" font-size="13.3" text-anchor="end" fill="#3a3532">0</text>
<text x="663" y="823.6" font-size="13.3" text-anchor="end" fill="#3a3532">−15</text>
<text transform="translate(631 745.7) rotate(-90)" font-size="14.2" letter-spacing="-0.28" text-anchor="middle" fill="#3a3532">Polar. angle (Degree)</text>
<text x="620" y="656" font-size="20.5" text-anchor="start" fill="#3a3532" font-weight="bold" fill="#111">l</text>
<text x="670.4" y="853.9" font-size="13.3" text-anchor="middle" fill="#3a3532">200</text>
<text x="727.9" y="853.9" font-size="13.3" text-anchor="middle" fill="#3a3532">300</text>
<text x="785.4" y="853.9" font-size="13.3" text-anchor="middle" fill="#3a3532">400</text>
<text x="842.9" y="853.9" font-size="13.3" text-anchor="middle" fill="#3a3532">500</text>
<text x="900.4" y="853.9" font-size="13.3" text-anchor="middle" fill="#3a3532">600</text>
<text x="784.9" y="873.5" font-size="13.6" text-anchor="middle" fill="#3a3532">Plasmon frequency (cm<tspan dy="-5.9" font-size="8.7">−1</tspan><tspan dy="5.9">)</tspan></text>
<line x1="685.3" y1="45.6" x2="707.2" y2="45.6" stroke="#8a8a8a" stroke-width="1.9" stroke-dasharray="7.2 7.4"/>
<text x="714.8" y="50" font-size="13.55" text-anchor="start" fill="#3a3532">Fit bare film</text>
<path d="M698.6 58.7 V73.1 M693.2 58.7 H704 M693.2 73.1 H704" stroke="#0000ff" stroke-width="1.5" fill="none"/>
<circle cx="698.6" cy="65.7" r="3.8" fill="#0000ff"/>
<text x="714.8" y="70" font-size="13.55" text-anchor="start" fill="#3a3532">Expt.</text>
<rect x="704.3" y="662.4" width="135.1" height="111" fill="#ffffff"/>
<polygon points="721.1,714.1 759.7,703.9 789.3,697.0 803.2,679.2 817.4,677.6 817.4,723.5 803.2,735.1 789.3,749.8 759.7,754.2 721.1,756.3" fill="#dcdcdc"/>
<rect x="717.63" y="710.6" width="7" height="7" fill="#0000ff"/>
<rect x="756.19" y="700.37" width="7" height="7" fill="#0000ff"/>
<rect x="785.83" y="693.55" width="7" height="7" fill="#0000ff"/>
<rect x="799.73" y="675.71" width="7" height="7" fill="#0000ff"/>
<rect x="813.89" y="674.14" width="7" height="7" fill="#0000ff"/>
<circle cx="721.13" cy="756.33" r="4.4" fill="#ff0000"/>
<circle cx="759.69" cy="754.23" r="4.4" fill="#ff0000"/>
<circle cx="789.33" cy="749.77" r="4.4" fill="#ff0000"/>
<circle cx="803.23" cy="735.08" r="4.4" fill="#ff0000"/>
<circle cx="817.39" cy="723.54" r="4.4" fill="#ff0000"/>
<line x1="715.56" y1="773.4" x2="715.56" y2="769.8" stroke="#222222" stroke-width="1.6"/>
<line x1="715.56" y1="662.4" x2="715.56" y2="666" stroke="#222222" stroke-width="1.6"/>
<line x1="743.7" y1="773.4" x2="743.7" y2="769.8" stroke="#222222" stroke-width="1.6"/>
<line x1="743.7" y1="662.4" x2="743.7" y2="666" stroke="#222222" stroke-width="1.6"/>
<line x1="771.85" y1="773.4" x2="771.85" y2="769.8" stroke="#222222" stroke-width="1.6"/>
<line x1="771.85" y1="662.4" x2="771.85" y2="666" stroke="#222222" stroke-width="1.6"/>
<line x1="800" y1="773.4" x2="800" y2="769.8" stroke="#222222" stroke-width="1.6"/>
<line x1="800" y1="662.4" x2="800" y2="666" stroke="#222222" stroke-width="1.6"/>
<line x1="828.14" y1="773.4" x2="828.14" y2="769.8" stroke="#222222" stroke-width="1.6"/>
<line x1="828.14" y1="662.4" x2="828.14" y2="666" stroke="#222222" stroke-width="1.6"/>
<line x1="704.3" y1="761.07" x2="707.9" y2="761.07" stroke="#222222" stroke-width="1.6"/>
<line x1="839.4" y1="761.07" x2="835.8" y2="761.07" stroke="#222222" stroke-width="1.6"/>
<line x1="704.3" y1="736.4" x2="707.9" y2="736.4" stroke="#222222" stroke-width="1.6"/>
<line x1="839.4" y1="736.4" x2="835.8" y2="736.4" stroke="#222222" stroke-width="1.6"/>
<line x1="704.3" y1="711.73" x2="707.9" y2="711.73" stroke="#222222" stroke-width="1.6"/>
<line x1="839.4" y1="711.73" x2="835.8" y2="711.73" stroke="#222222" stroke-width="1.6"/>
<line x1="704.3" y1="687.07" x2="707.9" y2="687.07" stroke="#222222" stroke-width="1.6"/>
<line x1="839.4" y1="687.07" x2="835.8" y2="687.07" stroke="#222222" stroke-width="1.6"/>
<rect x="704.3" y="662.4" width="135.1" height="111" fill="none" stroke="#222222" stroke-width="2"/>
<text x="699.1" y="740.5" font-size="11.4" text-anchor="end" fill="#3a3532">500</text>
<text x="699.1" y="691.17" font-size="11.4" text-anchor="end" fill="#3a3532">700</text>
<text x="715.56" y="787.6" font-size="11.4" text-anchor="middle" fill="#3a3532">0</text>
<text x="771.85" y="787.6" font-size="11.4" text-anchor="middle" fill="#3a3532">100</text>
<text x="828.14" y="787.6" font-size="11.4" text-anchor="middle" fill="#3a3532">200</text>
<text x="768.9" y="799.8" font-size="11.4" text-anchor="middle" fill="#3a3532">Temp. (K)</text>
<text transform="translate(856.2 718.8) rotate(-90)" font-size="11.4" letter-spacing="-0.2" text-anchor="middle" fill="#3a3532">Regime (cm<tspan dy="-3.8" font-size="7.2">−1</tspan><tspan dy="3.8">)</tspan></text>
</svg>
</body>
</html>
